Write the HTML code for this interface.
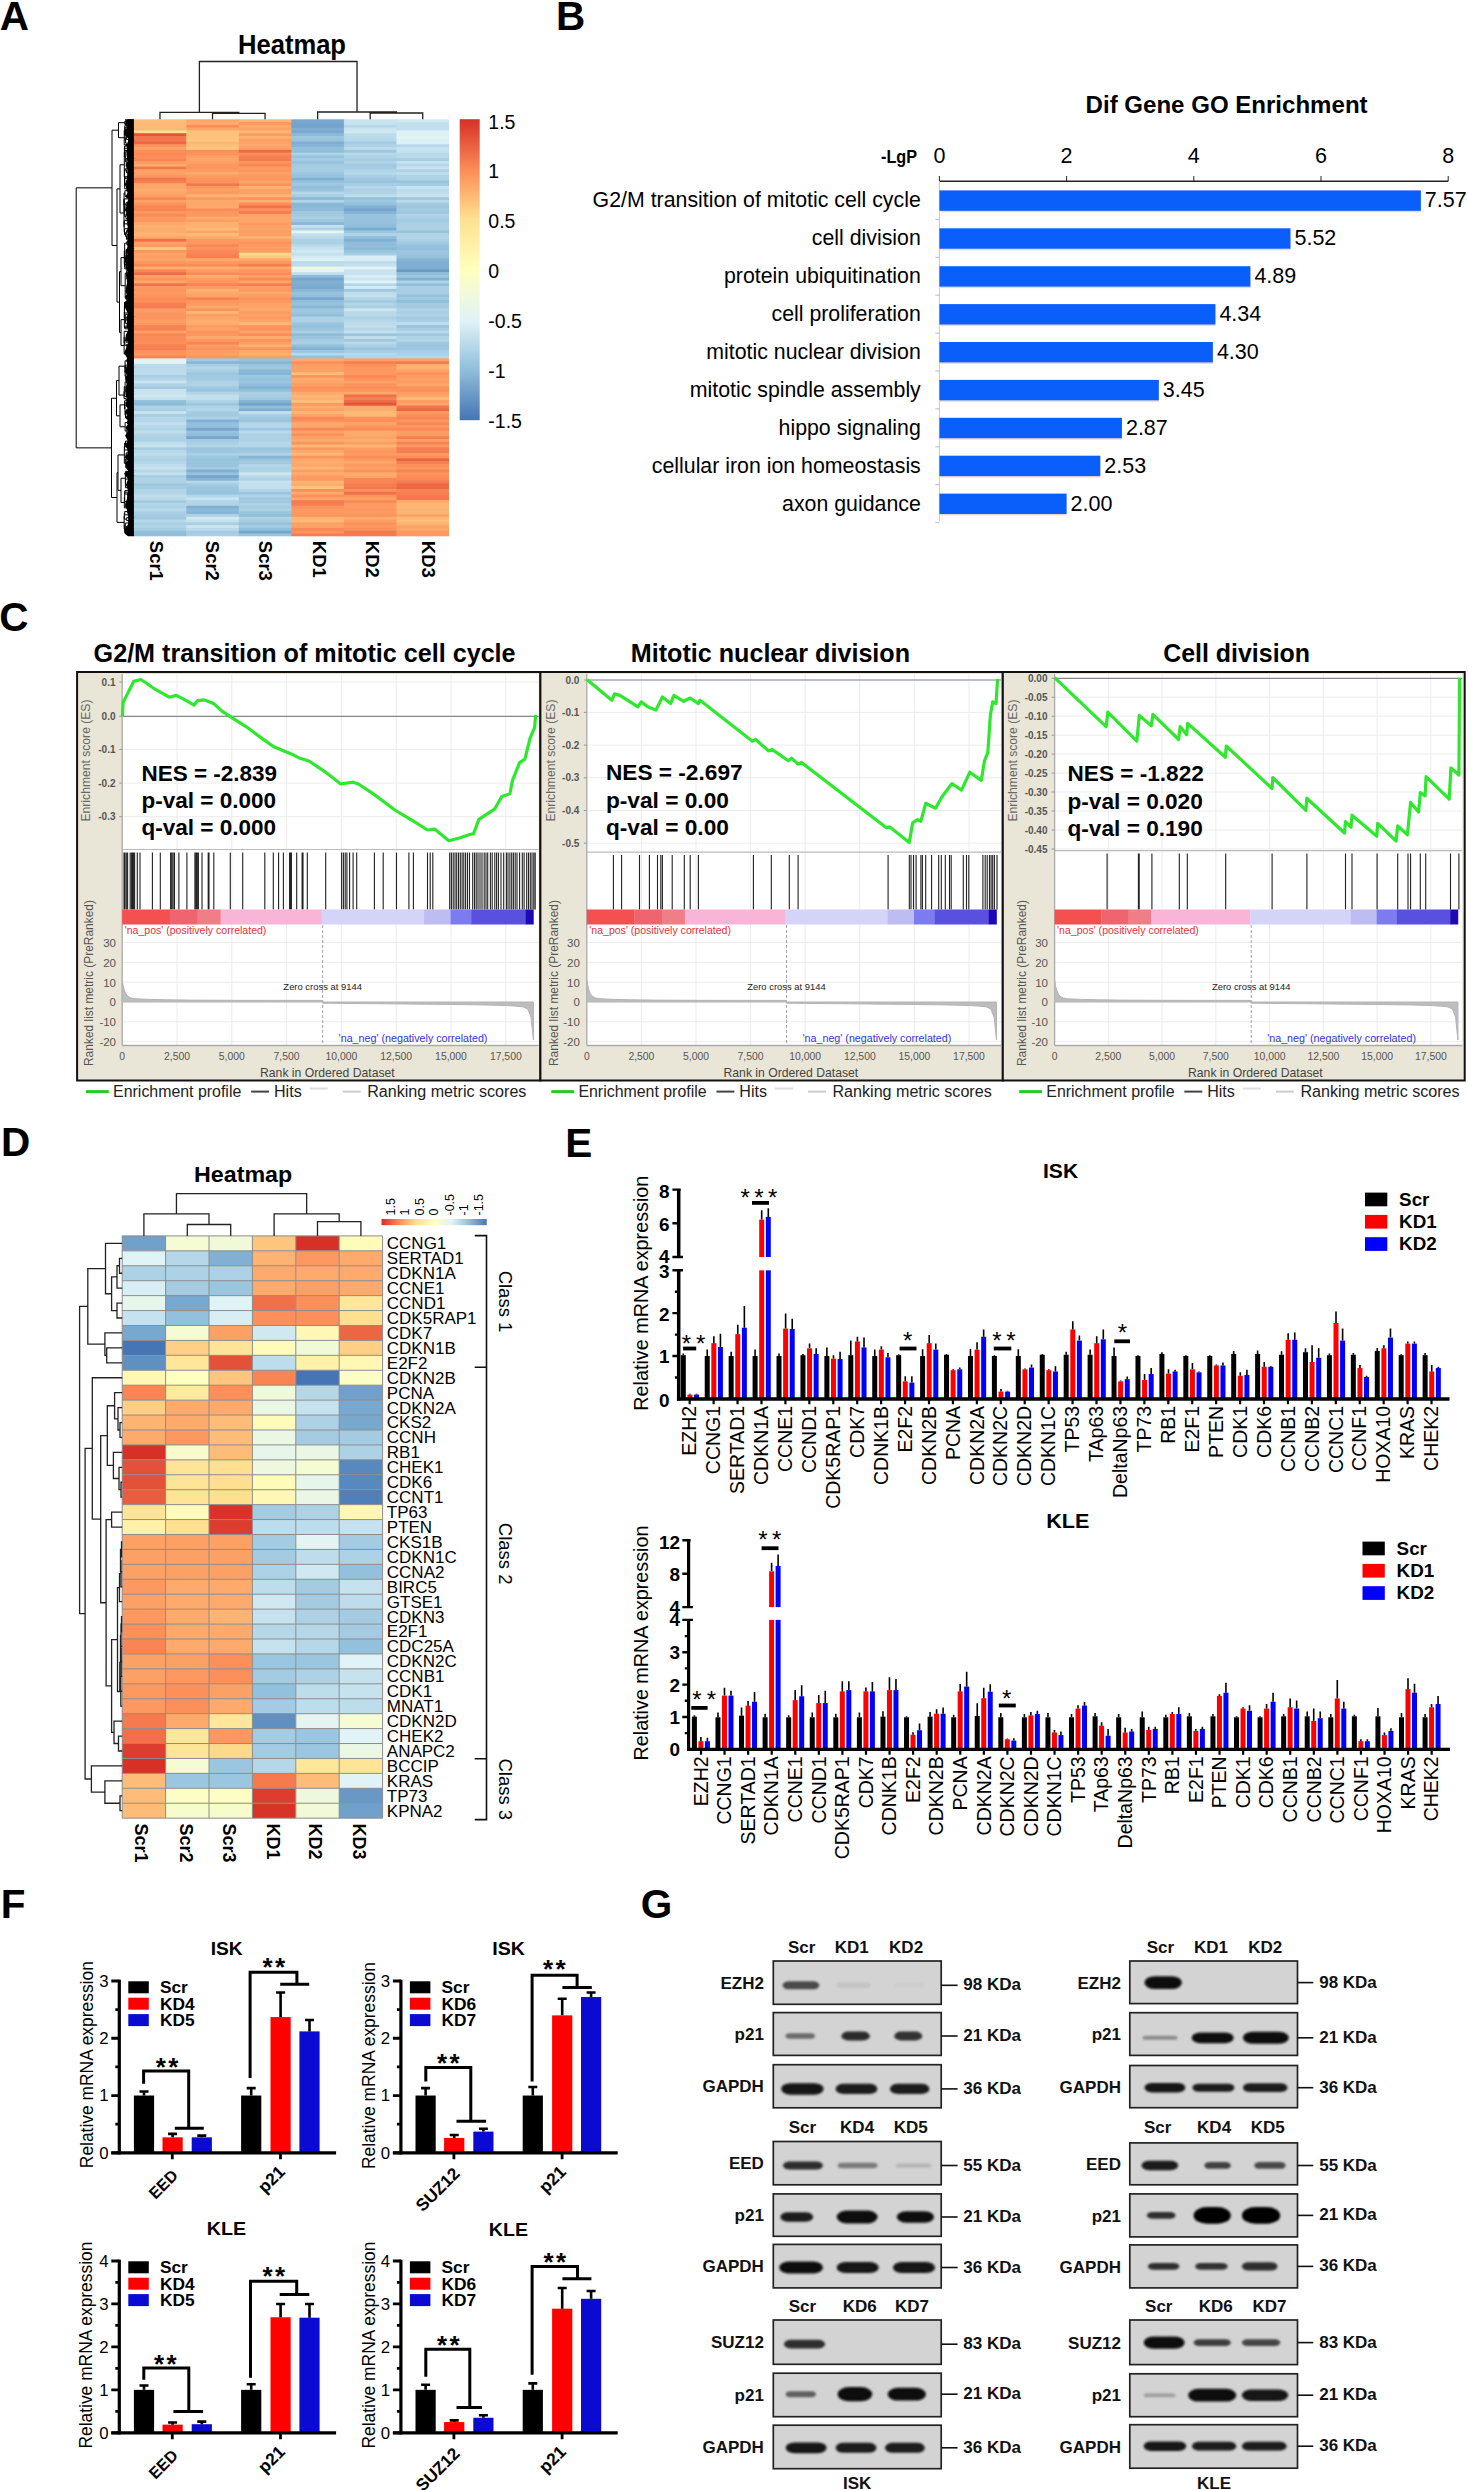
<!DOCTYPE html>
<html><head><meta charset="utf-8"><title>Figure</title>
<style>html,body{margin:0;padding:0;background:#fff;overflow:hidden}svg{display:block}text{font-family:"Liberation Sans",sans-serif}</style>
</head><body>
<svg width="1468" height="2490" viewBox="0 0 1468 2490">
<rect width="1468" height="2490" fill="#fff"/>
<text x="-0.2" y="29.6" font-size="40.5" font-weight="bold">A</text>
<text x="238" y="54.3" font-size="27" font-weight="bold" textLength="108" lengthAdjust="spacingAndGlyphs">Heatmap</text>
<rect x="133.7" y="119.3" width="53.15" height="3.38" fill="#fdbd79"/>
<rect x="186.25" y="119.3" width="53.15" height="3.38" fill="#fda66a"/>
<rect x="238.8" y="119.3" width="53.15" height="3.38" fill="#fdb574"/>
<rect x="291.35" y="119.3" width="53.15" height="3.38" fill="#77a6ce"/>
<rect x="343.9" y="119.3" width="53.15" height="3.38" fill="#c9e4f0"/>
<rect x="396.45" y="119.3" width="52.55" height="3.38" fill="#cfe8f2"/>
<rect x="133.7" y="122.08" width="53.15" height="3.38" fill="#fdb976"/>
<rect x="186.25" y="122.08" width="53.15" height="3.38" fill="#fdaa6c"/>
<rect x="238.8" y="122.08" width="53.15" height="3.38" fill="#fc965f"/>
<rect x="291.35" y="122.08" width="53.15" height="3.38" fill="#76a5cd"/>
<rect x="343.9" y="122.08" width="53.15" height="3.38" fill="#c6e2ef"/>
<rect x="396.45" y="122.08" width="52.55" height="3.38" fill="#c1dfed"/>
<rect x="133.7" y="124.86" width="53.15" height="3.38" fill="#fdba77"/>
<rect x="186.25" y="124.86" width="53.15" height="3.38" fill="#fc8d59"/>
<rect x="238.8" y="124.86" width="53.15" height="3.38" fill="#fdaa6c"/>
<rect x="291.35" y="124.86" width="53.15" height="3.38" fill="#74a3cc"/>
<rect x="343.9" y="124.86" width="53.15" height="3.38" fill="#b6d8e9"/>
<rect x="396.45" y="124.86" width="52.55" height="3.38" fill="#c2dfed"/>
<rect x="133.7" y="127.64" width="53.15" height="3.38" fill="#fdb976"/>
<rect x="186.25" y="127.64" width="53.15" height="3.38" fill="#fda569"/>
<rect x="238.8" y="127.64" width="53.15" height="3.38" fill="#fda267"/>
<rect x="291.35" y="127.64" width="53.15" height="3.38" fill="#7faed2"/>
<rect x="343.9" y="127.64" width="53.15" height="3.38" fill="#cae4f0"/>
<rect x="396.45" y="127.64" width="52.55" height="3.38" fill="#c1dfed"/>
<rect x="133.7" y="130.42" width="53.15" height="3.38" fill="#fee090"/>
<rect x="186.25" y="130.42" width="53.15" height="3.38" fill="#fdc37d"/>
<rect x="238.8" y="130.42" width="53.15" height="3.38" fill="#fdb674"/>
<rect x="291.35" y="130.42" width="53.15" height="3.38" fill="#7aa9cf"/>
<rect x="343.9" y="130.42" width="53.15" height="3.38" fill="#cfe8f2"/>
<rect x="396.45" y="130.42" width="52.55" height="3.38" fill="#dff2f8"/>
<rect x="133.7" y="133.2" width="53.15" height="3.38" fill="#e5543a"/>
<rect x="186.25" y="133.2" width="53.15" height="3.38" fill="#fdc17b"/>
<rect x="238.8" y="133.2" width="53.15" height="3.38" fill="#fc9c63"/>
<rect x="291.35" y="133.2" width="53.15" height="3.38" fill="#8bb9d8"/>
<rect x="343.9" y="133.2" width="53.15" height="3.38" fill="#bcdbeb"/>
<rect x="396.45" y="133.2" width="52.55" height="3.38" fill="#ddf1f7"/>
<rect x="133.7" y="135.98" width="53.15" height="3.38" fill="#f3774d"/>
<rect x="186.25" y="135.98" width="53.15" height="3.38" fill="#fdc27c"/>
<rect x="238.8" y="135.98" width="53.15" height="3.38" fill="#fdb171"/>
<rect x="291.35" y="135.98" width="53.15" height="3.38" fill="#9fc8e0"/>
<rect x="343.9" y="135.98" width="53.15" height="3.38" fill="#b9daea"/>
<rect x="396.45" y="135.98" width="52.55" height="3.38" fill="#e4f5f0"/>
<rect x="133.7" y="138.76" width="53.15" height="3.38" fill="#f3774d"/>
<rect x="186.25" y="138.76" width="53.15" height="3.38" fill="#fdc67f"/>
<rect x="238.8" y="138.76" width="53.15" height="3.38" fill="#fca166"/>
<rect x="291.35" y="138.76" width="53.15" height="3.38" fill="#97c3dd"/>
<rect x="343.9" y="138.76" width="53.15" height="3.38" fill="#b6d7e9"/>
<rect x="396.45" y="138.76" width="52.55" height="3.38" fill="#dbf0f6"/>
<rect x="133.7" y="141.54" width="53.15" height="3.38" fill="#ed6845"/>
<rect x="186.25" y="141.54" width="53.15" height="3.38" fill="#fdb674"/>
<rect x="238.8" y="141.54" width="53.15" height="3.38" fill="#fda368"/>
<rect x="291.35" y="141.54" width="53.15" height="3.38" fill="#7faed2"/>
<rect x="343.9" y="141.54" width="53.15" height="3.38" fill="#a3cbe2"/>
<rect x="396.45" y="141.54" width="52.55" height="3.38" fill="#def1f7"/>
<rect x="133.7" y="144.32" width="53.15" height="3.38" fill="#fc935d"/>
<rect x="186.25" y="144.32" width="53.15" height="3.38" fill="#fdc07b"/>
<rect x="238.8" y="144.32" width="53.15" height="3.38" fill="#fda66a"/>
<rect x="291.35" y="144.32" width="53.15" height="3.38" fill="#87b5d6"/>
<rect x="343.9" y="144.32" width="53.15" height="3.38" fill="#add2e5"/>
<rect x="396.45" y="144.32" width="52.55" height="3.38" fill="#b6d7e9"/>
<rect x="133.7" y="147.1" width="53.15" height="3.38" fill="#fca267"/>
<rect x="186.25" y="147.1" width="53.15" height="3.38" fill="#fdc57e"/>
<rect x="238.8" y="147.1" width="53.15" height="3.38" fill="#fc9f65"/>
<rect x="291.35" y="147.1" width="53.15" height="3.38" fill="#92c0dc"/>
<rect x="343.9" y="147.1" width="53.15" height="3.38" fill="#bbdaea"/>
<rect x="396.45" y="147.1" width="52.55" height="3.38" fill="#c8e3ef"/>
<rect x="133.7" y="149.88" width="53.15" height="3.38" fill="#fc8e59"/>
<rect x="186.25" y="149.88" width="53.15" height="3.38" fill="#fc905b"/>
<rect x="238.8" y="149.88" width="53.15" height="3.38" fill="#ee6946"/>
<rect x="291.35" y="149.88" width="53.15" height="3.38" fill="#90bedb"/>
<rect x="343.9" y="149.88" width="53.15" height="3.38" fill="#9dc7df"/>
<rect x="396.45" y="149.88" width="52.55" height="3.38" fill="#c6e2ee"/>
<rect x="133.7" y="152.66" width="53.15" height="3.38" fill="#fa8957"/>
<rect x="186.25" y="152.66" width="53.15" height="3.38" fill="#fc935d"/>
<rect x="238.8" y="152.66" width="53.15" height="3.38" fill="#fc8e5a"/>
<rect x="291.35" y="152.66" width="53.15" height="3.38" fill="#aed2e6"/>
<rect x="343.9" y="152.66" width="53.15" height="3.38" fill="#b8d8e9"/>
<rect x="396.45" y="152.66" width="52.55" height="3.38" fill="#b8d9e9"/>
<rect x="133.7" y="155.44" width="53.15" height="3.38" fill="#fc8e5a"/>
<rect x="186.25" y="155.44" width="53.15" height="3.38" fill="#fca066"/>
<rect x="238.8" y="155.44" width="53.15" height="3.38" fill="#f67e51"/>
<rect x="291.35" y="155.44" width="53.15" height="3.38" fill="#97c3dd"/>
<rect x="343.9" y="155.44" width="53.15" height="3.38" fill="#add2e5"/>
<rect x="396.45" y="155.44" width="52.55" height="3.38" fill="#b9daea"/>
<rect x="133.7" y="158.22" width="53.15" height="3.38" fill="#f98756"/>
<rect x="186.25" y="158.22" width="53.15" height="3.38" fill="#fda569"/>
<rect x="238.8" y="158.22" width="53.15" height="3.38" fill="#f57a4f"/>
<rect x="291.35" y="158.22" width="53.15" height="3.38" fill="#a3cbe2"/>
<rect x="343.9" y="158.22" width="53.15" height="3.38" fill="#a5cce3"/>
<rect x="396.45" y="158.22" width="52.55" height="3.38" fill="#a7cee3"/>
<rect x="133.7" y="161" width="53.15" height="3.38" fill="#fc9a62"/>
<rect x="186.25" y="161" width="53.15" height="3.38" fill="#fca066"/>
<rect x="238.8" y="161" width="53.15" height="3.38" fill="#fc965f"/>
<rect x="291.35" y="161" width="53.15" height="3.38" fill="#97c3dd"/>
<rect x="343.9" y="161" width="53.15" height="3.38" fill="#b0d3e6"/>
<rect x="396.45" y="161" width="52.55" height="3.38" fill="#c6e2ee"/>
<rect x="133.7" y="163.78" width="53.15" height="3.38" fill="#fdae6f"/>
<rect x="186.25" y="163.78" width="53.15" height="3.38" fill="#fc9760"/>
<rect x="238.8" y="163.78" width="53.15" height="3.38" fill="#fa8756"/>
<rect x="291.35" y="163.78" width="53.15" height="3.38" fill="#a4cbe2"/>
<rect x="343.9" y="163.78" width="53.15" height="3.38" fill="#a1cae1"/>
<rect x="396.45" y="163.78" width="52.55" height="3.38" fill="#b6d7e9"/>
<rect x="133.7" y="166.56" width="53.15" height="3.38" fill="#f4784e"/>
<rect x="186.25" y="166.56" width="53.15" height="3.38" fill="#fc965f"/>
<rect x="238.8" y="166.56" width="53.15" height="3.38" fill="#fc9b62"/>
<rect x="291.35" y="166.56" width="53.15" height="3.38" fill="#a6cde3"/>
<rect x="343.9" y="166.56" width="53.15" height="3.38" fill="#a6cde3"/>
<rect x="396.45" y="166.56" width="52.55" height="3.38" fill="#c8e3ef"/>
<rect x="133.7" y="169.34" width="53.15" height="3.38" fill="#fca065"/>
<rect x="186.25" y="169.34" width="53.15" height="3.38" fill="#fc9c63"/>
<rect x="238.8" y="169.34" width="53.15" height="3.38" fill="#fc955e"/>
<rect x="291.35" y="169.34" width="53.15" height="3.38" fill="#a5cce2"/>
<rect x="343.9" y="169.34" width="53.15" height="3.38" fill="#b1d4e7"/>
<rect x="396.45" y="169.34" width="52.55" height="3.38" fill="#add1e5"/>
<rect x="133.7" y="172.12" width="53.15" height="3.38" fill="#fca166"/>
<rect x="186.25" y="172.12" width="53.15" height="3.38" fill="#fda96b"/>
<rect x="238.8" y="172.12" width="53.15" height="3.38" fill="#fc9e64"/>
<rect x="291.35" y="172.12" width="53.15" height="3.38" fill="#9bc6df"/>
<rect x="343.9" y="172.12" width="53.15" height="3.38" fill="#b6d7e9"/>
<rect x="396.45" y="172.12" width="52.55" height="3.38" fill="#bfddec"/>
<rect x="133.7" y="174.9" width="53.15" height="3.38" fill="#fc9760"/>
<rect x="186.25" y="174.9" width="53.15" height="3.38" fill="#fc9c63"/>
<rect x="238.8" y="174.9" width="53.15" height="3.38" fill="#fc9860"/>
<rect x="291.35" y="174.9" width="53.15" height="3.38" fill="#97c3dd"/>
<rect x="343.9" y="174.9" width="53.15" height="3.38" fill="#a9cfe4"/>
<rect x="396.45" y="174.9" width="52.55" height="3.38" fill="#aed2e6"/>
<rect x="133.7" y="177.68" width="53.15" height="3.38" fill="#f3774d"/>
<rect x="186.25" y="177.68" width="53.15" height="3.38" fill="#fc925c"/>
<rect x="238.8" y="177.68" width="53.15" height="3.38" fill="#fc955e"/>
<rect x="291.35" y="177.68" width="53.15" height="3.38" fill="#81b0d3"/>
<rect x="343.9" y="177.68" width="53.15" height="3.38" fill="#9ec7e0"/>
<rect x="396.45" y="177.68" width="52.55" height="3.38" fill="#aed2e6"/>
<rect x="133.7" y="180.46" width="53.15" height="3.38" fill="#f77f52"/>
<rect x="186.25" y="180.46" width="53.15" height="3.38" fill="#fc935d"/>
<rect x="238.8" y="180.46" width="53.15" height="3.38" fill="#fda468"/>
<rect x="291.35" y="180.46" width="53.15" height="3.38" fill="#95c2dc"/>
<rect x="343.9" y="180.46" width="53.15" height="3.38" fill="#99c4de"/>
<rect x="396.45" y="180.46" width="52.55" height="3.38" fill="#98c4de"/>
<rect x="133.7" y="183.24" width="53.15" height="3.38" fill="#fda468"/>
<rect x="186.25" y="183.24" width="53.15" height="3.38" fill="#f3774d"/>
<rect x="238.8" y="183.24" width="53.15" height="3.38" fill="#fc915c"/>
<rect x="291.35" y="183.24" width="53.15" height="3.38" fill="#9dc7df"/>
<rect x="343.9" y="183.24" width="53.15" height="3.38" fill="#a6cde3"/>
<rect x="396.45" y="183.24" width="52.55" height="3.38" fill="#a3cbe2"/>
<rect x="133.7" y="186.02" width="53.15" height="3.38" fill="#fda669"/>
<rect x="186.25" y="186.02" width="53.15" height="3.38" fill="#fc9961"/>
<rect x="238.8" y="186.02" width="53.15" height="3.38" fill="#fdb473"/>
<rect x="291.35" y="186.02" width="53.15" height="3.38" fill="#91bfdb"/>
<rect x="343.9" y="186.02" width="53.15" height="3.38" fill="#b5d7e8"/>
<rect x="396.45" y="186.02" width="52.55" height="3.38" fill="#c9e4f0"/>
<rect x="133.7" y="188.8" width="53.15" height="3.38" fill="#fdae6f"/>
<rect x="186.25" y="188.8" width="53.15" height="3.38" fill="#fc9f65"/>
<rect x="238.8" y="188.8" width="53.15" height="3.38" fill="#fc9f65"/>
<rect x="291.35" y="188.8" width="53.15" height="3.38" fill="#99c4de"/>
<rect x="343.9" y="188.8" width="53.15" height="3.38" fill="#abd0e5"/>
<rect x="396.45" y="188.8" width="52.55" height="3.38" fill="#bbdbeb"/>
<rect x="133.7" y="191.58" width="53.15" height="3.38" fill="#fda66a"/>
<rect x="186.25" y="191.58" width="53.15" height="3.38" fill="#fc9b62"/>
<rect x="238.8" y="191.58" width="53.15" height="3.38" fill="#fca166"/>
<rect x="291.35" y="191.58" width="53.15" height="3.38" fill="#b6d7e9"/>
<rect x="343.9" y="191.58" width="53.15" height="3.38" fill="#b1d4e7"/>
<rect x="396.45" y="191.58" width="52.55" height="3.38" fill="#c1deec"/>
<rect x="133.7" y="194.36" width="53.15" height="3.38" fill="#fc9f65"/>
<rect x="186.25" y="194.36" width="53.15" height="3.38" fill="#fdb372"/>
<rect x="238.8" y="194.36" width="53.15" height="3.38" fill="#fdb775"/>
<rect x="291.35" y="194.36" width="53.15" height="3.38" fill="#a7cee3"/>
<rect x="343.9" y="194.36" width="53.15" height="3.38" fill="#beddec"/>
<rect x="396.45" y="194.36" width="52.55" height="3.38" fill="#c8e3ef"/>
<rect x="133.7" y="197.14" width="53.15" height="3.38" fill="#fa8756"/>
<rect x="186.25" y="197.14" width="53.15" height="3.38" fill="#fc9a61"/>
<rect x="238.8" y="197.14" width="53.15" height="3.38" fill="#fc925c"/>
<rect x="291.35" y="197.14" width="53.15" height="3.38" fill="#8bb9d8"/>
<rect x="343.9" y="197.14" width="53.15" height="3.38" fill="#94c1dc"/>
<rect x="396.45" y="197.14" width="52.55" height="3.38" fill="#9ec8e0"/>
<rect x="133.7" y="199.92" width="53.15" height="3.38" fill="#fca267"/>
<rect x="186.25" y="199.92" width="53.15" height="3.38" fill="#fda86b"/>
<rect x="238.8" y="199.92" width="53.15" height="3.38" fill="#fdaf6f"/>
<rect x="291.35" y="199.92" width="53.15" height="3.38" fill="#b2d5e7"/>
<rect x="343.9" y="199.92" width="53.15" height="3.38" fill="#9ec8e0"/>
<rect x="396.45" y="199.92" width="52.55" height="3.38" fill="#badaea"/>
<rect x="133.7" y="202.7" width="53.15" height="3.38" fill="#fc935d"/>
<rect x="186.25" y="202.7" width="53.15" height="3.38" fill="#fda76a"/>
<rect x="238.8" y="202.7" width="53.15" height="3.38" fill="#fc8c58"/>
<rect x="291.35" y="202.7" width="53.15" height="3.38" fill="#89b7d7"/>
<rect x="343.9" y="202.7" width="53.15" height="3.38" fill="#94c1dc"/>
<rect x="396.45" y="202.7" width="52.55" height="3.38" fill="#a2cae1"/>
<rect x="133.7" y="205.48" width="53.15" height="3.38" fill="#f98454"/>
<rect x="186.25" y="205.48" width="53.15" height="3.38" fill="#fdaa6c"/>
<rect x="238.8" y="205.48" width="53.15" height="3.38" fill="#f1724b"/>
<rect x="291.35" y="205.48" width="53.15" height="3.38" fill="#8bb9d8"/>
<rect x="343.9" y="205.48" width="53.15" height="3.38" fill="#82b1d4"/>
<rect x="396.45" y="205.48" width="52.55" height="3.38" fill="#9dc7df"/>
<rect x="133.7" y="208.26" width="53.15" height="3.38" fill="#f98555"/>
<rect x="186.25" y="208.26" width="53.15" height="3.38" fill="#fc8d59"/>
<rect x="238.8" y="208.26" width="53.15" height="3.38" fill="#fc8f5a"/>
<rect x="291.35" y="208.26" width="53.15" height="3.38" fill="#8dbbd9"/>
<rect x="343.9" y="208.26" width="53.15" height="3.38" fill="#75a4cd"/>
<rect x="396.45" y="208.26" width="52.55" height="3.38" fill="#a2cae1"/>
<rect x="133.7" y="211.04" width="53.15" height="3.38" fill="#fc9860"/>
<rect x="186.25" y="211.04" width="53.15" height="3.38" fill="#fc965f"/>
<rect x="238.8" y="211.04" width="53.15" height="3.38" fill="#f57c50"/>
<rect x="291.35" y="211.04" width="53.15" height="3.38" fill="#9ec7e0"/>
<rect x="343.9" y="211.04" width="53.15" height="3.38" fill="#85b3d5"/>
<rect x="396.45" y="211.04" width="52.55" height="3.38" fill="#9cc6df"/>
<rect x="133.7" y="213.82" width="53.15" height="3.38" fill="#fb8a57"/>
<rect x="186.25" y="213.82" width="53.15" height="3.38" fill="#fc9961"/>
<rect x="238.8" y="213.82" width="53.15" height="3.38" fill="#fda569"/>
<rect x="291.35" y="213.82" width="53.15" height="3.38" fill="#a1cae1"/>
<rect x="343.9" y="213.82" width="53.15" height="3.38" fill="#98c4de"/>
<rect x="396.45" y="213.82" width="52.55" height="3.38" fill="#b1d4e7"/>
<rect x="133.7" y="216.6" width="53.15" height="3.38" fill="#fc9a62"/>
<rect x="186.25" y="216.6" width="53.15" height="3.38" fill="#fdac6d"/>
<rect x="238.8" y="216.6" width="53.15" height="3.38" fill="#fda669"/>
<rect x="291.35" y="216.6" width="53.15" height="3.38" fill="#aad0e4"/>
<rect x="343.9" y="216.6" width="53.15" height="3.38" fill="#98c3dd"/>
<rect x="396.45" y="216.6" width="52.55" height="3.38" fill="#abd0e5"/>
<rect x="133.7" y="219.38" width="53.15" height="3.38" fill="#fc965f"/>
<rect x="186.25" y="219.38" width="53.15" height="3.38" fill="#fc9c63"/>
<rect x="238.8" y="219.38" width="53.15" height="3.38" fill="#fda669"/>
<rect x="291.35" y="219.38" width="53.15" height="3.38" fill="#9cc7df"/>
<rect x="343.9" y="219.38" width="53.15" height="3.38" fill="#95c2dc"/>
<rect x="396.45" y="219.38" width="52.55" height="3.38" fill="#a3cbe2"/>
<rect x="133.7" y="222.16" width="53.15" height="3.38" fill="#fda669"/>
<rect x="186.25" y="222.16" width="53.15" height="3.38" fill="#fdaf6f"/>
<rect x="238.8" y="222.16" width="53.15" height="3.38" fill="#fc9b62"/>
<rect x="291.35" y="222.16" width="53.15" height="3.38" fill="#89b7d7"/>
<rect x="343.9" y="222.16" width="53.15" height="3.38" fill="#95c1dc"/>
<rect x="396.45" y="222.16" width="52.55" height="3.38" fill="#a9cfe4"/>
<rect x="133.7" y="224.94" width="53.15" height="3.38" fill="#fdb272"/>
<rect x="186.25" y="224.94" width="53.15" height="3.38" fill="#fdb070"/>
<rect x="238.8" y="224.94" width="53.15" height="3.38" fill="#fda267"/>
<rect x="291.35" y="224.94" width="53.15" height="3.38" fill="#c4e1ee"/>
<rect x="343.9" y="224.94" width="53.15" height="3.38" fill="#90bedb"/>
<rect x="396.45" y="224.94" width="52.55" height="3.38" fill="#acd1e5"/>
<rect x="133.7" y="227.72" width="53.15" height="3.38" fill="#fdab6d"/>
<rect x="186.25" y="227.72" width="53.15" height="3.38" fill="#fdba77"/>
<rect x="238.8" y="227.72" width="53.15" height="3.38" fill="#fda367"/>
<rect x="291.35" y="227.72" width="53.15" height="3.38" fill="#afd3e6"/>
<rect x="343.9" y="227.72" width="53.15" height="3.38" fill="#7dacd1"/>
<rect x="396.45" y="227.72" width="52.55" height="3.38" fill="#acd1e5"/>
<rect x="133.7" y="230.5" width="53.15" height="3.38" fill="#fdae6f"/>
<rect x="186.25" y="230.5" width="53.15" height="3.38" fill="#fda569"/>
<rect x="238.8" y="230.5" width="53.15" height="3.38" fill="#fca166"/>
<rect x="291.35" y="230.5" width="53.15" height="3.38" fill="#e5f5ef"/>
<rect x="343.9" y="230.5" width="53.15" height="3.38" fill="#9ec7e0"/>
<rect x="396.45" y="230.5" width="52.55" height="3.38" fill="#97c3dd"/>
<rect x="133.7" y="233.28" width="53.15" height="3.38" fill="#fdb473"/>
<rect x="186.25" y="233.28" width="53.15" height="3.38" fill="#fdba77"/>
<rect x="238.8" y="233.28" width="53.15" height="3.38" fill="#fc9e64"/>
<rect x="291.35" y="233.28" width="53.15" height="3.38" fill="#c1dfed"/>
<rect x="343.9" y="233.28" width="53.15" height="3.38" fill="#afd3e6"/>
<rect x="396.45" y="233.28" width="52.55" height="3.38" fill="#b1d4e7"/>
<rect x="133.7" y="236.06" width="53.15" height="3.38" fill="#fda66a"/>
<rect x="186.25" y="236.06" width="53.15" height="3.38" fill="#fdac6e"/>
<rect x="238.8" y="236.06" width="53.15" height="3.38" fill="#fdb372"/>
<rect x="291.35" y="236.06" width="53.15" height="3.38" fill="#badaea"/>
<rect x="343.9" y="236.06" width="53.15" height="3.38" fill="#90bedb"/>
<rect x="396.45" y="236.06" width="52.55" height="3.38" fill="#b0d4e7"/>
<rect x="133.7" y="238.84" width="53.15" height="3.38" fill="#f06e48"/>
<rect x="186.25" y="238.84" width="53.15" height="3.38" fill="#fc9860"/>
<rect x="238.8" y="238.84" width="53.15" height="3.38" fill="#fc9d64"/>
<rect x="291.35" y="238.84" width="53.15" height="3.38" fill="#acd1e5"/>
<rect x="343.9" y="238.84" width="53.15" height="3.38" fill="#80afd2"/>
<rect x="396.45" y="238.84" width="52.55" height="3.38" fill="#abd0e5"/>
<rect x="133.7" y="241.62" width="53.15" height="3.38" fill="#fca066"/>
<rect x="186.25" y="241.62" width="53.15" height="3.38" fill="#fc9860"/>
<rect x="238.8" y="241.62" width="53.15" height="3.38" fill="#fc945d"/>
<rect x="291.35" y="241.62" width="53.15" height="3.38" fill="#acd1e5"/>
<rect x="343.9" y="241.62" width="53.15" height="3.38" fill="#8fbdda"/>
<rect x="396.45" y="241.62" width="52.55" height="3.38" fill="#a2cae1"/>
<rect x="133.7" y="244.4" width="53.15" height="3.38" fill="#fc9c63"/>
<rect x="186.25" y="244.4" width="53.15" height="3.38" fill="#fa8756"/>
<rect x="238.8" y="244.4" width="53.15" height="3.38" fill="#fc9c63"/>
<rect x="291.35" y="244.4" width="53.15" height="3.38" fill="#bbdaea"/>
<rect x="343.9" y="244.4" width="53.15" height="3.38" fill="#90bedb"/>
<rect x="396.45" y="244.4" width="52.55" height="3.38" fill="#97c3dd"/>
<rect x="133.7" y="247.18" width="53.15" height="3.38" fill="#fdc880"/>
<rect x="186.25" y="247.18" width="53.15" height="3.38" fill="#fc925c"/>
<rect x="238.8" y="247.18" width="53.15" height="3.38" fill="#fc9c63"/>
<rect x="291.35" y="247.18" width="53.15" height="3.38" fill="#c5e1ee"/>
<rect x="343.9" y="247.18" width="53.15" height="3.38" fill="#8ab8d7"/>
<rect x="396.45" y="247.18" width="52.55" height="3.38" fill="#91bfdb"/>
<rect x="133.7" y="249.96" width="53.15" height="3.38" fill="#fc955e"/>
<rect x="186.25" y="249.96" width="53.15" height="3.38" fill="#fa8957"/>
<rect x="238.8" y="249.96" width="53.15" height="3.38" fill="#fc9f65"/>
<rect x="291.35" y="249.96" width="53.15" height="3.38" fill="#cfe8f2"/>
<rect x="343.9" y="249.96" width="53.15" height="3.38" fill="#98c4de"/>
<rect x="396.45" y="249.96" width="52.55" height="3.38" fill="#9bc6df"/>
<rect x="133.7" y="252.74" width="53.15" height="3.38" fill="#fda569"/>
<rect x="186.25" y="252.74" width="53.15" height="3.38" fill="#f88354"/>
<rect x="238.8" y="252.74" width="53.15" height="3.38" fill="#fed88b"/>
<rect x="291.35" y="252.74" width="53.15" height="3.38" fill="#c3e0ed"/>
<rect x="343.9" y="252.74" width="53.15" height="3.38" fill="#a8cee3"/>
<rect x="396.45" y="252.74" width="52.55" height="3.38" fill="#9bc5df"/>
<rect x="133.7" y="255.52" width="53.15" height="3.38" fill="#fc9f65"/>
<rect x="186.25" y="255.52" width="53.15" height="3.38" fill="#f77f52"/>
<rect x="238.8" y="255.52" width="53.15" height="3.38" fill="#fdca81"/>
<rect x="291.35" y="255.52" width="53.15" height="3.38" fill="#d4ebf4"/>
<rect x="343.9" y="255.52" width="53.15" height="3.38" fill="#d9eef5"/>
<rect x="396.45" y="255.52" width="52.55" height="3.38" fill="#94c1dc"/>
<rect x="133.7" y="258.3" width="53.15" height="3.38" fill="#fca267"/>
<rect x="186.25" y="258.3" width="53.15" height="3.38" fill="#fda96c"/>
<rect x="238.8" y="258.3" width="53.15" height="3.38" fill="#fda96b"/>
<rect x="291.35" y="258.3" width="53.15" height="3.38" fill="#ddf1f7"/>
<rect x="343.9" y="258.3" width="53.15" height="3.38" fill="#d7edf5"/>
<rect x="396.45" y="258.3" width="52.55" height="3.38" fill="#85b3d5"/>
<rect x="133.7" y="261.08" width="53.15" height="3.38" fill="#fc9760"/>
<rect x="186.25" y="261.08" width="53.15" height="3.38" fill="#fc9961"/>
<rect x="238.8" y="261.08" width="53.15" height="3.38" fill="#fc965f"/>
<rect x="291.35" y="261.08" width="53.15" height="3.38" fill="#bddceb"/>
<rect x="343.9" y="261.08" width="53.15" height="3.38" fill="#beddec"/>
<rect x="396.45" y="261.08" width="52.55" height="3.38" fill="#7faed2"/>
<rect x="133.7" y="263.86" width="53.15" height="3.38" fill="#fa8957"/>
<rect x="186.25" y="263.86" width="53.15" height="3.38" fill="#fc8d59"/>
<rect x="238.8" y="263.86" width="53.15" height="3.38" fill="#f67f51"/>
<rect x="291.35" y="263.86" width="53.15" height="3.38" fill="#beddec"/>
<rect x="343.9" y="263.86" width="53.15" height="3.38" fill="#c6e2ef"/>
<rect x="396.45" y="263.86" width="52.55" height="3.38" fill="#81afd3"/>
<rect x="133.7" y="266.64" width="53.15" height="3.38" fill="#fdae6f"/>
<rect x="186.25" y="266.64" width="53.15" height="3.38" fill="#fdad6e"/>
<rect x="238.8" y="266.64" width="53.15" height="3.38" fill="#fda96c"/>
<rect x="291.35" y="266.64" width="53.15" height="3.38" fill="#eef8de"/>
<rect x="343.9" y="266.64" width="53.15" height="3.38" fill="#e2f4f5"/>
<rect x="396.45" y="266.64" width="52.55" height="3.38" fill="#7faed2"/>
<rect x="133.7" y="269.42" width="53.15" height="3.38" fill="#f98655"/>
<rect x="186.25" y="269.42" width="53.15" height="3.38" fill="#fc9b62"/>
<rect x="238.8" y="269.42" width="53.15" height="3.38" fill="#fc975f"/>
<rect x="291.35" y="269.42" width="53.15" height="3.38" fill="#e2f4f5"/>
<rect x="343.9" y="269.42" width="53.15" height="3.38" fill="#c8e3ef"/>
<rect x="396.45" y="269.42" width="52.55" height="3.38" fill="#6b9ac7"/>
<rect x="133.7" y="272.2" width="53.15" height="3.38" fill="#ef6b47"/>
<rect x="186.25" y="272.2" width="53.15" height="3.38" fill="#fb8a58"/>
<rect x="238.8" y="272.2" width="53.15" height="3.38" fill="#fc8c58"/>
<rect x="291.35" y="272.2" width="53.15" height="3.38" fill="#c0deec"/>
<rect x="343.9" y="272.2" width="53.15" height="3.38" fill="#c8e3ef"/>
<rect x="396.45" y="272.2" width="52.55" height="3.38" fill="#8fbdda"/>
<rect x="133.7" y="274.98" width="53.15" height="3.38" fill="#fca066"/>
<rect x="186.25" y="274.98" width="53.15" height="3.38" fill="#fdae6f"/>
<rect x="238.8" y="274.98" width="53.15" height="3.38" fill="#fc9f65"/>
<rect x="291.35" y="274.98" width="53.15" height="3.38" fill="#8cbad8"/>
<rect x="343.9" y="274.98" width="53.15" height="3.38" fill="#d7edf5"/>
<rect x="396.45" y="274.98" width="52.55" height="3.38" fill="#9dc7df"/>
<rect x="133.7" y="277.76" width="53.15" height="3.38" fill="#fc925c"/>
<rect x="186.25" y="277.76" width="53.15" height="3.38" fill="#fc9c63"/>
<rect x="238.8" y="277.76" width="53.15" height="3.38" fill="#fb8a57"/>
<rect x="291.35" y="277.76" width="53.15" height="3.38" fill="#75a4cd"/>
<rect x="343.9" y="277.76" width="53.15" height="3.38" fill="#cae4f0"/>
<rect x="396.45" y="277.76" width="52.55" height="3.38" fill="#82b0d3"/>
<rect x="133.7" y="280.54" width="53.15" height="3.38" fill="#fda86b"/>
<rect x="186.25" y="280.54" width="53.15" height="3.38" fill="#fc9760"/>
<rect x="238.8" y="280.54" width="53.15" height="3.38" fill="#fda368"/>
<rect x="291.35" y="280.54" width="53.15" height="3.38" fill="#82b0d3"/>
<rect x="343.9" y="280.54" width="53.15" height="3.38" fill="#e2f4f5"/>
<rect x="396.45" y="280.54" width="52.55" height="3.38" fill="#b0d4e6"/>
<rect x="133.7" y="283.32" width="53.15" height="3.38" fill="#f1714a"/>
<rect x="186.25" y="283.32" width="53.15" height="3.38" fill="#f88354"/>
<rect x="238.8" y="283.32" width="53.15" height="3.38" fill="#f67e51"/>
<rect x="291.35" y="283.32" width="53.15" height="3.38" fill="#7dacd1"/>
<rect x="343.9" y="283.32" width="53.15" height="3.38" fill="#b4d6e8"/>
<rect x="396.45" y="283.32" width="52.55" height="3.38" fill="#91bfdb"/>
<rect x="133.7" y="286.1" width="53.15" height="3.38" fill="#fc9a62"/>
<rect x="186.25" y="286.1" width="53.15" height="3.38" fill="#fc9860"/>
<rect x="238.8" y="286.1" width="53.15" height="3.38" fill="#fc9e64"/>
<rect x="291.35" y="286.1" width="53.15" height="3.38" fill="#7aa9cf"/>
<rect x="343.9" y="286.1" width="53.15" height="3.38" fill="#d4ebf4"/>
<rect x="396.45" y="286.1" width="52.55" height="3.38" fill="#abd0e5"/>
<rect x="133.7" y="288.88" width="53.15" height="3.38" fill="#fc955f"/>
<rect x="186.25" y="288.88" width="53.15" height="3.38" fill="#fdb171"/>
<rect x="238.8" y="288.88" width="53.15" height="3.38" fill="#fc9860"/>
<rect x="291.35" y="288.88" width="53.15" height="3.38" fill="#88b6d6"/>
<rect x="343.9" y="288.88" width="53.15" height="3.38" fill="#a0c9e1"/>
<rect x="396.45" y="288.88" width="52.55" height="3.38" fill="#a8cee3"/>
<rect x="133.7" y="291.66" width="53.15" height="3.38" fill="#fc9a62"/>
<rect x="186.25" y="291.66" width="53.15" height="3.38" fill="#fda96b"/>
<rect x="238.8" y="291.66" width="53.15" height="3.38" fill="#fda76a"/>
<rect x="291.35" y="291.66" width="53.15" height="3.38" fill="#97c3dd"/>
<rect x="343.9" y="291.66" width="53.15" height="3.38" fill="#beddec"/>
<rect x="396.45" y="291.66" width="52.55" height="3.38" fill="#aacfe4"/>
<rect x="133.7" y="294.44" width="53.15" height="3.38" fill="#fc955e"/>
<rect x="186.25" y="294.44" width="53.15" height="3.38" fill="#fda368"/>
<rect x="238.8" y="294.44" width="53.15" height="3.38" fill="#fc9e64"/>
<rect x="291.35" y="294.44" width="53.15" height="3.38" fill="#92c0db"/>
<rect x="343.9" y="294.44" width="53.15" height="3.38" fill="#c3e0ed"/>
<rect x="396.45" y="294.44" width="52.55" height="3.38" fill="#93c1dc"/>
<rect x="133.7" y="297.22" width="53.15" height="3.38" fill="#fb8b58"/>
<rect x="186.25" y="297.22" width="53.15" height="3.38" fill="#f88253"/>
<rect x="238.8" y="297.22" width="53.15" height="3.38" fill="#fc915c"/>
<rect x="291.35" y="297.22" width="53.15" height="3.38" fill="#77a6ce"/>
<rect x="343.9" y="297.22" width="53.15" height="3.38" fill="#b1d4e7"/>
<rect x="396.45" y="297.22" width="52.55" height="3.38" fill="#a1c9e1"/>
<rect x="133.7" y="300" width="53.15" height="3.38" fill="#fc8f5b"/>
<rect x="186.25" y="300" width="53.15" height="3.38" fill="#fc965f"/>
<rect x="238.8" y="300" width="53.15" height="3.38" fill="#fc975f"/>
<rect x="291.35" y="300" width="53.15" height="3.38" fill="#90bedb"/>
<rect x="343.9" y="300" width="53.15" height="3.38" fill="#a3cbe2"/>
<rect x="396.45" y="300" width="52.55" height="3.38" fill="#8fbeda"/>
<rect x="133.7" y="302.78" width="53.15" height="3.38" fill="#f67e51"/>
<rect x="186.25" y="302.78" width="53.15" height="3.38" fill="#fc9a62"/>
<rect x="238.8" y="302.78" width="53.15" height="3.38" fill="#fda468"/>
<rect x="291.35" y="302.78" width="53.15" height="3.38" fill="#97c3dd"/>
<rect x="343.9" y="302.78" width="53.15" height="3.38" fill="#b2d5e7"/>
<rect x="396.45" y="302.78" width="52.55" height="3.38" fill="#a3cbe2"/>
<rect x="133.7" y="305.56" width="53.15" height="3.38" fill="#f67d51"/>
<rect x="186.25" y="305.56" width="53.15" height="3.38" fill="#fda96b"/>
<rect x="238.8" y="305.56" width="53.15" height="3.38" fill="#fda368"/>
<rect x="291.35" y="305.56" width="53.15" height="3.38" fill="#87b6d6"/>
<rect x="343.9" y="305.56" width="53.15" height="3.38" fill="#aad0e4"/>
<rect x="396.45" y="305.56" width="52.55" height="3.38" fill="#a2cae1"/>
<rect x="133.7" y="308.34" width="53.15" height="3.38" fill="#fc9c63"/>
<rect x="186.25" y="308.34" width="53.15" height="3.38" fill="#fc945d"/>
<rect x="238.8" y="308.34" width="53.15" height="3.38" fill="#fda86b"/>
<rect x="291.35" y="308.34" width="53.15" height="3.38" fill="#9fc8e0"/>
<rect x="343.9" y="308.34" width="53.15" height="3.38" fill="#cde7f1"/>
<rect x="396.45" y="308.34" width="52.55" height="3.38" fill="#b0d3e6"/>
<rect x="133.7" y="311.12" width="53.15" height="3.38" fill="#fc9760"/>
<rect x="186.25" y="311.12" width="53.15" height="3.38" fill="#fdb574"/>
<rect x="238.8" y="311.12" width="53.15" height="3.38" fill="#fc9c63"/>
<rect x="291.35" y="311.12" width="53.15" height="3.38" fill="#9bc5df"/>
<rect x="343.9" y="311.12" width="53.15" height="3.38" fill="#b9d9ea"/>
<rect x="396.45" y="311.12" width="52.55" height="3.38" fill="#a7cee3"/>
<rect x="133.7" y="313.9" width="53.15" height="3.38" fill="#fc965f"/>
<rect x="186.25" y="313.9" width="53.15" height="3.38" fill="#fc9d64"/>
<rect x="238.8" y="313.9" width="53.15" height="3.38" fill="#fca166"/>
<rect x="291.35" y="313.9" width="53.15" height="3.38" fill="#92c0db"/>
<rect x="343.9" y="313.9" width="53.15" height="3.38" fill="#b9d9ea"/>
<rect x="396.45" y="313.9" width="52.55" height="3.38" fill="#b1d4e7"/>
<rect x="133.7" y="316.68" width="53.15" height="3.38" fill="#fc955f"/>
<rect x="186.25" y="316.68" width="53.15" height="3.38" fill="#fda86b"/>
<rect x="238.8" y="316.68" width="53.15" height="3.38" fill="#fc9a62"/>
<rect x="291.35" y="316.68" width="53.15" height="3.38" fill="#afd3e6"/>
<rect x="343.9" y="316.68" width="53.15" height="3.38" fill="#acd1e5"/>
<rect x="396.45" y="316.68" width="52.55" height="3.38" fill="#a1c9e1"/>
<rect x="133.7" y="319.46" width="53.15" height="3.38" fill="#fc9e64"/>
<rect x="186.25" y="319.46" width="53.15" height="3.38" fill="#fdad6e"/>
<rect x="238.8" y="319.46" width="53.15" height="3.38" fill="#fda569"/>
<rect x="291.35" y="319.46" width="53.15" height="3.38" fill="#acd1e5"/>
<rect x="343.9" y="319.46" width="53.15" height="3.38" fill="#b6d7e9"/>
<rect x="396.45" y="319.46" width="52.55" height="3.38" fill="#a9cfe4"/>
<rect x="133.7" y="322.24" width="53.15" height="3.38" fill="#fc9860"/>
<rect x="186.25" y="322.24" width="53.15" height="3.38" fill="#fdab6d"/>
<rect x="238.8" y="322.24" width="53.15" height="3.38" fill="#fdb775"/>
<rect x="291.35" y="322.24" width="53.15" height="3.38" fill="#9bc6df"/>
<rect x="343.9" y="322.24" width="53.15" height="3.38" fill="#bddceb"/>
<rect x="396.45" y="322.24" width="52.55" height="3.38" fill="#bfddec"/>
<rect x="133.7" y="325.02" width="53.15" height="3.38" fill="#f98555"/>
<rect x="186.25" y="325.02" width="53.15" height="3.38" fill="#fc9c63"/>
<rect x="238.8" y="325.02" width="53.15" height="3.38" fill="#fc955e"/>
<rect x="291.35" y="325.02" width="53.15" height="3.38" fill="#94c1dc"/>
<rect x="343.9" y="325.02" width="53.15" height="3.38" fill="#c0deec"/>
<rect x="396.45" y="325.02" width="52.55" height="3.38" fill="#99c4de"/>
<rect x="133.7" y="327.8" width="53.15" height="3.38" fill="#f88253"/>
<rect x="186.25" y="327.8" width="53.15" height="3.38" fill="#fda368"/>
<rect x="238.8" y="327.8" width="53.15" height="3.38" fill="#fc925d"/>
<rect x="291.35" y="327.8" width="53.15" height="3.38" fill="#9bc6df"/>
<rect x="343.9" y="327.8" width="53.15" height="3.38" fill="#b5d7e8"/>
<rect x="396.45" y="327.8" width="52.55" height="3.38" fill="#a8cee3"/>
<rect x="133.7" y="330.58" width="53.15" height="3.38" fill="#fda267"/>
<rect x="186.25" y="330.58" width="53.15" height="3.38" fill="#fc935d"/>
<rect x="238.8" y="330.58" width="53.15" height="3.38" fill="#fda367"/>
<rect x="291.35" y="330.58" width="53.15" height="3.38" fill="#aacfe4"/>
<rect x="343.9" y="330.58" width="53.15" height="3.38" fill="#c5e1ee"/>
<rect x="396.45" y="330.58" width="52.55" height="3.38" fill="#b9d9ea"/>
<rect x="133.7" y="333.36" width="53.15" height="3.38" fill="#f98655"/>
<rect x="186.25" y="333.36" width="53.15" height="3.38" fill="#fc9760"/>
<rect x="238.8" y="333.36" width="53.15" height="3.38" fill="#fb8b58"/>
<rect x="291.35" y="333.36" width="53.15" height="3.38" fill="#8ebcd9"/>
<rect x="343.9" y="333.36" width="53.15" height="3.38" fill="#9cc6df"/>
<rect x="396.45" y="333.36" width="52.55" height="3.38" fill="#9ec8e0"/>
<rect x="133.7" y="336.14" width="53.15" height="3.38" fill="#fb8b58"/>
<rect x="186.25" y="336.14" width="53.15" height="3.38" fill="#fda96c"/>
<rect x="238.8" y="336.14" width="53.15" height="3.38" fill="#fdad6e"/>
<rect x="291.35" y="336.14" width="53.15" height="3.38" fill="#9ac5de"/>
<rect x="343.9" y="336.14" width="53.15" height="3.38" fill="#c4e0ee"/>
<rect x="396.45" y="336.14" width="52.55" height="3.38" fill="#add1e5"/>
<rect x="133.7" y="338.92" width="53.15" height="3.38" fill="#fb8b58"/>
<rect x="186.25" y="338.92" width="53.15" height="3.38" fill="#fc9961"/>
<rect x="238.8" y="338.92" width="53.15" height="3.38" fill="#fc935d"/>
<rect x="291.35" y="338.92" width="53.15" height="3.38" fill="#a5cce2"/>
<rect x="343.9" y="338.92" width="53.15" height="3.38" fill="#a0c9e0"/>
<rect x="396.45" y="338.92" width="52.55" height="3.38" fill="#b4d6e8"/>
<rect x="133.7" y="341.7" width="53.15" height="3.38" fill="#fc905b"/>
<rect x="186.25" y="341.7" width="53.15" height="3.38" fill="#f98555"/>
<rect x="238.8" y="341.7" width="53.15" height="3.38" fill="#fc9f65"/>
<rect x="291.35" y="341.7" width="53.15" height="3.38" fill="#abd0e5"/>
<rect x="343.9" y="341.7" width="53.15" height="3.38" fill="#badaea"/>
<rect x="396.45" y="341.7" width="52.55" height="3.38" fill="#9fc8e0"/>
<rect x="133.7" y="344.48" width="53.15" height="3.38" fill="#f78052"/>
<rect x="186.25" y="344.48" width="53.15" height="3.38" fill="#fc9b62"/>
<rect x="238.8" y="344.48" width="53.15" height="3.38" fill="#fdb171"/>
<rect x="291.35" y="344.48" width="53.15" height="3.38" fill="#92c0db"/>
<rect x="343.9" y="344.48" width="53.15" height="3.38" fill="#abd0e5"/>
<rect x="396.45" y="344.48" width="52.55" height="3.38" fill="#9ac5de"/>
<rect x="133.7" y="347.26" width="53.15" height="3.38" fill="#f67f51"/>
<rect x="186.25" y="347.26" width="53.15" height="3.38" fill="#fc925d"/>
<rect x="238.8" y="347.26" width="53.15" height="3.38" fill="#fc915c"/>
<rect x="291.35" y="347.26" width="53.15" height="3.38" fill="#84b2d4"/>
<rect x="343.9" y="347.26" width="53.15" height="3.38" fill="#9bc5df"/>
<rect x="396.45" y="347.26" width="52.55" height="3.38" fill="#9bc6df"/>
<rect x="133.7" y="350.04" width="53.15" height="3.38" fill="#fc8f5b"/>
<rect x="186.25" y="350.04" width="53.15" height="3.38" fill="#fc9c63"/>
<rect x="238.8" y="350.04" width="53.15" height="3.38" fill="#fda96b"/>
<rect x="291.35" y="350.04" width="53.15" height="3.38" fill="#9bc6df"/>
<rect x="343.9" y="350.04" width="53.15" height="3.38" fill="#a7cde3"/>
<rect x="396.45" y="350.04" width="52.55" height="3.38" fill="#a8cee4"/>
<rect x="133.7" y="352.82" width="53.15" height="3.38" fill="#fc9a61"/>
<rect x="186.25" y="352.82" width="53.15" height="3.38" fill="#fda368"/>
<rect x="238.8" y="352.82" width="53.15" height="3.38" fill="#fdb171"/>
<rect x="291.35" y="352.82" width="53.15" height="3.38" fill="#b7d8e9"/>
<rect x="343.9" y="352.82" width="53.15" height="3.38" fill="#b7d8e9"/>
<rect x="396.45" y="352.82" width="52.55" height="3.38" fill="#afd3e6"/>
<rect x="133.7" y="355.6" width="53.15" height="3.38" fill="#f88253"/>
<rect x="186.25" y="355.6" width="53.15" height="3.38" fill="#fc965f"/>
<rect x="238.8" y="355.6" width="53.15" height="3.38" fill="#fca166"/>
<rect x="291.35" y="355.6" width="53.15" height="3.38" fill="#92bfdb"/>
<rect x="343.9" y="355.6" width="53.15" height="3.38" fill="#b2d4e7"/>
<rect x="396.45" y="355.6" width="52.55" height="3.38" fill="#b4d6e8"/>
<rect x="133.7" y="358.38" width="53.15" height="3.38" fill="#e0f3f7"/>
<rect x="186.25" y="358.38" width="53.15" height="3.38" fill="#a1cae1"/>
<rect x="238.8" y="358.38" width="53.15" height="3.38" fill="#96c2dd"/>
<rect x="291.35" y="358.38" width="53.15" height="3.38" fill="#fdaa6c"/>
<rect x="343.9" y="358.38" width="53.15" height="3.38" fill="#fca066"/>
<rect x="396.45" y="358.38" width="52.55" height="3.38" fill="#fca267"/>
<rect x="133.7" y="361.16" width="53.15" height="3.38" fill="#e1f3f6"/>
<rect x="186.25" y="361.16" width="53.15" height="3.38" fill="#89b7d7"/>
<rect x="238.8" y="361.16" width="53.15" height="3.38" fill="#87b5d6"/>
<rect x="291.35" y="361.16" width="53.15" height="3.38" fill="#fc8e5a"/>
<rect x="343.9" y="361.16" width="53.15" height="3.38" fill="#f67e51"/>
<rect x="396.45" y="361.16" width="52.55" height="3.38" fill="#f47a4f"/>
<rect x="133.7" y="363.94" width="53.15" height="3.38" fill="#bddceb"/>
<rect x="186.25" y="363.94" width="53.15" height="3.38" fill="#a8cee3"/>
<rect x="238.8" y="363.94" width="53.15" height="3.38" fill="#9bc5df"/>
<rect x="291.35" y="363.94" width="53.15" height="3.38" fill="#fc9c63"/>
<rect x="343.9" y="363.94" width="53.15" height="3.38" fill="#fc905b"/>
<rect x="396.45" y="363.94" width="52.55" height="3.38" fill="#fdae6f"/>
<rect x="133.7" y="366.72" width="53.15" height="3.38" fill="#b9d9ea"/>
<rect x="186.25" y="366.72" width="53.15" height="3.38" fill="#b4d6e8"/>
<rect x="238.8" y="366.72" width="53.15" height="3.38" fill="#9fc8e0"/>
<rect x="291.35" y="366.72" width="53.15" height="3.38" fill="#fca166"/>
<rect x="343.9" y="366.72" width="53.15" height="3.38" fill="#fc9a61"/>
<rect x="396.45" y="366.72" width="52.55" height="3.38" fill="#fdb473"/>
<rect x="133.7" y="369.5" width="53.15" height="3.38" fill="#bcdbeb"/>
<rect x="186.25" y="369.5" width="53.15" height="3.38" fill="#aacfe4"/>
<rect x="238.8" y="369.5" width="53.15" height="3.38" fill="#89b7d7"/>
<rect x="291.35" y="369.5" width="53.15" height="3.38" fill="#fca166"/>
<rect x="343.9" y="369.5" width="53.15" height="3.38" fill="#fc9861"/>
<rect x="396.45" y="369.5" width="52.55" height="3.38" fill="#fca166"/>
<rect x="133.7" y="372.28" width="53.15" height="3.38" fill="#bedceb"/>
<rect x="186.25" y="372.28" width="53.15" height="3.38" fill="#9dc7e0"/>
<rect x="238.8" y="372.28" width="53.15" height="3.38" fill="#86b5d6"/>
<rect x="291.35" y="372.28" width="53.15" height="3.38" fill="#fdbc78"/>
<rect x="343.9" y="372.28" width="53.15" height="3.38" fill="#fc9860"/>
<rect x="396.45" y="372.28" width="52.55" height="3.38" fill="#fc8f5b"/>
<rect x="133.7" y="375.06" width="53.15" height="3.38" fill="#a8cee4"/>
<rect x="186.25" y="375.06" width="53.15" height="3.38" fill="#a1cae1"/>
<rect x="238.8" y="375.06" width="53.15" height="3.38" fill="#9dc7e0"/>
<rect x="291.35" y="375.06" width="53.15" height="3.38" fill="#fc965f"/>
<rect x="343.9" y="375.06" width="53.15" height="3.38" fill="#fb8a57"/>
<rect x="396.45" y="375.06" width="52.55" height="3.38" fill="#fc9a62"/>
<rect x="133.7" y="377.84" width="53.15" height="3.38" fill="#b2d4e7"/>
<rect x="186.25" y="377.84" width="53.15" height="3.38" fill="#a3cbe2"/>
<rect x="238.8" y="377.84" width="53.15" height="3.38" fill="#94c1dc"/>
<rect x="291.35" y="377.84" width="53.15" height="3.38" fill="#fdac6e"/>
<rect x="343.9" y="377.84" width="53.15" height="3.38" fill="#fc935d"/>
<rect x="396.45" y="377.84" width="52.55" height="3.38" fill="#fca066"/>
<rect x="133.7" y="380.62" width="53.15" height="3.38" fill="#c8e3ef"/>
<rect x="186.25" y="380.62" width="53.15" height="3.38" fill="#add1e5"/>
<rect x="238.8" y="380.62" width="53.15" height="3.38" fill="#9ac5de"/>
<rect x="291.35" y="380.62" width="53.15" height="3.38" fill="#fda669"/>
<rect x="343.9" y="380.62" width="53.15" height="3.38" fill="#fca267"/>
<rect x="396.45" y="380.62" width="52.55" height="3.38" fill="#fc9c63"/>
<rect x="133.7" y="383.4" width="53.15" height="3.38" fill="#afd3e6"/>
<rect x="186.25" y="383.4" width="53.15" height="3.38" fill="#b0d4e6"/>
<rect x="238.8" y="383.4" width="53.15" height="3.38" fill="#91bfdb"/>
<rect x="291.35" y="383.4" width="53.15" height="3.38" fill="#fc9e64"/>
<rect x="343.9" y="383.4" width="53.15" height="3.38" fill="#fc945e"/>
<rect x="396.45" y="383.4" width="52.55" height="3.38" fill="#fda669"/>
<rect x="133.7" y="386.18" width="53.15" height="3.38" fill="#a2cae1"/>
<rect x="186.25" y="386.18" width="53.15" height="3.38" fill="#a1cae1"/>
<rect x="238.8" y="386.18" width="53.15" height="3.38" fill="#84b2d4"/>
<rect x="291.35" y="386.18" width="53.15" height="3.38" fill="#fc925c"/>
<rect x="343.9" y="386.18" width="53.15" height="3.38" fill="#fc8c58"/>
<rect x="396.45" y="386.18" width="52.55" height="3.38" fill="#fc915b"/>
<rect x="133.7" y="388.96" width="53.15" height="3.38" fill="#c8e3ef"/>
<rect x="186.25" y="388.96" width="53.15" height="3.38" fill="#99c5de"/>
<rect x="238.8" y="388.96" width="53.15" height="3.38" fill="#92bfdb"/>
<rect x="291.35" y="388.96" width="53.15" height="3.38" fill="#fc955e"/>
<rect x="343.9" y="388.96" width="53.15" height="3.38" fill="#fc945e"/>
<rect x="396.45" y="388.96" width="52.55" height="3.38" fill="#fc8f5a"/>
<rect x="133.7" y="391.74" width="53.15" height="3.38" fill="#c9e4f0"/>
<rect x="186.25" y="391.74" width="53.15" height="3.38" fill="#b3d5e7"/>
<rect x="238.8" y="391.74" width="53.15" height="3.38" fill="#abd0e4"/>
<rect x="291.35" y="391.74" width="53.15" height="3.38" fill="#fda96b"/>
<rect x="343.9" y="391.74" width="53.15" height="3.38" fill="#fda86b"/>
<rect x="396.45" y="391.74" width="52.55" height="3.38" fill="#fc9d64"/>
<rect x="133.7" y="394.52" width="53.15" height="3.38" fill="#cde7f1"/>
<rect x="186.25" y="394.52" width="53.15" height="3.38" fill="#c0deec"/>
<rect x="238.8" y="394.52" width="53.15" height="3.38" fill="#a7cee3"/>
<rect x="291.35" y="394.52" width="53.15" height="3.38" fill="#fdb573"/>
<rect x="343.9" y="394.52" width="53.15" height="3.38" fill="#f06e48"/>
<rect x="396.45" y="394.52" width="52.55" height="3.38" fill="#fda569"/>
<rect x="133.7" y="397.3" width="53.15" height="3.38" fill="#c4e0ee"/>
<rect x="186.25" y="397.3" width="53.15" height="3.38" fill="#c0deec"/>
<rect x="238.8" y="397.3" width="53.15" height="3.38" fill="#a0c9e0"/>
<rect x="291.35" y="397.3" width="53.15" height="3.38" fill="#fdaf70"/>
<rect x="343.9" y="397.3" width="53.15" height="3.38" fill="#f78152"/>
<rect x="396.45" y="397.3" width="52.55" height="3.38" fill="#fdb976"/>
<rect x="133.7" y="400.08" width="53.15" height="3.38" fill="#91bfdb"/>
<rect x="186.25" y="400.08" width="53.15" height="3.38" fill="#afd3e6"/>
<rect x="238.8" y="400.08" width="53.15" height="3.38" fill="#84b2d4"/>
<rect x="291.35" y="400.08" width="53.15" height="3.38" fill="#fdbf7a"/>
<rect x="343.9" y="400.08" width="53.15" height="3.38" fill="#ed6845"/>
<rect x="396.45" y="400.08" width="52.55" height="3.38" fill="#fc9b62"/>
<rect x="133.7" y="402.86" width="53.15" height="3.38" fill="#8dbcd9"/>
<rect x="186.25" y="402.86" width="53.15" height="3.38" fill="#9cc7df"/>
<rect x="238.8" y="402.86" width="53.15" height="3.38" fill="#75a3cc"/>
<rect x="291.35" y="402.86" width="53.15" height="3.38" fill="#fc9a62"/>
<rect x="343.9" y="402.86" width="53.15" height="3.38" fill="#e6553b"/>
<rect x="396.45" y="402.86" width="52.55" height="3.38" fill="#fda669"/>
<rect x="133.7" y="405.64" width="53.15" height="3.38" fill="#afd3e6"/>
<rect x="186.25" y="405.64" width="53.15" height="3.38" fill="#b0d3e6"/>
<rect x="238.8" y="405.64" width="53.15" height="3.38" fill="#91bfdb"/>
<rect x="291.35" y="405.64" width="53.15" height="3.38" fill="#fdab6d"/>
<rect x="343.9" y="405.64" width="53.15" height="3.38" fill="#fdac6d"/>
<rect x="396.45" y="405.64" width="52.55" height="3.38" fill="#f2734b"/>
<rect x="133.7" y="408.42" width="53.15" height="3.38" fill="#a7cee3"/>
<rect x="186.25" y="408.42" width="53.15" height="3.38" fill="#b3d6e8"/>
<rect x="238.8" y="408.42" width="53.15" height="3.38" fill="#7faed2"/>
<rect x="291.35" y="408.42" width="53.15" height="3.38" fill="#fca167"/>
<rect x="343.9" y="408.42" width="53.15" height="3.38" fill="#fdad6e"/>
<rect x="396.45" y="408.42" width="52.55" height="3.38" fill="#ed6845"/>
<rect x="133.7" y="411.2" width="53.15" height="3.38" fill="#c9e4f0"/>
<rect x="186.25" y="411.2" width="53.15" height="3.38" fill="#a3cbe2"/>
<rect x="238.8" y="411.2" width="53.15" height="3.38" fill="#c1dfed"/>
<rect x="291.35" y="411.2" width="53.15" height="3.38" fill="#fdb674"/>
<rect x="343.9" y="411.2" width="53.15" height="3.38" fill="#fdb976"/>
<rect x="396.45" y="411.2" width="52.55" height="3.38" fill="#fc9b62"/>
<rect x="133.7" y="413.98" width="53.15" height="3.38" fill="#a8cee3"/>
<rect x="186.25" y="413.98" width="53.15" height="3.38" fill="#a1cae1"/>
<rect x="238.8" y="413.98" width="53.15" height="3.38" fill="#a9cfe4"/>
<rect x="291.35" y="413.98" width="53.15" height="3.38" fill="#fda569"/>
<rect x="343.9" y="413.98" width="53.15" height="3.38" fill="#fdb976"/>
<rect x="396.45" y="413.98" width="52.55" height="3.38" fill="#fc8e5a"/>
<rect x="133.7" y="416.76" width="53.15" height="3.38" fill="#b3d6e8"/>
<rect x="186.25" y="416.76" width="53.15" height="3.38" fill="#afd3e6"/>
<rect x="238.8" y="416.76" width="53.15" height="3.38" fill="#9fc8e0"/>
<rect x="291.35" y="416.76" width="53.15" height="3.38" fill="#fa8857"/>
<rect x="343.9" y="416.76" width="53.15" height="3.38" fill="#fc925c"/>
<rect x="396.45" y="416.76" width="52.55" height="3.38" fill="#f98655"/>
<rect x="133.7" y="419.54" width="53.15" height="3.38" fill="#b4d6e8"/>
<rect x="186.25" y="419.54" width="53.15" height="3.38" fill="#82b0d3"/>
<rect x="238.8" y="419.54" width="53.15" height="3.38" fill="#9ac5de"/>
<rect x="291.35" y="419.54" width="53.15" height="3.38" fill="#fc935d"/>
<rect x="343.9" y="419.54" width="53.15" height="3.38" fill="#fc905b"/>
<rect x="396.45" y="419.54" width="52.55" height="3.38" fill="#fc9760"/>
<rect x="133.7" y="422.32" width="53.15" height="3.38" fill="#c1dfed"/>
<rect x="186.25" y="422.32" width="53.15" height="3.38" fill="#93c0dc"/>
<rect x="238.8" y="422.32" width="53.15" height="3.38" fill="#b4d6e8"/>
<rect x="291.35" y="422.32" width="53.15" height="3.38" fill="#fda96b"/>
<rect x="343.9" y="422.32" width="53.15" height="3.38" fill="#fda569"/>
<rect x="396.45" y="422.32" width="52.55" height="3.38" fill="#f98655"/>
<rect x="133.7" y="425.1" width="53.15" height="3.38" fill="#b5d6e8"/>
<rect x="186.25" y="425.1" width="53.15" height="3.38" fill="#91bfdb"/>
<rect x="238.8" y="425.1" width="53.15" height="3.38" fill="#b4d6e8"/>
<rect x="291.35" y="425.1" width="53.15" height="3.38" fill="#fda368"/>
<rect x="343.9" y="425.1" width="53.15" height="3.38" fill="#fc945d"/>
<rect x="396.45" y="425.1" width="52.55" height="3.38" fill="#fc975f"/>
<rect x="133.7" y="427.88" width="53.15" height="3.38" fill="#afd3e6"/>
<rect x="186.25" y="427.88" width="53.15" height="3.38" fill="#77a6ce"/>
<rect x="238.8" y="427.88" width="53.15" height="3.38" fill="#9ec8e0"/>
<rect x="291.35" y="427.88" width="53.15" height="3.38" fill="#fa8756"/>
<rect x="343.9" y="427.88" width="53.15" height="3.38" fill="#fc8c58"/>
<rect x="396.45" y="427.88" width="52.55" height="3.38" fill="#fa8756"/>
<rect x="133.7" y="430.66" width="53.15" height="3.38" fill="#c0deec"/>
<rect x="186.25" y="430.66" width="53.15" height="3.38" fill="#95c2dd"/>
<rect x="238.8" y="430.66" width="53.15" height="3.38" fill="#bcdceb"/>
<rect x="291.35" y="430.66" width="53.15" height="3.38" fill="#fda367"/>
<rect x="343.9" y="430.66" width="53.15" height="3.38" fill="#fdaa6c"/>
<rect x="396.45" y="430.66" width="52.55" height="3.38" fill="#fc9e64"/>
<rect x="133.7" y="433.44" width="53.15" height="3.38" fill="#b0d3e6"/>
<rect x="186.25" y="433.44" width="53.15" height="3.38" fill="#8fbdda"/>
<rect x="238.8" y="433.44" width="53.15" height="3.38" fill="#acd1e5"/>
<rect x="291.35" y="433.44" width="53.15" height="3.38" fill="#fc905b"/>
<rect x="343.9" y="433.44" width="53.15" height="3.38" fill="#fda96c"/>
<rect x="396.45" y="433.44" width="52.55" height="3.38" fill="#fc9b62"/>
<rect x="133.7" y="436.22" width="53.15" height="3.38" fill="#acd0e5"/>
<rect x="186.25" y="436.22" width="53.15" height="3.38" fill="#76a4cd"/>
<rect x="238.8" y="436.22" width="53.15" height="3.38" fill="#acd1e5"/>
<rect x="291.35" y="436.22" width="53.15" height="3.38" fill="#fca065"/>
<rect x="343.9" y="436.22" width="53.15" height="3.38" fill="#fca167"/>
<rect x="396.45" y="436.22" width="52.55" height="3.38" fill="#f67f51"/>
<rect x="133.7" y="439" width="53.15" height="3.38" fill="#add1e5"/>
<rect x="186.25" y="439" width="53.15" height="3.38" fill="#a4cbe2"/>
<rect x="238.8" y="439" width="53.15" height="3.38" fill="#add1e5"/>
<rect x="291.35" y="439" width="53.15" height="3.38" fill="#fdab6d"/>
<rect x="343.9" y="439" width="53.15" height="3.38" fill="#fdae6f"/>
<rect x="396.45" y="439" width="52.55" height="3.38" fill="#fca166"/>
<rect x="133.7" y="441.78" width="53.15" height="3.38" fill="#c0deec"/>
<rect x="186.25" y="441.78" width="53.15" height="3.38" fill="#abd0e5"/>
<rect x="238.8" y="441.78" width="53.15" height="3.38" fill="#b7d8e9"/>
<rect x="291.35" y="441.78" width="53.15" height="3.38" fill="#fc945e"/>
<rect x="343.9" y="441.78" width="53.15" height="3.38" fill="#fc9f65"/>
<rect x="396.45" y="441.78" width="52.55" height="3.38" fill="#f88253"/>
<rect x="133.7" y="444.56" width="53.15" height="3.38" fill="#c6e2ef"/>
<rect x="186.25" y="444.56" width="53.15" height="3.38" fill="#b1d4e7"/>
<rect x="238.8" y="444.56" width="53.15" height="3.38" fill="#b4d6e8"/>
<rect x="291.35" y="444.56" width="53.15" height="3.38" fill="#fdb775"/>
<rect x="343.9" y="444.56" width="53.15" height="3.38" fill="#fdb574"/>
<rect x="396.45" y="444.56" width="52.55" height="3.38" fill="#fc9860"/>
<rect x="133.7" y="447.34" width="53.15" height="3.38" fill="#a6cde3"/>
<rect x="186.25" y="447.34" width="53.15" height="3.38" fill="#9cc6df"/>
<rect x="238.8" y="447.34" width="53.15" height="3.38" fill="#98c4de"/>
<rect x="291.35" y="447.34" width="53.15" height="3.38" fill="#fc9961"/>
<rect x="343.9" y="447.34" width="53.15" height="3.38" fill="#fc9d64"/>
<rect x="396.45" y="447.34" width="52.55" height="3.38" fill="#f67d50"/>
<rect x="133.7" y="450.12" width="53.15" height="3.38" fill="#b8d9e9"/>
<rect x="186.25" y="450.12" width="53.15" height="3.38" fill="#9dc7df"/>
<rect x="238.8" y="450.12" width="53.15" height="3.38" fill="#9fc8e0"/>
<rect x="291.35" y="450.12" width="53.15" height="3.38" fill="#fdab6d"/>
<rect x="343.9" y="450.12" width="53.15" height="3.38" fill="#fc955e"/>
<rect x="396.45" y="450.12" width="52.55" height="3.38" fill="#f67d51"/>
<rect x="133.7" y="452.9" width="53.15" height="3.38" fill="#beddeb"/>
<rect x="186.25" y="452.9" width="53.15" height="3.38" fill="#abd0e4"/>
<rect x="238.8" y="452.9" width="53.15" height="3.38" fill="#afd3e6"/>
<rect x="291.35" y="452.9" width="53.15" height="3.38" fill="#fdb876"/>
<rect x="343.9" y="452.9" width="53.15" height="3.38" fill="#fc9d64"/>
<rect x="396.45" y="452.9" width="52.55" height="3.38" fill="#fc9961"/>
<rect x="133.7" y="455.68" width="53.15" height="3.38" fill="#b2d5e7"/>
<rect x="186.25" y="455.68" width="53.15" height="3.38" fill="#9dc7e0"/>
<rect x="238.8" y="455.68" width="53.15" height="3.38" fill="#88b6d6"/>
<rect x="291.35" y="455.68" width="53.15" height="3.38" fill="#fc965f"/>
<rect x="343.9" y="455.68" width="53.15" height="3.38" fill="#fc8d59"/>
<rect x="396.45" y="455.68" width="52.55" height="3.38" fill="#fc905b"/>
<rect x="133.7" y="458.46" width="53.15" height="3.38" fill="#add1e5"/>
<rect x="186.25" y="458.46" width="53.15" height="3.38" fill="#97c3dd"/>
<rect x="238.8" y="458.46" width="53.15" height="3.38" fill="#9ac5de"/>
<rect x="291.35" y="458.46" width="53.15" height="3.38" fill="#fda86b"/>
<rect x="343.9" y="458.46" width="53.15" height="3.38" fill="#fc9a62"/>
<rect x="396.45" y="458.46" width="52.55" height="3.38" fill="#eb6242"/>
<rect x="133.7" y="461.24" width="53.15" height="3.38" fill="#b4d6e8"/>
<rect x="186.25" y="461.24" width="53.15" height="3.38" fill="#99c4de"/>
<rect x="238.8" y="461.24" width="53.15" height="3.38" fill="#a1cae1"/>
<rect x="291.35" y="461.24" width="53.15" height="3.38" fill="#fdaa6c"/>
<rect x="343.9" y="461.24" width="53.15" height="3.38" fill="#fda569"/>
<rect x="396.45" y="461.24" width="52.55" height="3.38" fill="#f78153"/>
<rect x="133.7" y="464.02" width="53.15" height="3.38" fill="#beddec"/>
<rect x="186.25" y="464.02" width="53.15" height="3.38" fill="#98c4de"/>
<rect x="238.8" y="464.02" width="53.15" height="3.38" fill="#b4d6e8"/>
<rect x="291.35" y="464.02" width="53.15" height="3.38" fill="#fda86b"/>
<rect x="343.9" y="464.02" width="53.15" height="3.38" fill="#fc9961"/>
<rect x="396.45" y="464.02" width="52.55" height="3.38" fill="#fc905b"/>
<rect x="133.7" y="466.8" width="53.15" height="3.38" fill="#c6e2ef"/>
<rect x="186.25" y="466.8" width="53.15" height="3.38" fill="#a4cbe2"/>
<rect x="238.8" y="466.8" width="53.15" height="3.38" fill="#aed2e6"/>
<rect x="291.35" y="466.8" width="53.15" height="3.38" fill="#fdb674"/>
<rect x="343.9" y="466.8" width="53.15" height="3.38" fill="#fda368"/>
<rect x="396.45" y="466.8" width="52.55" height="3.38" fill="#fc9860"/>
<rect x="133.7" y="469.58" width="53.15" height="3.38" fill="#b5d7e8"/>
<rect x="186.25" y="469.58" width="53.15" height="3.38" fill="#81afd3"/>
<rect x="238.8" y="469.58" width="53.15" height="3.38" fill="#b1d4e7"/>
<rect x="291.35" y="469.58" width="53.15" height="3.38" fill="#fc9f65"/>
<rect x="343.9" y="469.58" width="53.15" height="3.38" fill="#fc925c"/>
<rect x="396.45" y="469.58" width="52.55" height="3.38" fill="#f88353"/>
<rect x="133.7" y="472.36" width="53.15" height="3.38" fill="#c3e0ed"/>
<rect x="186.25" y="472.36" width="53.15" height="3.38" fill="#96c2dd"/>
<rect x="238.8" y="472.36" width="53.15" height="3.38" fill="#cce6f1"/>
<rect x="291.35" y="472.36" width="53.15" height="3.38" fill="#fdab6d"/>
<rect x="343.9" y="472.36" width="53.15" height="3.38" fill="#fdaa6c"/>
<rect x="396.45" y="472.36" width="52.55" height="3.38" fill="#fc945e"/>
<rect x="133.7" y="475.14" width="53.15" height="3.38" fill="#a8cee3"/>
<rect x="186.25" y="475.14" width="53.15" height="3.38" fill="#75a4cd"/>
<rect x="238.8" y="475.14" width="53.15" height="3.38" fill="#b8d9e9"/>
<rect x="291.35" y="475.14" width="53.15" height="3.38" fill="#fc9c63"/>
<rect x="343.9" y="475.14" width="53.15" height="3.38" fill="#fda86b"/>
<rect x="396.45" y="475.14" width="52.55" height="3.38" fill="#fc8c58"/>
<rect x="133.7" y="477.92" width="53.15" height="3.38" fill="#aed2e6"/>
<rect x="186.25" y="477.92" width="53.15" height="3.38" fill="#86b4d5"/>
<rect x="238.8" y="477.92" width="53.15" height="3.38" fill="#b0d3e6"/>
<rect x="291.35" y="477.92" width="53.15" height="3.38" fill="#fc9860"/>
<rect x="343.9" y="477.92" width="53.15" height="3.38" fill="#f98756"/>
<rect x="396.45" y="477.92" width="52.55" height="3.38" fill="#fb8a57"/>
<rect x="133.7" y="480.7" width="53.15" height="3.38" fill="#afd2e6"/>
<rect x="186.25" y="480.7" width="53.15" height="3.38" fill="#b7d8e9"/>
<rect x="238.8" y="480.7" width="53.15" height="3.38" fill="#c7e3ef"/>
<rect x="291.35" y="480.7" width="53.15" height="3.38" fill="#fdb473"/>
<rect x="343.9" y="480.7" width="53.15" height="3.38" fill="#f98655"/>
<rect x="396.45" y="480.7" width="52.55" height="3.38" fill="#f57c50"/>
<rect x="133.7" y="483.48" width="53.15" height="3.38" fill="#9ec8e0"/>
<rect x="186.25" y="483.48" width="53.15" height="3.38" fill="#a3cbe2"/>
<rect x="238.8" y="483.48" width="53.15" height="3.38" fill="#c2dfed"/>
<rect x="291.35" y="483.48" width="53.15" height="3.38" fill="#fdad6e"/>
<rect x="343.9" y="483.48" width="53.15" height="3.38" fill="#f67d50"/>
<rect x="396.45" y="483.48" width="52.55" height="3.38" fill="#ed6945"/>
<rect x="133.7" y="486.26" width="53.15" height="3.38" fill="#a5cce2"/>
<rect x="186.25" y="486.26" width="53.15" height="3.38" fill="#9ac5de"/>
<rect x="238.8" y="486.26" width="53.15" height="3.38" fill="#c1dfed"/>
<rect x="291.35" y="486.26" width="53.15" height="3.38" fill="#fdc57e"/>
<rect x="343.9" y="486.26" width="53.15" height="3.38" fill="#f3764c"/>
<rect x="396.45" y="486.26" width="52.55" height="3.38" fill="#ed6745"/>
<rect x="133.7" y="489.04" width="53.15" height="3.38" fill="#b1d4e7"/>
<rect x="186.25" y="489.04" width="53.15" height="3.38" fill="#98c4de"/>
<rect x="238.8" y="489.04" width="53.15" height="3.38" fill="#b1d4e7"/>
<rect x="291.35" y="489.04" width="53.15" height="3.38" fill="#fc905b"/>
<rect x="343.9" y="489.04" width="53.15" height="3.38" fill="#fc925d"/>
<rect x="396.45" y="489.04" width="52.55" height="3.38" fill="#f98454"/>
<rect x="133.7" y="491.82" width="53.15" height="3.38" fill="#b2d5e7"/>
<rect x="186.25" y="491.82" width="53.15" height="3.38" fill="#97c3dd"/>
<rect x="238.8" y="491.82" width="53.15" height="3.38" fill="#9dc7df"/>
<rect x="291.35" y="491.82" width="53.15" height="3.38" fill="#fdab6d"/>
<rect x="343.9" y="491.82" width="53.15" height="3.38" fill="#f1704a"/>
<rect x="396.45" y="491.82" width="52.55" height="3.38" fill="#f78052"/>
<rect x="133.7" y="494.6" width="53.15" height="3.38" fill="#bfddec"/>
<rect x="186.25" y="494.6" width="53.15" height="3.38" fill="#b4d6e8"/>
<rect x="238.8" y="494.6" width="53.15" height="3.38" fill="#afd3e6"/>
<rect x="291.35" y="494.6" width="53.15" height="3.38" fill="#fc8f5a"/>
<rect x="343.9" y="494.6" width="53.15" height="3.38" fill="#fc925c"/>
<rect x="396.45" y="494.6" width="52.55" height="3.38" fill="#f47a4f"/>
<rect x="133.7" y="497.38" width="53.15" height="3.38" fill="#b7d8e9"/>
<rect x="186.25" y="497.38" width="53.15" height="3.38" fill="#c7e3ef"/>
<rect x="238.8" y="497.38" width="53.15" height="3.38" fill="#9fc8e0"/>
<rect x="291.35" y="497.38" width="53.15" height="3.38" fill="#fda66a"/>
<rect x="343.9" y="497.38" width="53.15" height="3.38" fill="#fc9f65"/>
<rect x="396.45" y="497.38" width="52.55" height="3.38" fill="#f3764d"/>
<rect x="133.7" y="500.16" width="53.15" height="3.38" fill="#a1cae1"/>
<rect x="186.25" y="500.16" width="53.15" height="3.38" fill="#b2d5e7"/>
<rect x="238.8" y="500.16" width="53.15" height="3.38" fill="#9fc8e0"/>
<rect x="291.35" y="500.16" width="53.15" height="3.38" fill="#f57c50"/>
<rect x="343.9" y="500.16" width="53.15" height="3.38" fill="#fa8756"/>
<rect x="396.45" y="500.16" width="52.55" height="3.38" fill="#fda96c"/>
<rect x="133.7" y="502.94" width="53.15" height="3.38" fill="#b2d5e7"/>
<rect x="186.25" y="502.94" width="53.15" height="3.38" fill="#b2d4e7"/>
<rect x="238.8" y="502.94" width="53.15" height="3.38" fill="#add1e5"/>
<rect x="291.35" y="502.94" width="53.15" height="3.38" fill="#f77f52"/>
<rect x="343.9" y="502.94" width="53.15" height="3.38" fill="#fc9a62"/>
<rect x="396.45" y="502.94" width="52.55" height="3.38" fill="#fdb674"/>
<rect x="133.7" y="505.72" width="53.15" height="3.38" fill="#afd3e6"/>
<rect x="186.25" y="505.72" width="53.15" height="3.38" fill="#82b0d3"/>
<rect x="238.8" y="505.72" width="53.15" height="3.38" fill="#a5cce2"/>
<rect x="291.35" y="505.72" width="53.15" height="3.38" fill="#fc925c"/>
<rect x="343.9" y="505.72" width="53.15" height="3.38" fill="#fc9b62"/>
<rect x="396.45" y="505.72" width="52.55" height="3.38" fill="#fdb674"/>
<rect x="133.7" y="508.5" width="53.15" height="3.38" fill="#b8d9e9"/>
<rect x="186.25" y="508.5" width="53.15" height="3.38" fill="#8cbad9"/>
<rect x="238.8" y="508.5" width="53.15" height="3.38" fill="#add2e5"/>
<rect x="291.35" y="508.5" width="53.15" height="3.38" fill="#fc9860"/>
<rect x="343.9" y="508.5" width="53.15" height="3.38" fill="#fc955e"/>
<rect x="396.45" y="508.5" width="52.55" height="3.38" fill="#fdb372"/>
<rect x="133.7" y="511.28" width="53.15" height="3.38" fill="#aacfe4"/>
<rect x="186.25" y="511.28" width="53.15" height="3.38" fill="#87b5d6"/>
<rect x="238.8" y="511.28" width="53.15" height="3.38" fill="#98c4de"/>
<rect x="291.35" y="511.28" width="53.15" height="3.38" fill="#fc9860"/>
<rect x="343.9" y="511.28" width="53.15" height="3.38" fill="#fc9961"/>
<rect x="396.45" y="511.28" width="52.55" height="3.38" fill="#fdb473"/>
<rect x="133.7" y="514.06" width="53.15" height="3.38" fill="#a3cbe2"/>
<rect x="186.25" y="514.06" width="53.15" height="3.38" fill="#acd1e5"/>
<rect x="238.8" y="514.06" width="53.15" height="3.38" fill="#90bedb"/>
<rect x="291.35" y="514.06" width="53.15" height="3.38" fill="#fc955e"/>
<rect x="343.9" y="514.06" width="53.15" height="3.38" fill="#fc955e"/>
<rect x="396.45" y="514.06" width="52.55" height="3.38" fill="#fda267"/>
<rect x="133.7" y="516.84" width="53.15" height="3.38" fill="#9fc8e0"/>
<rect x="186.25" y="516.84" width="53.15" height="3.38" fill="#d0e9f2"/>
<rect x="238.8" y="516.84" width="53.15" height="3.38" fill="#b0d3e6"/>
<rect x="291.35" y="516.84" width="53.15" height="3.38" fill="#fdb473"/>
<rect x="343.9" y="516.84" width="53.15" height="3.38" fill="#fdac6e"/>
<rect x="396.45" y="516.84" width="52.55" height="3.38" fill="#fdb674"/>
<rect x="133.7" y="519.62" width="53.15" height="3.38" fill="#b8d9e9"/>
<rect x="186.25" y="519.62" width="53.15" height="3.38" fill="#c5e1ee"/>
<rect x="238.8" y="519.62" width="53.15" height="3.38" fill="#a7cde3"/>
<rect x="291.35" y="519.62" width="53.15" height="3.38" fill="#fdb976"/>
<rect x="343.9" y="519.62" width="53.15" height="3.38" fill="#fc9d64"/>
<rect x="396.45" y="519.62" width="52.55" height="3.38" fill="#fdc07b"/>
<rect x="133.7" y="522.4" width="53.15" height="3.38" fill="#abd0e5"/>
<rect x="186.25" y="522.4" width="53.15" height="3.38" fill="#aacfe4"/>
<rect x="238.8" y="522.4" width="53.15" height="3.38" fill="#95c2dc"/>
<rect x="291.35" y="522.4" width="53.15" height="3.38" fill="#fca066"/>
<rect x="343.9" y="522.4" width="53.15" height="3.38" fill="#fc935d"/>
<rect x="396.45" y="522.4" width="52.55" height="3.38" fill="#fdb473"/>
<rect x="133.7" y="525.18" width="53.15" height="3.38" fill="#b1d4e7"/>
<rect x="186.25" y="525.18" width="53.15" height="3.38" fill="#cae5f0"/>
<rect x="238.8" y="525.18" width="53.15" height="3.38" fill="#a3cbe1"/>
<rect x="291.35" y="525.18" width="53.15" height="3.38" fill="#fda267"/>
<rect x="343.9" y="525.18" width="53.15" height="3.38" fill="#fc9860"/>
<rect x="396.45" y="525.18" width="52.55" height="3.38" fill="#fda267"/>
<rect x="133.7" y="527.96" width="53.15" height="3.38" fill="#a6cde3"/>
<rect x="186.25" y="527.96" width="53.15" height="3.38" fill="#bbdbeb"/>
<rect x="238.8" y="527.96" width="53.15" height="3.38" fill="#92bfdb"/>
<rect x="291.35" y="527.96" width="53.15" height="3.38" fill="#fa8756"/>
<rect x="343.9" y="527.96" width="53.15" height="3.38" fill="#fc915c"/>
<rect x="396.45" y="527.96" width="52.55" height="3.38" fill="#fda66a"/>
<rect x="133.7" y="530.74" width="53.15" height="3.38" fill="#92c0db"/>
<rect x="186.25" y="530.74" width="53.15" height="3.38" fill="#a5cce2"/>
<rect x="238.8" y="530.74" width="53.15" height="3.38" fill="#78a7ce"/>
<rect x="291.35" y="530.74" width="53.15" height="3.38" fill="#fc935d"/>
<rect x="343.9" y="530.74" width="53.15" height="3.38" fill="#f4784e"/>
<rect x="396.45" y="530.74" width="52.55" height="3.38" fill="#fc9961"/>
<rect x="133.7" y="533.52" width="53.15" height="2.78" fill="#91bfdb"/>
<rect x="186.25" y="533.52" width="53.15" height="2.78" fill="#abd0e5"/>
<rect x="238.8" y="533.52" width="53.15" height="2.78" fill="#9ac5de"/>
<rect x="291.35" y="533.52" width="53.15" height="2.78" fill="#f57c50"/>
<rect x="343.9" y="533.52" width="53.15" height="2.78" fill="#f67d51"/>
<rect x="396.45" y="533.52" width="52.55" height="2.78" fill="#fc9860"/>
<defs><linearGradient id="cbA" x1="0" y1="0" x2="0" y2="1"><stop offset="0" stop-color="#d73027"/><stop offset="0.17" stop-color="#fc8d59"/><stop offset="0.33" stop-color="#fee090"/><stop offset="0.5" stop-color="#ffffbf"/><stop offset="0.67" stop-color="#e0f3f8"/><stop offset="0.83" stop-color="#91bfdb"/><stop offset="1" stop-color="#4575b4"/></linearGradient></defs>
<rect x="459.7" y="119.2" width="20" height="301" fill="url(#cbA)"/>
<text x="488.3" y="128.8" font-size="19.5">1.5</text>
<text x="488.3" y="178.4" font-size="19.5">1</text>
<text x="488.3" y="228" font-size="19.5">0.5</text>
<text x="488.3" y="277.6" font-size="19.5">0</text>
<text x="488.3" y="327.8" font-size="19.5">-0.5</text>
<text x="488.3" y="378" font-size="19.5">-1</text>
<text x="488.3" y="427.9" font-size="19.5">-1.5</text>
<path d="M212.52 119.3V113.3H265.07V119.3M159.97 119.3V112.4H238.8V113.3M370.18 119.3V113.0H422.73V119.3M317.62 119.3V112.0H396.45V113.0M199.39 112.4V61.5H357.04V112" stroke="#222" stroke-width="1.3" fill="none"/>
<path d="M133.7 474.95H133.7M133.7 475.75H133.7M133.7 474.95V475.75M133.7 294.52H133.7M133.7 295.32H133.7M133.7 294.52V295.32M133.7 316.17H133.7M133.7 316.97H133.7M133.7 316.17V316.97M133.7 140.55H133.7M133.7 141.35H133.7M133.7 140.55V141.35M133.7 158.19H133.69M133.7 159H133.69M133.69 158.19V159M133.7 516.65H133.69M133.7 517.45H133.69M133.69 516.65V517.45M133.7 172.63H133.68M133.7 173.43H133.68M133.68 172.63V173.43M133.7 248.01H133.67M133.7 248.81H133.67M133.67 248.01V248.81M133.7 132.53H133.67M133.7 133.33H133.67M133.67 132.53V133.33M133.7 341.03H133.67M133.7 341.83H133.67M133.67 341.03V341.83M133.7 366.69H133.66M133.7 367.5H133.66M133.66 366.69V367.5M133.7 169.42H133.65M133.7 170.22H133.65M133.65 169.42V170.22M133.7 167.01H133.63M133.7 167.82H133.63M133.63 167.01V167.82M133.7 502.22H133.62M133.7 503.02H133.62M133.62 502.22V503.02M133.7 393.96H133.62M133.7 394.76H133.62M133.62 393.96V394.76M133.7 276.88H133.61M133.7 277.68H133.61M133.61 276.88V277.68M133.7 445.28H133.6M133.7 446.08H133.6M133.6 445.28V446.08M133.7 490.19H133.59M133.7 490.99H133.59M133.59 490.19V490.99M133.7 207.91H133.59M133.7 208.71H133.59M133.59 207.91V208.71M133.7 470.14H133.58M133.7 470.94H133.58M133.58 470.14V470.94M133.7 288.91H133.57M133.7 289.71H133.57M133.57 288.91V289.71M133.7 300.13H133.57M133.7 300.94H133.57M133.57 300.13V300.94M133.7 361.88H133.57M133.7 362.68H133.57M133.57 361.88V362.68M133.7 185.46H133.57M133.7 186.26H133.57M133.57 185.46V186.26M133.7 535.1H133.56M133.7 535.9H133.56M133.56 535.1V535.9M133.7 471.75H133.55M133.7 472.55H133.55M133.55 471.75V472.55M133.7 282.49H133.54M133.7 283.29H133.54M133.54 282.49V283.29M133.7 409.2H133.53M133.7 410H133.53M133.53 409.2V410M133.7 519.86H133.53M133.7 520.66H133.53M133.53 519.86V520.66M133.68 173.03H133.52M133.7 174.23H133.52M133.52 173.03V174.23M133.7 199.09H133.51M133.7 199.89H133.51M133.51 199.09V199.89M133.7 397.97H133.51M133.7 398.77H133.51M133.51 397.97V398.77M133.7 529.48H133.5M133.7 530.29H133.5M133.5 529.48V530.29M133.7 534.3H133.5M133.56 535.5H133.5M133.5 534.3V535.5M133.7 446.89H133.48M133.7 447.69H133.48M133.48 446.89V447.69M133.7 527.88H133.48M133.7 528.68H133.48M133.48 527.88V528.68M133.7 284.9H133.48M133.7 285.7H133.48M133.48 284.9V285.7M133.7 206.31H133.47M133.7 207.11H133.47M133.47 206.31V207.11M133.7 421.22H133.47M133.7 422.03H133.47M133.47 421.22V422.03M133.7 165.41H133.47M133.7 166.21H133.47M133.47 165.41V166.21M133.7 412.4H133.46M133.7 413.2H133.46M133.46 412.4V413.2M133.7 531.09H133.45M133.7 531.89H133.45M133.45 531.09V531.89M133.69 517.05H133.45M133.7 518.26H133.45M133.45 517.05V518.26M133.7 155.79H133.42M133.7 156.59H133.42M133.42 155.79V156.59M133.7 377.92H133.42M133.7 378.72H133.42M133.42 377.92V378.72M133.7 389.95H133.4M133.7 390.75H133.4M133.4 389.95V390.75M133.7 524.67H133.39M133.7 525.47H133.39M133.39 524.67V525.47M133.7 411.6H133.38M133.46 412.8H133.38M133.38 411.6V412.8M133.7 195.08H133.35M133.7 195.88H133.35M133.35 195.08V195.88M133.7 503.82H133.35M133.7 504.62H133.35M133.35 503.82V504.62M133.7 437.26H133.3M133.7 438.06H133.3M133.3 437.26V438.06M133.7 231.97H133.28M133.7 232.77H133.28M133.28 231.97V232.77M133.7 438.87H133.27M133.7 439.67H133.27M133.27 438.87V439.67M133.7 187.06H133.27M133.7 187.86H133.27M133.27 187.06V187.86M133.7 523.87H133.25M133.39 525.07H133.25M133.25 523.87V525.07M133.7 301.74H133.25M133.7 302.54H133.25M133.25 301.74V302.54M133.7 479.76H133.22M133.7 480.57H133.22M133.22 479.76V480.57M133.7 214.33H133.17M133.7 215.13H133.17M133.17 214.33V215.13M133.7 316.57H133.16M133.7 317.78H133.16M133.16 316.57V317.78M133.7 182.25H133.16M133.7 183.05H133.16M133.16 182.25V183.05M133.53 409.6H133.16M133.7 410.8H133.16M133.16 409.6V410.8M133.7 128.52H133.13M133.7 129.32H133.13M133.13 128.52V129.32M133.7 297.73H133.12M133.7 298.53H133.12M133.12 297.73V298.53M133.7 450.9H133.11M133.7 451.7H133.11M133.11 450.9V451.7M133.7 496.6H133.1M133.7 497.41H133.1M133.1 496.6V497.41M133.7 353.06H133.1M133.7 353.86H133.1M133.1 353.06V353.86M133.7 336.22H133.07M133.7 337.02H133.07M133.07 336.22V337.02M133.7 139.75H133.04M133.7 140.95H133.04M133.04 139.75V140.95M133.7 210.32H133.01M133.7 211.12H133.01M133.01 210.32V211.12M133.48 285.3H132.99M133.7 286.5H132.99M132.99 285.3V286.5M133.7 431.65H132.99M133.7 432.45H132.99M132.99 431.65V432.45M133.7 415.61H132.99M133.7 416.41H132.99M132.99 415.61V416.41M133.7 402.78H132.98M133.7 403.58H132.98M132.98 402.78V403.58M133.7 460.52H132.97M133.7 461.32H132.97M132.97 460.52V461.32M133.7 138.15H132.96M133.7 138.95H132.96M132.96 138.15V138.95M133.7 454.1H132.95M133.7 454.9H132.95M132.95 454.1V454.9M133.7 319.38H132.94M133.7 320.18H132.94M132.94 319.38V320.18M133.7 309.76H132.93M133.7 310.56H132.93M132.93 309.76V310.56M133.7 383.53H132.93M133.7 384.34H132.93M132.93 383.53V384.34M133.7 154.99H132.91M133.42 156.19H132.91M132.91 154.99V156.19M133.7 226.36H132.9M133.7 227.16H132.9M132.9 226.36V227.16M133.35 195.48H132.88M133.7 196.69H132.88M132.88 195.48V196.69M133.7 215.93H132.88M133.7 216.73H132.88M132.88 215.93V216.73M133.7 405.19H132.88M133.7 405.99H132.88M132.88 405.19V405.99M133.48 447.29H132.87M133.7 448.49H132.87M132.87 447.29V448.49M133.7 422.83H132.87M133.7 423.63H132.87M132.87 422.83V423.63M133.7 484.58H132.86M133.7 485.38H132.86M132.86 484.58V485.38M133.7 387.54H132.85M133.7 388.35H132.85M132.85 387.54V388.35M133.22 480.17H132.84M133.7 481.37H132.84M132.84 480.17V481.37M133.7 346.65H132.84M133.7 347.45H132.84M132.84 346.65V347.45M132.84 480.77H132.81M133.7 482.17H132.81M132.81 480.77V482.17M133.7 136.54H132.81M133.7 137.34H132.81M132.81 136.54V137.34M133.61 277.28H132.8M133.7 278.48H132.8M132.8 277.28V278.48M133.7 407.59H132.8M133.7 408.39H132.8M132.8 407.59V408.39M133.7 198.29H132.79M133.51 199.49H132.79M132.79 198.29V199.49M133.7 486.98H132.79M133.7 487.78H132.79M132.79 486.98V487.78M133.7 500.61H132.78M133.7 501.42H132.78M132.78 500.61V501.42M133.7 511.04H132.78M133.7 511.84H132.78M132.78 511.04V511.84M133.7 154.18H132.76M132.91 155.59H132.76M132.76 154.18V155.59M133.7 264.05H132.76M133.7 264.85H132.76M132.76 264.05V264.85M133.7 194.28H132.68M132.88 196.08H132.68M132.68 194.28V196.08M133.7 434.86H132.66M133.7 435.66H132.66M132.66 434.86V435.66M133.52 173.63H132.65M133.7 175.03H132.65M132.65 173.63V175.03M133.7 287.3H132.64M133.7 288.1H132.64M132.64 287.3V288.1M132.64 287.7H132.55M133.57 289.31H132.55M132.55 287.7V289.31M133.7 375.51H132.53M133.7 376.32H132.53M132.53 375.51V376.32M133.7 175.84H132.53M133.7 176.64H132.53M132.53 175.84V176.64M132.78 501.02H132.49M133.62 502.62H132.49M132.49 501.02V502.62M133.58 470.54H132.48M133.55 472.15H132.48M132.48 470.54V472.15M133.7 148.57H132.47M133.7 149.37H132.47M132.47 148.57V149.37M133.7 142.15H132.43M133.7 142.96H132.43M132.43 142.15V142.96M132.43 142.56H132.38M133.7 143.76H132.38M132.38 142.56V143.76M133.67 132.93H132.37M133.7 134.14H132.37M132.37 132.93V134.14M133.7 280.09H132.35M133.7 280.89H132.35M132.35 280.09V280.89M133.7 450.09H132.32M133.11 451.3H132.32M132.32 450.09V451.3M133.7 284.1H132.29M132.99 285.9H132.29M132.29 284.1V285.9M133.7 323.39H132.29M133.7 324.19H132.29M132.29 323.39V324.19M133.4 390.35H132.26M133.7 391.55H132.26M132.26 390.35V391.55M132.49 501.82H132.26M133.35 504.22H132.26M132.26 501.82V504.22M132.99 432.05H132.23M133.7 433.25H132.23M132.23 432.05V433.25M133.7 456.51H132.22M133.7 457.31H132.22M132.22 456.51V457.31M133.7 488.59H132.22M133.7 489.39H132.22M132.22 488.59V489.39M133.7 202.3H132.2M133.7 203.1H132.2M132.2 202.3V203.1M133.7 292.92H132.2M133.7 293.72H132.2M132.2 292.92V293.72M133.7 441.27H132.19M133.7 442.07H132.19M132.19 441.27V442.07M132.78 511.44H132.18M133.7 512.64H132.18M132.18 511.44V512.64M133.48 528.28H132.15M133.5 529.88H132.15M132.15 528.28V529.88M133.7 345.04H132.14M133.7 345.84H132.14M132.14 345.04V345.84M133.7 130.13H132.13M133.7 130.93H132.13M132.13 130.13V130.93M133.7 249.61H132.09M133.7 250.41H132.09M132.09 249.61V250.41M133.57 362.28H132.08M133.7 363.49H132.08M132.08 362.28V363.49M132.86 484.98H132.07M133.7 486.18H132.07M132.07 484.98V486.18M133.7 429.24H132.07M133.7 430.05H132.07M132.07 429.24V430.05M133.45 531.49H132.05M133.7 532.69H132.05M132.05 531.49V532.69M133.7 329H132.02M133.7 329.8H132.02M132.02 329V329.8M133.7 427.64H131.99M133.7 428.44H131.99M131.99 427.64V428.44M132.14 345.44H131.95M132.84 347.05H131.95M131.95 345.44V347.05M133.28 232.37H131.91M133.7 233.57H131.91M131.91 232.37V233.57M133.7 342.64H131.9M133.7 343.44H131.9M131.9 342.64V343.44M132.07 485.58H131.87M132.79 487.38H131.87M131.87 485.58V487.38M133.7 296.12H131.86M133.7 296.93H131.86M131.86 296.12V296.93M132.37 133.53H131.85M133.7 134.94H131.85M131.85 133.53V134.94M133.7 241.59H131.84M133.7 242.4H131.84M131.84 241.59V242.4M133.7 508.63H131.82M133.7 509.44H131.82M131.82 508.63V509.44M133.7 381.13H131.79M133.7 381.93H131.79M131.79 381.13V381.93M133.7 334.62H131.79M133.7 335.42H131.79M131.79 334.62V335.42M131.87 486.48H131.79M132.22 488.99H131.79M131.79 486.48V488.99M133.7 224.75H131.75M133.7 225.55H131.75M131.75 224.75V225.55M133.7 498.21H131.75M133.7 499.01H131.75M131.75 498.21V499.01M132.29 323.79H131.75M133.7 324.99H131.75M131.75 323.79V324.99M132.98 403.18H131.74M133.7 404.38H131.74M131.74 403.18V404.38M133.7 338.63H131.73M133.7 339.43H131.73M131.73 338.63V339.43M133.7 348.25H131.73M133.7 349.05H131.73M131.73 348.25V349.05M133.7 244.8H131.73M133.7 245.6H131.73M131.73 244.8V245.6M133.7 217.54H131.72M133.7 218.34H131.72M131.72 217.54V218.34M132.53 375.92H131.7M133.7 377.12H131.7M131.7 375.92V377.12M133.7 357.07H131.7M133.7 357.87H131.7M131.7 357.07V357.87M133.7 152.58H131.68M133.7 153.38H131.68M131.68 152.58V153.38M133.7 354.66H131.67M133.7 355.47H131.67M131.67 354.66V355.47M132.76 154.89H131.66M133.7 157.39H131.66M131.66 154.89V157.39M133.7 533.49H131.62M133.5 534.9H131.62M131.62 533.49V534.9M133.7 160.6H131.58M133.7 161.4H131.58M131.58 160.6V161.4M133.7 507.03H131.57M133.7 507.83H131.57M131.57 507.03V507.83M133.7 192.68H131.56M133.7 193.48H131.56M131.56 192.68V193.48M133.7 417.21H131.54M133.7 418.02H131.54M131.54 417.21V418.02M133.7 163H131.53M133.7 163.81H131.53M131.53 163V163.81M131.56 193.08H131.52M132.68 195.18H131.52M131.52 193.08V195.18M132.29 285H131.52M132.55 288.51H131.52M131.52 285V288.51M133.7 332.21H131.5M133.7 333.01H131.5M131.5 332.21V333.01M133.7 443.68H131.47M133.7 444.48H131.47M131.47 443.68V444.48M133.7 386.74H131.4M132.85 387.94H131.4M131.4 386.74V387.94M132.22 456.91H131.38M133.7 458.11H131.38M131.38 456.91V458.11M133.7 356.27H131.35M131.7 357.47H131.35M131.35 356.27V357.47M133.7 159.8H131.33M131.58 161H131.33M131.33 159.8V161M133.7 231.17H131.33M131.91 232.97H131.33M131.33 231.17V232.97M133.7 303.34H131.32M133.7 304.14H131.32M131.32 303.34V304.14M133.7 190.27H131.31M133.7 191.07H131.31M131.31 190.27V191.07M133.27 187.46H131.31M133.7 188.67H131.31M131.31 187.46V188.67M133.7 179.04H131.27M133.7 179.85H131.27M131.27 179.04V179.85M133.7 254.42H131.24M133.7 255.23H131.24M131.24 254.42V255.23M133.7 458.91H131.23M133.7 459.72H131.23M131.23 458.91V459.72M133.7 523.07H131.22M133.25 524.47H131.22M131.22 523.07V524.47M133.7 257.63H131.22M133.7 258.43H131.22M131.22 257.63V258.43M133.7 314.57H131.21M133.7 315.37H131.21M131.21 314.57V315.37M133.7 455.71H131.18M131.38 457.51H131.18M131.18 455.71V457.51M131.27 179.44H131.18M133.7 180.65H131.18M131.18 179.44V180.65M133.7 359.48H131.12M133.7 360.28H131.12M131.12 359.48V360.28M131.68 152.98H131.12M131.66 156.14H131.12M131.12 152.98V156.14M133.7 235.18H131.12M133.7 235.98H131.12M131.12 235.18V235.98M133.7 506.23H131.09M131.57 507.43H131.09M131.09 506.23V507.43M133.7 171.02H131.07M133.7 171.83H131.07M131.07 171.02V171.83M133.7 491.79H131.05M133.7 492.6H131.05M131.05 491.79V492.6M133.7 308.95H131.04M132.93 310.16H131.04M131.04 308.95V310.16M132.23 432.65H131.03M133.7 434.05H131.03M131.03 432.65V434.05M133.7 420.42H131M133.47 421.62H131M131 420.42V421.62M132.81 481.47H130.99M133.7 482.97H130.99M130.99 481.47V482.97M133.7 321.79H130.98M133.7 322.59H130.98M130.98 321.79V322.59M132.9 226.76H130.97M133.7 227.96H130.97M130.97 226.76V227.96M133.16 410.2H130.95M133.38 412.2H130.95M130.95 410.2V412.2M133.7 325.8H130.94M133.7 326.6H130.94M130.94 325.8V326.6M133.7 290.51H130.94M133.7 291.31H130.94M130.94 290.51V291.31M133.7 373.11H130.89M133.7 373.91H130.89M130.89 373.11V373.91M130.99 482.22H130.89M133.7 483.77H130.89M130.89 482.22V483.77M131.23 459.32H130.89M132.97 460.92H130.89M130.89 459.32V460.92M130.89 373.51H130.83M133.7 374.71H130.83M130.83 373.51V374.71M133.7 468.54H130.8M133.7 469.34H130.8M130.8 468.54V469.34M132.15 529.08H130.78M132.05 532.09H130.78M130.78 529.08V532.09M132.26 503.02H130.74M133.7 505.43H130.74M130.74 503.02V505.43M131.75 225.15H130.72M130.97 227.36H130.72M130.72 225.15V227.36M133.7 294.92H130.7M131.86 296.52H130.7M130.7 294.92V296.52M133.7 201.5H130.7M132.2 202.7H130.7M130.7 201.5V202.7M130.78 530.59H130.68M131.62 534.19H130.68M130.68 530.59V534.19M130.7 295.72H130.66M133.12 298.13H130.66M130.66 295.72V298.13M133.7 519.06H130.65M133.53 520.26H130.65M130.65 519.06V520.26M133.7 406.79H130.62M132.8 407.99H130.62M130.62 406.79V407.99M133.7 331.41H130.6M131.5 332.61H130.6M130.6 331.41V332.61M133.7 306.55H130.57M133.7 307.35H130.57M130.57 306.55V307.35M133.7 272.87H130.55M133.7 273.67H130.55M130.55 272.87V273.67M133.7 205.51H130.54M133.47 206.71H130.54M130.54 205.51V206.71M133.7 368.3H130.48M133.7 369.1H130.48M130.48 368.3V369.1M133.7 478.16H130.48M133.7 478.96H130.48M130.48 478.16V478.96M133.7 515.05H130.46M133.7 515.85H130.46M130.46 515.05V515.85M132.99 416.01H130.45M131.54 417.62H130.45M130.45 416.01V417.62M130.98 322.19H130.45M131.75 324.39H130.45M130.45 322.19V324.39M133.7 380.33H130.43M131.79 381.53H130.43M130.43 380.33V381.53M133.7 463.73H130.43M133.7 464.53H130.43M130.43 463.73V464.53M133.17 214.73H130.42M132.88 216.33H130.42M130.42 214.73V216.33M132.8 277.88H130.35M133.7 279.28H130.35M130.35 277.88V279.28M133.7 337.82H130.33M131.73 339.03H130.33M130.33 337.82V339.03M131.72 217.94H130.23M133.7 219.14H130.23M130.23 217.94V219.14M133.7 221.55H130.23M133.7 222.35H130.23M130.23 221.55V222.35M132.08 362.88H130.21M133.7 364.29H130.21M130.21 362.88V364.29M133.7 204.7H130.21M130.54 206.11H130.21M130.21 204.7V206.11M133.7 251.22H130.14M133.7 252.02H130.14M130.14 251.22V252.02M133.7 358.67H130.12M131.12 359.88H130.12M130.12 358.67V359.88M131.52 286.75H130.11M130.94 290.91H130.11M130.11 286.75V290.91M130.48 478.56H130.11M130.89 483H130.11M130.11 478.56V483M133.7 125.31H130.11M133.7 126.12H130.11M130.11 125.31V126.12M131.09 506.83H130.08M131.82 509.03H130.08M130.08 506.83V509.03M133.13 128.92H130.07M132.13 130.53H130.07M130.07 128.92V130.53M133.7 475.35H130.06M133.7 476.56H130.06M130.06 475.35V476.56M133.54 282.89H130.05M130.11 288.83H130.05M130.05 282.89V288.83M133.7 495H130.05M133.7 495.8H130.05M130.05 495V495.8M133.7 349.85H130.02M133.7 350.65H130.02M130.02 349.85V350.65M131.79 335.02H130M133.07 336.62H130M130 335.02V336.62M133.7 266.45H129.99M133.7 267.25H129.99M129.99 266.45V267.25M132.93 383.93H129.98M133.7 385.14H129.98M129.98 383.93V385.14M133.7 223.95H129.97M130.72 226.26H129.97M129.97 223.95V226.26M133.7 442.88H129.96M131.47 444.08H129.96M129.96 442.88V444.08M133.7 162.2H129.96M131.53 163.41H129.96M129.96 162.2V163.41M133.7 473.35H129.95M133.7 474.15H129.95M129.95 473.35V474.15M129.96 162.8H129.95M133.7 164.61H129.95M129.95 162.8V164.61M133.7 371.5H129.95M133.7 372.31H129.95M129.95 371.5V372.31M131.84 241.99H129.91M133.7 243.2H129.91M129.91 241.99V243.2M130.23 221.95H129.88M133.7 223.15H129.88M129.88 221.95V223.15M133.7 418.82H129.87M133.7 419.62H129.87M129.87 418.82V419.62M133.7 526.28H129.85M133.7 527.08H129.85M129.85 526.28V527.08M133.7 333.81H129.84M130 335.82H129.84M129.84 333.81V335.82M133.59 208.31H129.83M133.7 209.52H129.83M129.83 208.31V209.52M133.7 330.61H129.8M130.6 332.01H129.8M129.8 330.61V332.01M133.7 385.94H129.78M131.4 387.34H129.78M129.78 385.94V387.34M133.7 230.37H129.77M131.33 232.07H129.77M129.77 230.37V232.07M133.7 424.43H129.7M133.7 425.23H129.7M129.7 424.43V425.23M133.7 430.85H129.59M131.03 433.35H129.59M129.59 430.85V433.35M133.7 465.33H129.58M133.7 466.13H129.58M129.58 465.33V466.13M133.7 262.44H129.57M133.7 263.25H129.57M129.57 262.44V263.25M133.7 522.27H129.57M131.22 523.77H129.57M129.57 522.27V523.77M131.18 180.05H129.51M133.7 181.45H129.51M129.51 180.05V181.45M129.57 262.84H129.46M132.76 264.45H129.46M129.46 262.84V264.45M133.67 341.43H129.42M131.9 343.04H129.42M129.42 341.43V343.04M131.67 355.07H129.41M131.35 356.87H129.41M129.41 355.07V356.87M133.7 200.7H129.41M130.7 202.1H129.41M129.41 200.7V202.1M133.7 146.97H129.35M133.7 147.77H129.35M129.35 146.97V147.77M130.07 129.72H129.31M133.7 131.73H129.31M129.31 129.72V131.73M133.7 191.87H129.29M131.52 194.13H129.29M129.29 191.87V194.13M133.25 302.14H129.29M131.32 303.74H129.29M129.29 302.14V303.74M133.7 365.89H129.29M133.66 367.09H129.29M129.29 365.89V367.09M133.67 248.41H129.27M132.09 250.01H129.27M129.27 248.41V250.01M130.65 519.66H129.26M133.7 521.46H129.26M129.26 519.66V521.46M129.98 384.54H129.25M129.78 386.64H129.25M129.25 384.54V386.64M131.99 428.04H129.22M132.07 429.64H129.22M129.22 428.04V429.64M133.7 426.04H129.19M133.7 426.84H129.19M129.19 426.04V426.84M133.7 311.36H129.09M133.7 312.16H129.09M129.09 311.36V312.16M133.16 317.17H129.07M133.7 318.58H129.07M129.07 317.17V318.58M133.7 466.93H128.99M133.7 467.74H128.99M128.99 466.93V467.74M129.31 130.73H128.99M131.85 134.24H128.99M128.99 130.73V134.24M130.95 411.2H128.97M133.7 414.01H128.97M128.97 411.2V414.01M130.48 368.7H128.97M133.7 369.9H128.97M128.97 368.7V369.9M131.07 171.42H128.94M132.65 174.33H128.94M128.94 171.42V174.33M133.7 247.21H128.92M129.27 249.21H128.92M128.92 247.21V249.21M133.7 271.26H128.91M133.7 272.07H128.91M128.91 271.26V272.07M129.29 302.94H128.91M133.7 304.95H128.91M128.91 302.94V304.95M129.25 385.59H128.86M133.7 389.15H128.86M128.86 385.59V389.15M133.7 292.11H128.81M132.2 293.32H128.81M128.81 292.11V293.32M133.7 361.08H128.81M130.21 363.59H128.81M128.81 361.08V363.59M129.58 465.73H128.79M128.99 467.33H128.79M128.79 465.73V467.33M129.41 201.4H128.77M133.7 203.9H128.77M128.77 201.4V203.9M133.7 440.47H128.77M132.19 441.67H128.77M128.77 440.47V441.67M133.7 328.2H128.75M132.02 329.4H128.75M128.75 328.2V329.4M131.04 309.56H128.75M129.09 311.76H128.75M128.75 309.56V311.76M130.45 416.81H128.7M129.87 419.22H128.7M128.7 416.81V419.22M131.12 154.56H128.67M133.69 158.59H128.67M128.67 154.56V158.59M133.7 351.46H128.67M133.7 352.26H128.67M128.67 351.46V352.26M131.73 348.65H128.62M130.02 350.25H128.62M128.62 348.65V350.25M133.7 313.77H128.61M131.21 314.97H128.61M128.61 313.77V314.97M132.88 405.59H128.59M130.62 407.39H128.59M128.59 405.59V407.39M131.31 188.06H128.59M133.7 189.47H128.59M128.59 188.06V189.47M130.05 285.86H128.58M128.81 292.72H128.58M128.58 285.86V292.72M133.57 300.53H128.56M128.91 303.94H128.56M128.56 300.53V303.94M131.18 456.61H128.56M130.89 460.12H128.56M128.56 456.61V460.12M129.07 317.88H128.54M132.94 319.78H128.54M128.54 317.88V319.78M132.96 138.55H128.52M133.04 140.35H128.52M128.52 138.55V140.35M133.7 477.36H128.5M130.11 480.78H128.5M128.5 477.36V480.78M129.19 426.44H128.48M129.22 428.84H128.48M128.48 426.44V428.84M129.84 334.82H128.47M130.33 338.43H128.47M128.47 334.82V338.43M128.59 406.49H128.46M128.97 412.6H128.46M128.46 406.49V412.6M133.7 119.7H128.46M133.7 120.5H128.46M128.46 119.7V120.5M130.55 273.27H128.45M133.7 274.47H128.45M128.45 273.27V274.47M132.95 454.5H128.44M128.56 458.36H128.44M128.44 454.5V458.36M133.7 229.56H128.41M129.77 231.22H128.41M128.41 229.56V231.22M128.54 318.83H128.39M133.7 320.98H128.39M128.39 318.83V320.98M133.7 212.72H128.38M133.7 213.53H128.38M128.38 212.72V213.53M133.7 281.69H128.37M128.58 289.29H128.37M128.37 281.69V289.29M132.87 423.23H128.37M129.7 424.83H128.37M128.37 423.23V424.83M133.7 370.7H128.36M129.95 371.91H128.36M128.36 370.7V371.91M133.7 275.27H128.3M133.7 276.08H128.3M128.3 275.27V276.08M133.7 308.15H128.24M128.75 310.66H128.24M128.24 308.15V310.66M131.24 254.82H128.23M133.7 256.03H128.23M128.23 254.82V256.03M128.62 349.45H128.22M128.67 351.86H128.22M128.22 349.45V351.86M133.7 400.37H128.21M133.7 401.18H128.21M128.21 400.37V401.18M133.7 514.25H128.21M130.46 515.45H128.21M128.21 514.25V515.45M133.7 252.82H128.19M133.7 253.62H128.19M128.19 252.82V253.62M133.7 462.12H128.18M133.7 462.92H128.18M128.18 462.12V462.92M133.7 126.92H128.17M133.7 127.72H128.17M128.17 126.92V127.72M133.7 246.4H128.16M128.92 248.21H128.16M128.16 246.4V248.21M130.35 278.58H128.16M132.35 280.49H128.16M128.16 278.58V280.49M133.7 436.46H128.1M133.3 437.66H128.1M128.1 436.46V437.66M133.7 393.16H128.01M133.62 394.36H128.01M128.01 393.16V394.36M133.7 238.39H128M133.7 239.19H128M128 238.39V239.19M133.7 452.5H127.99M133.7 453.3H127.99M127.99 452.5V453.3M128.91 271.67H127.99M128.45 273.87H127.99M127.99 271.67V273.87M128.1 437.06H127.96M133.27 439.27H127.96M127.96 437.06V439.27M133.1 497.01H127.95M131.75 498.61H127.95M127.95 497.01V498.61M128.16 247.31H127.92M130.14 251.62H127.92M127.92 247.31V251.62M132.18 512.04H127.91M133.7 513.45H127.91M127.91 512.04V513.45M133.7 494.2H127.89M130.05 495.4H127.89M127.89 494.2V495.4M127.95 497.81H127.89M133.7 499.81H127.89M127.89 497.81V499.81M129.35 147.37H127.85M132.47 148.97H127.85M127.85 147.37V148.97M128.67 156.58H127.85M131.33 160.4H127.85M127.85 156.58V160.4M133.7 449.29H127.81M132.32 450.69H127.81M127.81 449.29V450.69M128.16 279.53H127.76M128.37 285.49H127.76M127.76 279.53V285.49M133.7 493.4H127.74M127.89 494.8H127.74M127.74 493.4V494.8M133.7 260.04H127.73M133.7 260.84H127.73M127.73 260.04V260.84M129.29 193H127.72M133.7 197.49H127.72M127.72 193V197.49M133.7 150.17H127.7M133.7 150.98H127.7M127.7 150.17V150.98M133.7 244H127.7M131.73 245.2H127.7M127.7 244V245.2M129.99 266.85H127.7M133.7 268.06H127.7M127.7 266.85V268.06M133.7 237.58H127.66M128 238.79H127.66M127.66 237.58V238.79M131 421.02H127.63M128.37 424.03H127.63M127.63 421.02V424.03M133.7 397.17H127.58M133.51 398.37H127.58M127.58 397.17V398.37M133.7 240.79H127.55M129.91 242.6H127.55M127.55 240.79V242.6M129.95 163.71H127.55M133.47 165.81H127.55M127.55 163.71V165.81M128.97 369.3H127.51M128.36 371.3H127.51M127.51 369.3V371.3M133.7 401.98H127.46M131.74 403.78H127.46M127.46 401.98V403.78M132.66 435.26H127.45M127.96 438.16H127.45M127.45 435.26V438.16M133.7 510.24H127.4M127.91 512.74H127.4M127.4 510.24V512.74M127.7 267.46H127.38M133.7 268.86H127.38M127.38 267.46V268.86M128.3 275.67H127.37M127.76 282.51H127.37M127.37 275.67V282.51M128.01 393.76H127.34M133.7 395.56H127.34M127.34 393.76V395.56M133.6 445.68H127.31M132.87 447.89H127.31M127.31 445.68V447.89M127.89 498.81H127.27M130.74 504.22H127.27M127.27 498.81V504.22M129.88 222.55H127.26M129.97 225.1H127.26M127.26 222.55V225.1M127.38 268.16H127.25M133.7 269.66H127.25M127.25 268.16V269.66M133.01 210.72H127.24M133.7 211.92H127.24M127.24 210.72V211.92M129.59 432.1H127.18M127.45 436.71H127.18M127.18 432.1V436.71M128.23 255.43H127.17M133.7 256.83H127.17M127.17 255.43V256.83M133.7 122.91H127.14M133.7 123.71H127.14M127.14 122.91V123.71M128.79 466.53H127.14M130.8 468.94H127.14M127.14 466.53V468.94M128.46 120.1H127.12M133.7 121.3H127.12M127.12 120.1V121.3M128.46 409.55H127.12M133.7 414.81H127.12M127.12 409.55V414.81M128.22 350.65H127.1M133.1 353.46H127.1M127.1 350.65V353.46M130.12 359.28H127.08M128.81 362.33H127.08M127.08 359.28V362.33M133.16 182.65H127.05M133.7 183.85H127.05M127.05 182.65V183.85M133.63 167.42H127.03M133.7 168.62H127.03M127.03 167.42V168.62M128.48 427.64H127.02M127.18 434.41H127.02M127.02 427.64V434.41M132.53 176.24H126.96M133.7 177.44H126.96M126.96 176.24V177.44M127.66 238.19H126.91M133.7 239.99H126.91M126.91 238.19V239.99M129.95 473.75H126.91M130.06 475.96H126.91M126.91 473.75V475.96M127.1 352.06H126.91M129.41 355.97H126.91M126.91 352.06V355.97M133.7 135.74H126.84M132.81 136.94H126.84M126.84 135.74V136.94M127.55 241.69H126.8M127.7 244.6H126.8M126.8 241.69V244.6M127.99 272.77H126.74M127.37 279.09H126.74M126.74 272.77V279.09M133.7 236.78H126.74M126.91 239.09H126.74M126.74 236.78V239.09M129.51 180.75H126.73M127.05 183.25H126.73M126.73 180.75V183.25M129.29 366.49H126.7M127.51 370.3H126.7M126.7 366.49V370.3M133.45 517.66H126.69M129.26 520.56H126.69M126.69 517.66V520.56M133.7 270.46H126.67M126.74 275.93H126.67M126.67 270.46V275.93M130.43 380.93H126.67M133.7 382.73H126.67M126.67 380.93V382.73M128.47 336.62H126.66M133.7 340.23H126.66M126.66 336.62V340.23M133.7 344.24H126.66M131.95 346.24H126.66M126.66 344.24V346.24M128.41 230.39H126.65M133.7 234.38H126.65M126.65 230.39V234.38M131.12 235.58H126.61M126.74 237.93H126.61M126.61 235.58V237.93M133.65 169.82H126.59M128.94 172.88H126.59M126.59 169.82V172.88M128.38 213.12H126.58M130.42 215.53H126.58M126.58 213.12V215.53M133.7 392.35H126.54M127.34 394.66H126.54M126.54 392.35V394.66M127.12 120.7H126.5M133.7 122.11H126.5M126.5 120.7V122.11M129.96 443.48H126.48M127.31 446.79H126.48M126.48 443.48V446.79M126.84 136.34H126.48M128.52 139.45H126.48M126.48 136.34V139.45M126.73 182H126.48M133.7 184.66H126.48M126.48 182V184.66M128.19 253.22H126.47M127.17 256.13H126.47M126.47 253.22V256.13M128.18 462.52H126.39M130.43 464.13H126.39M126.39 462.52V464.13M128.86 387.37H126.3M132.26 390.95H126.3M126.3 387.37V390.95M130.57 306.95H126.29M128.24 309.41H126.29M126.29 306.95V309.41M127.92 249.46H126.25M126.47 254.67H126.25M126.25 249.46V254.67M127.85 158.49H126.22M127.55 164.76H126.22M126.22 158.49V164.76M133.7 305.75H126.22M126.29 308.18H126.22M126.22 305.75V308.18M126.3 389.16H126.21M126.54 393.51H126.21M126.21 389.16V393.51M127.99 452.9H126.2M128.44 456.43H126.2M126.2 452.9V456.43M128.77 202.65H126.13M130.21 205.41H126.13M126.13 202.65V205.41M126.66 338.43H126.12M129.42 342.23H126.12M126.12 338.43V342.23M126.25 252.07H126.11M131.22 258.03H126.11M126.11 252.07V258.03M131.7 376.52H126.09M133.42 378.32H126.09M126.09 376.52V378.32M126.2 454.67H126.07M126.39 463.32H126.07M126.07 454.67V463.32M130.66 296.93H126.07M133.7 299.33H126.07M126.07 296.93V299.33M126.09 377.42H126.01M133.7 379.52H126.01M126.01 377.42V379.52M129.46 263.65H126.01M133.7 265.65H126.01M126.01 263.65V265.65M129.83 208.91H125.99M127.24 211.32H125.99M125.99 208.91V211.32M127.58 397.77H125.94M133.7 399.57H125.94M125.94 397.77V399.57M126.11 255.05H125.93M133.7 259.24H125.93M125.93 255.05V259.24M126.58 214.33H125.91M130.23 218.54H125.91M125.91 214.33V218.54M127.03 168.02H125.91M126.59 171.35H125.91M125.91 168.02V171.35M126.07 459H125.83M127.14 467.74H125.83M125.83 459V467.74M130.83 374.11H125.82M126.01 378.47H125.82M125.82 374.11V378.47M133.7 219.94H125.82M133.7 220.74H125.82M125.82 219.94V220.74M126.48 183.33H125.73M133.57 185.86H125.73M125.73 183.33V185.86M126.65 232.38H125.64M126.61 236.76H125.64M125.64 232.38V236.76M125.93 257.14H125.61M127.73 260.44H125.61M125.61 257.14V260.44M126.48 137.89H125.59M132.38 143.16H125.59M125.59 137.89V143.16M133.7 144.56H125.58M133.7 145.36H125.58M125.58 144.56V145.36M128.77 441.07H125.52M126.48 445.13H125.52M125.52 441.07V445.13M127.12 412.18H125.5M128.7 418.02H125.5M125.5 412.18V418.02M128.5 479.07H125.48M131.79 487.73H125.48M125.48 479.07V487.73M133.7 365.09H125.39M126.7 368.4H125.39M125.39 365.09V368.4M132.48 471.34H125.37M126.91 474.85H125.37M125.37 471.34V474.85M125.37 473.1H125.37M125.48 483.4H125.37M125.37 473.1V483.4M128.39 319.91H125.35M130.45 323.29H125.35M125.35 319.91V323.29M128.61 314.37H125.32M125.35 321.6H125.32M125.32 314.37V321.6M133.7 151.78H125.32M126.22 161.62H125.32M125.32 151.78V161.62M129.57 523.02H125.26M129.85 526.68H125.26M125.26 523.02V526.68M128.17 127.32H125.23M128.99 132.48H125.23M125.23 127.32V132.48M126.67 273.2H125.2M126.07 298.13H125.2M125.2 273.2V298.13M127.63 422.53H125.11M127.02 431.02H125.11M125.11 422.53V431.02M126.67 381.83H125.11M126.21 391.33H125.11M125.11 381.83V391.33M125.39 366.74H125.1M125.82 376.29H125.1M125.1 366.74V376.29M133.7 327.4H125.07M128.75 328.8H125.07M125.07 327.4V328.8M126.13 204.03H125.04M125.99 210.12H125.04M125.04 204.03V210.12M125.23 129.9H125.04M125.59 140.53H125.04M125.04 129.9V140.53M127.08 360.8H125.04M125.1 371.52H125.04M125.04 360.8V371.52M127.46 402.88H125.02M125.5 415.1H125.02M125.02 402.88V415.1M127.14 123.31H124.97M133.7 124.51H124.97M124.97 123.31V124.51M131.31 190.67H124.94M127.72 195.24H124.94M124.94 190.67V195.24M133.59 490.59H124.94M131.05 492.19H124.94M124.94 490.59V492.19M126.96 176.84H124.88M133.7 178.24H124.88M124.88 176.84V178.24M126.12 340.33H124.81M126.66 345.24H124.81M124.81 340.33V345.24M125.26 524.85H124.8M130.68 532.39H124.8M124.8 524.85V532.39M126.01 264.65H124.78M127.25 268.91H124.78M124.78 264.65V268.91M124.94 491.39H124.78M127.74 494.1H124.78M124.78 491.39V494.1M127.4 511.49H124.74M128.21 514.85H124.74M124.74 511.49V514.85M127.85 148.17H124.74M127.7 150.57H124.74M124.74 148.17V150.57M124.88 177.54H124.72M125.73 184.59H124.72M124.72 177.54V184.59M126.5 121.41H124.72M124.97 123.91H124.72M124.72 121.41V123.91M130.11 125.72H124.71M125.04 135.21H124.71M124.71 125.72V135.21M124.78 492.75H124.68M127.27 501.52H124.68M124.68 492.75V501.52M126.8 243.15H124.68M125.61 258.79H124.68M124.68 243.15V258.79M124.72 181.07H124.68M128.59 188.77H124.68M124.68 181.07V188.77M125.04 207.07H124.63M125.91 216.43H124.63M124.63 207.07V216.43M125.52 443.1H124.6M127.81 449.99H124.6M124.6 443.1V449.99M128.21 400.77H124.6M125.02 408.99H124.6M124.6 400.77V408.99M125.91 169.68H124.56M124.68 184.92H124.56M124.56 169.68V184.92M133.7 261.64H124.54M124.78 266.78H124.54M124.54 261.64V266.78M126.22 306.96H124.54M133.7 312.96H124.54M124.54 306.96V312.96M128.56 302.24H124.52M124.54 309.96H124.52M124.52 302.24V309.96M133.7 228.76H124.5M125.64 234.57H124.5M124.5 228.76V234.57M130.94 326.2H124.49M125.07 328.1H124.49M124.49 326.2V328.1M133.7 146.16H124.48M124.74 149.37H124.48M124.48 146.16V149.37M124.48 147.77H124.42M125.32 156.7H124.42M124.42 147.77V156.7M124.52 306.1H124.4M125.32 317.98H124.4M124.4 306.1V317.98M124.4 312.04H124.35M124.49 327.15H124.35M124.35 312.04V327.15M124.6 446.55H124.34M125.83 463.37H124.34M124.34 446.55V463.37M124.68 497.13H124.33M130.08 507.93H124.33M124.33 497.13V507.93M124.42 152.23H124.31M124.56 177.3H124.31M124.31 152.23V177.3M124.74 513.17H124.31M126.69 519.11H124.31M124.31 513.17V519.11M125.82 220.34H124.3M127.26 223.83H124.3M124.3 220.34V223.83M124.68 250.97H124.3M124.54 264.21H124.3M124.3 250.97V264.21M125.11 386.58H124.27M133.7 396.36H124.27M124.27 386.58V396.36M124.71 130.46H124.22M125.58 144.96H124.22M124.22 130.46V144.96M129.8 331.31H124.2M124.81 342.79H124.2M124.2 331.31V342.79M132.79 198.89H124.17M124.63 211.75H124.17M124.17 198.89V211.75M124.3 222.08H124.15M124.5 231.67H124.15M124.15 222.08V231.67M124.2 337.05H124.14M126.91 354.01H124.14M124.14 337.05V354.01M124.31 516.14H124.13M124.8 528.62H124.13M124.13 516.14V528.62M124.94 192.96H124.04M124.17 205.32H124.04M124.04 192.96V205.32M124.27 391.47H124.02M125.94 398.67H124.02M124.02 391.47V398.67M124.04 199.14H124.01M124.15 226.88H124.01M124.01 199.14V226.88M124.3 257.59H121M125.2 285.66H121M121 257.59V285.66M124.35 319.6H121M124.14 345.53H121M121 319.6V345.53M125.37 478.25H121M124.33 502.53H121M121 478.25V502.53M124.31 164.77H120M124.01 213.01H120M120 164.77V213.01M124.6 404.88H120M125.11 426.77H120M120 404.88V426.77M121 271.63H119.5M121 332.56H119.5M119.5 271.63V332.56M125.04 366.16H119M124.02 395.07H119M119 366.16V395.07M124.72 122.66H118.5M124.22 137.71H118.5M118.5 122.66V137.71M124.34 454.96H118M121 490.39H118M118 454.96V490.39M120 188.89H117M119.5 302.09H117M117 188.89V302.09M118 472.67H117M124.13 522.38H117M117 472.67V522.38M119 380.62H116.5M120 415.83H116.5M116.5 380.62V415.83M118.5 130.19H112M117 245.49H112M112 130.19V245.49M116.5 398.22H111.5M117 497.53H111.5M111.5 398.22V497.53M112 187.84H76.2M111.5 447.87H76.2M76.2 187.84V447.87" stroke="#000" stroke-width="1" fill="none"/>
<path d="M133.7 119.3L125.07 119.3L125.66 123.48L126.82 127.89L124.06 130.15L125.17 135.5L128.48 138.44L127.76 142.32L126.88 146.23L126.86 148.83L126.35 154.3L127.02 159.27L127.41 161.52L125.36 165.89L127.89 168.01L127.23 171.9L127.21 177.42L125.78 183.1L126 188.31L127.95 194.05L124.61 196.44L128.34 199.31L126.82 203.05L126.28 206.26L125.58 209.8L126.63 214.14L127.07 219.76L127.85 225.47L127.02 231.44L127.87 234.09L128.07 239.95L127.21 244.22L127.74 247.07L125.28 251.36L127.84 253.62L124.4 259.58L125.85 264.78L125.32 267.38L127.93 272.46L126.77 274.63L127.23 276.81L127.96 280.14L126.27 286.06L125.39 292.05L126.7 294.36L124.89 296.49L126.75 300.12L124.19 302.74L125.41 308.21L128.03 314.05L126.07 317.56L126.9 321.64L126.52 326.02L128.23 330.5L125.94 334.53L125.07 339.41L128.4 342.62L126.47 346.7L125.87 348.75L124.09 353.07L126.84 357.53L126.82 359.77L127.06 363.64L127.18 367.05L124.1 372L127.04 374.24L125.13 380.09L126.67 383.92L125.64 387.2L125.66 390.45L125.35 394.83L127.48 398.34L126.56 400.45L125.4 405.39L127.62 408.28L124.84 411.23L127.14 414.97L125.45 417.38L127.75 420.72L127.85 424.47L125.52 427.15L127.98 431.75L125.01 435.55L126.38 438.04L127.63 440.8L124.83 446.15L127.63 449.27L127.63 453.84L124.58 457.22L127.57 460.39L125.56 463.47L125.89 467.14L128.14 470.78L124.02 473.4L127.96 479.17L125.95 485.12L128.17 490.92L127.35 493.81L126.98 499.16L125.3 503.23L125.02 506.6L126.65 508.87L127.65 512.02L128.07 514.2L128.16 518.97L128.05 524.56L124.06 528.87L124.77 533.85L128 536.3L133.7 536.3Z" stroke="none" stroke-width="1" fill="#000"/>
<text x="149.54" y="540.8" font-size="18.5" font-weight="bold" transform="rotate(90 149.54 540.8)">Scr1</text>
<text x="206.24" y="540.8" font-size="18.5" font-weight="bold" transform="rotate(90 206.24 540.8)">Scr2</text>
<text x="259.04" y="540.8" font-size="18.5" font-weight="bold" transform="rotate(90 259.04 540.8)">Scr3</text>
<text x="313.24" y="540.8" font-size="18.5" font-weight="bold" transform="rotate(90 313.24 540.8)">KD1</text>
<text x="366.04" y="540.8" font-size="18.5" font-weight="bold" transform="rotate(90 366.04 540.8)">KD2</text>
<text x="421.64" y="540.8" font-size="18.5" font-weight="bold" transform="rotate(90 421.64 540.8)">KD3</text>
<text x="556" y="30.4" font-size="40.5" font-weight="bold">B</text>
<text x="1085.6" y="112.9" font-size="24" font-weight="bold" textLength="282" lengthAdjust="spacingAndGlyphs">Dif Gene GO Enrichment</text>
<text x="881" y="163" font-size="18" font-weight="bold" textLength="36" lengthAdjust="spacingAndGlyphs">-LgP</text>
<line x1="939.4" y1="181.3" x2="1448.2" y2="181.3" stroke="#222" stroke-width="1.4"/>
<text x="939.4" y="163.3" font-size="21.5" text-anchor="middle">0</text>
<line x1="939.4" y1="176" x2="939.4" y2="181.3" stroke="#222" stroke-width="1"/>
<text x="1066.6" y="163.3" font-size="21.5" text-anchor="middle">2</text>
<line x1="1066.6" y1="176" x2="1066.6" y2="181.3" stroke="#222" stroke-width="1"/>
<text x="1193.8" y="163.3" font-size="21.5" text-anchor="middle">4</text>
<line x1="1193.8" y1="176" x2="1193.8" y2="181.3" stroke="#222" stroke-width="1"/>
<text x="1321" y="163.3" font-size="21.5" text-anchor="middle">6</text>
<line x1="1321" y1="176" x2="1321" y2="181.3" stroke="#222" stroke-width="1"/>
<text x="1448.2" y="163.3" font-size="21.5" text-anchor="middle">8</text>
<line x1="1448.2" y1="176" x2="1448.2" y2="181.3" stroke="#222" stroke-width="1"/>
<line x1="939.4" y1="181.3" x2="939.4" y2="521" stroke="#c8c8c8" stroke-width="1"/>
<rect x="939.4" y="191.9" width="481.45" height="20.4" fill="#f2d8c8"/>
<rect x="939.4" y="190.4" width="481.45" height="20.4" fill="#0a5ffb"/>
<text x="920.8" y="207.4" font-size="21.5" text-anchor="end" textLength="328.2" lengthAdjust="spacingAndGlyphs">G2/M transition of mitotic cell cycle</text>
<text x="1424.85" y="207.4" font-size="21.5">7.57</text>
<line x1="935.4" y1="219.4" x2="939.4" y2="219.4" stroke="#bbb" stroke-width="1"/>
<rect x="939.4" y="229.8" width="351.07" height="20.4" fill="#f2d8c8"/>
<rect x="939.4" y="228.3" width="351.07" height="20.4" fill="#0a5ffb"/>
<text x="920.8" y="245.3" font-size="21.5" text-anchor="end" textLength="109.02" lengthAdjust="spacingAndGlyphs">cell division</text>
<text x="1294.47" y="245.3" font-size="21.5">5.52</text>
<line x1="935.4" y1="257.3" x2="939.4" y2="257.3" stroke="#bbb" stroke-width="1"/>
<rect x="939.4" y="267.7" width="311" height="20.4" fill="#f2d8c8"/>
<rect x="939.4" y="266.2" width="311" height="20.4" fill="#0a5ffb"/>
<text x="920.8" y="283.2" font-size="21.5" text-anchor="end" textLength="196.77" lengthAdjust="spacingAndGlyphs">protein ubiquitination</text>
<text x="1254.4" y="283.2" font-size="21.5">4.89</text>
<line x1="935.4" y1="295.2" x2="939.4" y2="295.2" stroke="#bbb" stroke-width="1"/>
<rect x="939.4" y="305.6" width="276.02" height="20.4" fill="#f2d8c8"/>
<rect x="939.4" y="304.1" width="276.02" height="20.4" fill="#0a5ffb"/>
<text x="920.8" y="321.1" font-size="21.5" text-anchor="end" textLength="149.32" lengthAdjust="spacingAndGlyphs">cell proliferation</text>
<text x="1219.42" y="321.1" font-size="21.5">4.34</text>
<line x1="935.4" y1="333.1" x2="939.4" y2="333.1" stroke="#bbb" stroke-width="1"/>
<rect x="939.4" y="343.5" width="273.48" height="20.4" fill="#f2d8c8"/>
<rect x="939.4" y="342" width="273.48" height="20.4" fill="#0a5ffb"/>
<text x="920.8" y="359" font-size="21.5" text-anchor="end" textLength="214.48" lengthAdjust="spacingAndGlyphs">mitotic nuclear division</text>
<text x="1216.88" y="359" font-size="21.5">4.30</text>
<line x1="935.4" y1="371" x2="939.4" y2="371" stroke="#bbb" stroke-width="1"/>
<rect x="939.4" y="381.4" width="219.42" height="20.4" fill="#f2d8c8"/>
<rect x="939.4" y="379.9" width="219.42" height="20.4" fill="#0a5ffb"/>
<text x="920.8" y="396.9" font-size="21.5" text-anchor="end" textLength="231.06" lengthAdjust="spacingAndGlyphs">mitotic spindle assembly</text>
<text x="1162.82" y="396.9" font-size="21.5">3.45</text>
<line x1="935.4" y1="408.9" x2="939.4" y2="408.9" stroke="#bbb" stroke-width="1"/>
<rect x="939.4" y="419.3" width="182.53" height="20.4" fill="#f2d8c8"/>
<rect x="939.4" y="417.8" width="182.53" height="20.4" fill="#0a5ffb"/>
<text x="920.8" y="434.8" font-size="21.5" text-anchor="end" textLength="142.25" lengthAdjust="spacingAndGlyphs">hippo signaling</text>
<text x="1125.93" y="434.8" font-size="21.5">2.87</text>
<line x1="935.4" y1="446.8" x2="939.4" y2="446.8" stroke="#bbb" stroke-width="1"/>
<rect x="939.4" y="457.2" width="160.91" height="20.4" fill="#f2d8c8"/>
<rect x="939.4" y="455.7" width="160.91" height="20.4" fill="#0a5ffb"/>
<text x="920.8" y="472.7" font-size="21.5" text-anchor="end" textLength="269.01" lengthAdjust="spacingAndGlyphs">cellular iron ion homeostasis</text>
<text x="1104.31" y="472.7" font-size="21.5">2.53</text>
<line x1="935.4" y1="484.7" x2="939.4" y2="484.7" stroke="#bbb" stroke-width="1"/>
<rect x="939.4" y="495.1" width="127.2" height="20.4" fill="#f2d8c8"/>
<rect x="939.4" y="493.6" width="127.2" height="20.4" fill="#0a5ffb"/>
<text x="920.8" y="510.6" font-size="21.5" text-anchor="end" textLength="138.7" lengthAdjust="spacingAndGlyphs">axon guidance</text>
<text x="1070.6" y="510.6" font-size="21.5">2.00</text>
<line x1="935.4" y1="522.6" x2="939.4" y2="522.6" stroke="#bbb" stroke-width="1"/>
<text x="-0.8" y="630.9" font-size="40.5" font-weight="bold">C</text>
<text x="304.6" y="661.7" font-size="25" font-weight="bold" text-anchor="middle" textLength="422" lengthAdjust="spacingAndGlyphs">G2/M transition of mitotic cell cycle</text>
<rect x="77.1" y="672" width="463.3" height="408.5" fill="#e9e6d7"/>
<rect x="122.2" y="674" width="416.4" height="371.5" fill="#fff"/>
<path d="M177 674V1045M231.8 674V1045M286.6 674V1045M341.4 674V1045M396.2 674V1045M451 674V1045M505.8 674V1045M122.2 682.1H538.6M122.2 716.3H538.6M122.2 749.4H538.6M122.2 783.1H538.6M122.2 816.7H538.6M122.2 942.6H538.6M122.2 962.4H538.6M122.2 982.2H538.6M122.2 1021.8H538.6M122.2 1041.6H538.6" stroke="#ececec" stroke-width="1" fill="none"/>
<line x1="122.2" y1="716.3" x2="538.6" y2="716.3" stroke="#888" stroke-width="1.2"/>
<line x1="122.2" y1="849.5" x2="538.6" y2="849.5" stroke="#bbb" stroke-width="1.2"/>
<line x1="122.2" y1="674" x2="122.2" y2="1045.5" stroke="#aaa" stroke-width="1.3"/>
<line x1="122.2" y1="1045.5" x2="538.6" y2="1045.5" stroke="#aaa" stroke-width="1.3"/>
<text x="115.5" y="685.7" font-size="10" font-weight="bold" text-anchor="end" fill="#555">0.1</text>
<line x1="119.2" y1="682.1" x2="122.2" y2="682.1" stroke="#999" stroke-width="1"/>
<text x="115.5" y="719.9" font-size="10" font-weight="bold" text-anchor="end" fill="#555">0.0</text>
<line x1="119.2" y1="716.3" x2="122.2" y2="716.3" stroke="#999" stroke-width="1"/>
<text x="115.5" y="753" font-size="10" font-weight="bold" text-anchor="end" fill="#555">-0.1</text>
<line x1="119.2" y1="749.4" x2="122.2" y2="749.4" stroke="#999" stroke-width="1"/>
<text x="115.5" y="786.7" font-size="10" font-weight="bold" text-anchor="end" fill="#555">-0.2</text>
<line x1="119.2" y1="783.1" x2="122.2" y2="783.1" stroke="#999" stroke-width="1"/>
<text x="115.5" y="820.3" font-size="10" font-weight="bold" text-anchor="end" fill="#555">-0.3</text>
<line x1="119.2" y1="816.7" x2="122.2" y2="816.7" stroke="#999" stroke-width="1"/>
<text x="90" y="760.5" font-size="12" text-anchor="middle" fill="#666" textLength="122" lengthAdjust="spacingAndGlyphs" transform="rotate(-90 90 760.5)">Enrichment score (ES)</text>
<path d="M124 852.5V909.5M124.9 852.5V909.5M126.3 852.5V909.5M127.6 852.5V909.5M130.2 852.5V909.5M131.6 852.5V909.5M132.3 852.5V909.5M133.4 852.5V909.5M134.6 852.5V909.5M137.3 852.5V909.5M140 852.5V909.5M152.4 852.5V909.5M160.3 852.5V909.5M170.6 852.5V909.5M171.8 852.5V909.5M173.1 852.5V909.5M174.5 852.5V909.5M178.9 852.5V909.5M186.9 852.5V909.5M194.9 852.5V909.5M196.1 852.5V909.5M197.2 852.5V909.5M198.4 852.5V909.5M202 852.5V909.5M208.2 852.5V909.5M209 852.5V909.5M213.8 852.5V909.5M230.3 852.5V909.5M242.7 852.5V909.5M264.8 852.5V909.5M273.3 852.5V909.5M278.6 852.5V909.5M283.4 852.5V909.5M289.6 852.5V909.5M290.5 852.5V909.5M291.4 852.5V909.5M296.7 852.5V909.5M302.1 852.5V909.5M303 852.5V909.5M307.3 852.5V909.5M325.7 852.5V909.5M341.6 852.5V909.5M343.4 852.5V909.5M345.2 852.5V909.5M346.9 852.5V909.5M349.6 852.5V909.5M353.1 852.5V909.5M356.7 852.5V909.5M374.4 852.5V909.5M383.2 852.5V909.5M396.5 852.5V909.5M408.9 852.5V909.5M413.4 852.5V909.5M427.5 852.5V909.5M430.2 852.5V909.5M432.8 852.5V909.5M449.7 852.5V909.5M451.4 852.5V909.5M453.2 852.5V909.5M455 852.5V909.5M456.7 852.5V909.5M458.5 852.5V909.5M460.3 852.5V909.5M462.1 852.5V909.5M463.8 852.5V909.5M465.6 852.5V909.5M467.5 852.5V909.5M469.5 852.5V909.5M472.7 852.5V909.5M474.5 852.5V909.5M476.2 852.5V909.5M478 852.5V909.5M480 852.5V909.5M482 852.5V909.5M484.2 852.5V909.5M486 852.5V909.5M487.7 852.5V909.5M490.4 852.5V909.5M492.2 852.5V909.5M494.8 852.5V909.5M496.6 852.5V909.5M498.4 852.5V909.5M501 852.5V909.5M503.7 852.5V909.5M506.4 852.5V909.5M508 852.5V909.5M509.9 852.5V909.5M511.7 852.5V909.5M513.4 852.5V909.5M515.2 852.5V909.5M517 852.5V909.5M519.6 852.5V909.5M522.3 852.5V909.5M524.1 852.5V909.5M526.7 852.5V909.5M528.5 852.5V909.5M530.3 852.5V909.5M532 852.5V909.5M533.8 852.5V909.5M535.2 852.5V909.5" stroke="#222" stroke-width="1.1" fill="none"/>
<rect x="122.2" y="909.5" width="47.87" height="15" fill="#f45050"/>
<rect x="169.77" y="909.5" width="28.14" height="15" fill="#f06470"/>
<rect x="197.6" y="909.5" width="23.32" height="15" fill="#ef7e86"/>
<rect x="220.62" y="909.5" width="101.35" height="15" fill="#f9b5d8"/>
<rect x="321.67" y="909.5" width="102.67" height="15" fill="#d4d4f9"/>
<rect x="424.04" y="909.5" width="26.82" height="15" fill="#bdbdf4"/>
<rect x="450.56" y="909.5" width="20.9" height="15" fill="#7c7cf0"/>
<rect x="471.17" y="909.5" width="54.66" height="15" fill="#5a50e0"/>
<rect x="525.53" y="909.5" width="8.19" height="15" fill="#1e0ab4"/>
<text x="124.7" y="933.8" font-size="10.5" fill="#e8303c" textLength="141.7" lengthAdjust="spacingAndGlyphs">'na_pos' (positively correlated)</text>
<line x1="322.64" y1="925" x2="322.64" y2="1045" stroke="#999" stroke-width="0.9" stroke-dasharray="3 2"/>
<text x="322.64" y="989.6" font-size="9.4" text-anchor="middle" fill="#222" textLength="78.5" lengthAdjust="spacingAndGlyphs">Zero cross at 9144</text>
<text x="338.64" y="1042.2" font-size="10.7" fill="#3333dd" textLength="148.8" lengthAdjust="spacingAndGlyphs">'na_neg' (negatively correlated)</text>
<path d="M122.2 1002L122.2 980.22L122.86 984.21L123.95 989.01L125.49 993.16L127.68 996.19L130.97 997.96L135.35 998.7L141.93 999.1L150.7 999.42L166.04 999.79L187.96 1000.09L231.8 1000.33L275.64 1000.39L322.64 1000.41L322.64 1002L322.64 1003.19L363.32 1003.6L407.16 1004.04L451 1004.49L483.88 1004.92L505.8 1005.52L516.76 1006.15L523.34 1006.93L527.72 1009.06L531.01 1017.15L533.42 1039.95L533.42 1002Z" stroke="#b4b4b4" stroke-width="1" fill="#bdbdbd"/>
<text x="116" y="946.9" font-size="11.5" text-anchor="end" fill="#555">30</text>
<text x="116" y="966.7" font-size="11.5" text-anchor="end" fill="#555">20</text>
<text x="116" y="986.5" font-size="11.5" text-anchor="end" fill="#555">10</text>
<text x="116" y="1006.3" font-size="11.5" text-anchor="end" fill="#555">0</text>
<text x="116" y="1026.1" font-size="11.5" text-anchor="end" fill="#555">-10</text>
<text x="116" y="1045.9" font-size="11.5" text-anchor="end" fill="#555">-20</text>
<text x="93.2" y="983" font-size="12.3" text-anchor="middle" fill="#555" textLength="166" lengthAdjust="spacingAndGlyphs" transform="rotate(-90 93.2 983)">Ranked list metric (PreRanked)</text>
<text x="122.2" y="1059.5" font-size="10.4" text-anchor="middle" fill="#555">0</text>
<text x="177" y="1059.5" font-size="10.4" text-anchor="middle" fill="#555">2,500</text>
<text x="231.8" y="1059.5" font-size="10.4" text-anchor="middle" fill="#555">5,000</text>
<text x="286.6" y="1059.5" font-size="10.4" text-anchor="middle" fill="#555">7,500</text>
<text x="341.4" y="1059.5" font-size="10.4" text-anchor="middle" fill="#555">10,000</text>
<text x="396.2" y="1059.5" font-size="10.4" text-anchor="middle" fill="#555">12,500</text>
<text x="451" y="1059.5" font-size="10.4" text-anchor="middle" fill="#555">15,000</text>
<text x="505.8" y="1059.5" font-size="10.4" text-anchor="middle" fill="#555">17,500</text>
<text x="327.4" y="1076.6" font-size="12.2" text-anchor="middle" fill="#444" textLength="134.7" lengthAdjust="spacingAndGlyphs">Rank in Ordered Dataset</text>
<path d="M122.4 716.3L123.1 702.5L128.4 691.9L133.8 681.3L140.8 679.5L146.2 683L155 689.2L169.2 697.2L176.3 695.4L185.1 699.9L194 705.2L197.5 700.7L204.6 699.9L213.5 703.4L222.3 711.4L233 718.4L247.1 727.3L261.3 737.9L273.7 746.8L291.4 753.9L300 758.3L308.9 761L324.8 771.6L340.7 784L353.1 782.2L358.4 784L374.4 794.6L395.6 810.5L413.4 821.2L427.5 830L434.6 829.1L448.8 840.7L459.4 838L470 834.5L473.6 833.6L478.9 819.4L494.8 808.8L501.9 796.4L509.9 793.7L512.5 780.4L519.6 762.7L524.9 759.2L530.2 737.9L534.7 727.3L535.6 714.9" stroke="#2ee82e" stroke-width="3.2" fill="none" stroke-linejoin="round"/>
<text x="141.5" y="780.6" font-size="22" font-weight="bold" textLength="135.5" lengthAdjust="spacingAndGlyphs">NES = -2.839</text>
<text x="141.5" y="808.2" font-size="22" font-weight="bold" textLength="134.6" lengthAdjust="spacingAndGlyphs">p-val = 0.000</text>
<text x="141.5" y="835.3" font-size="22" font-weight="bold" textLength="134.6" lengthAdjust="spacingAndGlyphs">q-val = 0.000</text>
<rect x="77.1" y="672" width="463.3" height="408.5" fill="none" stroke="#111" stroke-width="2"/>
<line x1="86" y1="1091.6" x2="108.8" y2="1091.6" stroke="#22cc22" stroke-width="3"/>
<text x="113.1" y="1097.2" font-size="16" fill="#222" textLength="128.2" lengthAdjust="spacingAndGlyphs">Enrichment profile</text>
<line x1="251.1" y1="1091.6" x2="269.1" y2="1091.6" stroke="#444" stroke-width="2"/>
<text x="274" y="1097.2" font-size="16" fill="#222" textLength="27.7" lengthAdjust="spacingAndGlyphs">Hits</text>
<line x1="309.7" y1="1088.5" x2="327.7" y2="1088.5" stroke="#ddd" stroke-width="2"/>
<line x1="342.7" y1="1091.6" x2="360.7" y2="1091.6" stroke="#ccc" stroke-width="2"/>
<text x="367.2" y="1097.2" font-size="16" fill="#222" textLength="159.2" lengthAdjust="spacingAndGlyphs">Ranking metric scores</text>
<text x="770.4" y="661.7" font-size="25" font-weight="bold" text-anchor="middle" textLength="279.3" lengthAdjust="spacingAndGlyphs">Mitotic nuclear division</text>
<rect x="540.4" y="672" width="462.4" height="408.5" fill="#e9e6d7"/>
<rect x="586.8" y="674" width="414.2" height="371.5" fill="#fff"/>
<path d="M641.4 674V1045M696 674V1045M750.6 674V1045M805.2 674V1045M859.8 674V1045M914.4 674V1045M969 674V1045M586.8 680H1001M586.8 712.4H1001M586.8 745.1H1001M586.8 777.8H1001M586.8 810.5H1001M586.8 843.2H1001M586.8 942.6H1001M586.8 962.4H1001M586.8 982.2H1001M586.8 1021.8H1001M586.8 1041.6H1001" stroke="#ececec" stroke-width="1" fill="none"/>
<line x1="586.8" y1="680" x2="1001" y2="680" stroke="#888" stroke-width="1.2"/>
<line x1="586.8" y1="852.1" x2="1001" y2="852.1" stroke="#bbb" stroke-width="1.2"/>
<line x1="586.8" y1="674" x2="586.8" y2="1045.5" stroke="#aaa" stroke-width="1.3"/>
<line x1="586.8" y1="1045.5" x2="1001" y2="1045.5" stroke="#aaa" stroke-width="1.3"/>
<text x="579.3" y="683.6" font-size="10" font-weight="bold" text-anchor="end" fill="#555">0.0</text>
<line x1="583.8" y1="680" x2="586.8" y2="680" stroke="#999" stroke-width="1"/>
<text x="579.3" y="716" font-size="10" font-weight="bold" text-anchor="end" fill="#555">-0.1</text>
<line x1="583.8" y1="712.4" x2="586.8" y2="712.4" stroke="#999" stroke-width="1"/>
<text x="579.3" y="748.7" font-size="10" font-weight="bold" text-anchor="end" fill="#555">-0.2</text>
<line x1="583.8" y1="745.1" x2="586.8" y2="745.1" stroke="#999" stroke-width="1"/>
<text x="579.3" y="781.4" font-size="10" font-weight="bold" text-anchor="end" fill="#555">-0.3</text>
<line x1="583.8" y1="777.8" x2="586.8" y2="777.8" stroke="#999" stroke-width="1"/>
<text x="579.3" y="814.1" font-size="10" font-weight="bold" text-anchor="end" fill="#555">-0.4</text>
<line x1="583.8" y1="810.5" x2="586.8" y2="810.5" stroke="#999" stroke-width="1"/>
<text x="579.3" y="846.8" font-size="10" font-weight="bold" text-anchor="end" fill="#555">-0.5</text>
<line x1="583.8" y1="843.2" x2="586.8" y2="843.2" stroke="#999" stroke-width="1"/>
<text x="554.6" y="760.5" font-size="12" text-anchor="middle" fill="#666" textLength="122" lengthAdjust="spacingAndGlyphs" transform="rotate(-90 554.6 760.5)">Enrichment score (ES)</text>
<path d="M613.4 855.1V909.5M621.6 855.1V909.5M639.5 855.1V909.5M649.4 855.1V909.5M657.5 855.1V909.5M660.8 855.1V909.5M662.4 855.1V909.5M672.2 855.1V909.5M684.3 855.1V909.5M690.2 855.1V909.5M698.4 855.1V909.5M753.4 855.1V909.5M771.3 855.1V909.5M789.3 855.1V909.5M798.1 855.1V909.5M888.1 855.1V909.5M909.3 855.1V909.5M911 855.1V909.5M913.5 855.1V909.5M916.1 855.1V909.5M920.9 855.1V909.5M922.4 855.1V909.5M925.7 855.1V909.5M931.6 855.1V909.5M938.7 855.1V909.5M941.3 855.1V909.5M945.3 855.1V909.5M949.5 855.1V909.5M951.2 855.1V909.5M963.3 855.1V909.5M966.5 855.1V909.5M968.8 855.1V909.5M982.9 855.1V909.5M985.2 855.1V909.5M987.2 855.1V909.5M989.5 855.1V909.5M991.1 855.1V909.5M992.7 855.1V909.5M994.4 855.1V909.5M997 855.1V909.5" stroke="#222" stroke-width="1.1" fill="none"/>
<rect x="586.8" y="909.5" width="47.69" height="15" fill="#f45050"/>
<rect x="634.19" y="909.5" width="28.04" height="15" fill="#f06470"/>
<rect x="661.93" y="909.5" width="23.23" height="15" fill="#ef7e86"/>
<rect x="684.86" y="909.5" width="100.98" height="15" fill="#f9b5d8"/>
<rect x="785.54" y="909.5" width="102.29" height="15" fill="#d4d4f9"/>
<rect x="887.54" y="909.5" width="26.73" height="15" fill="#bdbdf4"/>
<rect x="913.96" y="909.5" width="20.83" height="15" fill="#7c7cf0"/>
<rect x="934.49" y="909.5" width="54.46" height="15" fill="#5a50e0"/>
<rect x="988.66" y="909.5" width="8.16" height="15" fill="#1e0ab4"/>
<text x="589.3" y="933.8" font-size="10.5" fill="#e8303c" textLength="141.7" lengthAdjust="spacingAndGlyphs">'na_pos' (positively correlated)</text>
<line x1="786.5" y1="925" x2="786.5" y2="1045" stroke="#999" stroke-width="0.9" stroke-dasharray="3 2"/>
<text x="786.5" y="989.6" font-size="9.4" text-anchor="middle" fill="#222" textLength="78.5" lengthAdjust="spacingAndGlyphs">Zero cross at 9144</text>
<text x="802.5" y="1042.2" font-size="10.7" fill="#3333dd" textLength="148.8" lengthAdjust="spacingAndGlyphs">'na_neg' (negatively correlated)</text>
<path d="M586.8 1002L586.8 980.22L587.46 984.21L588.55 989.01L590.08 993.16L592.26 996.19L595.54 997.96L599.9 998.7L606.46 999.1L615.19 999.42L630.48 999.79L652.32 1000.09L696 1000.33L739.68 1000.39L786.5 1000.41L786.5 1002L786.5 1003.19L827.04 1003.6L870.72 1004.04L914.4 1004.49L947.16 1004.92L969 1005.52L979.92 1006.15L986.47 1006.93L990.84 1009.06L994.12 1017.15L996.52 1039.95L996.52 1002Z" stroke="#b4b4b4" stroke-width="1" fill="#bdbdbd"/>
<text x="579.8" y="946.9" font-size="11.5" text-anchor="end" fill="#555">30</text>
<text x="579.8" y="966.7" font-size="11.5" text-anchor="end" fill="#555">20</text>
<text x="579.8" y="986.5" font-size="11.5" text-anchor="end" fill="#555">10</text>
<text x="579.8" y="1006.3" font-size="11.5" text-anchor="end" fill="#555">0</text>
<text x="579.8" y="1026.1" font-size="11.5" text-anchor="end" fill="#555">-10</text>
<text x="579.8" y="1045.9" font-size="11.5" text-anchor="end" fill="#555">-20</text>
<text x="557.8" y="983" font-size="12.3" text-anchor="middle" fill="#555" textLength="166" lengthAdjust="spacingAndGlyphs" transform="rotate(-90 557.8 983)">Ranked list metric (PreRanked)</text>
<text x="586.8" y="1059.5" font-size="10.4" text-anchor="middle" fill="#555">0</text>
<text x="641.4" y="1059.5" font-size="10.4" text-anchor="middle" fill="#555">2,500</text>
<text x="696" y="1059.5" font-size="10.4" text-anchor="middle" fill="#555">5,000</text>
<text x="750.6" y="1059.5" font-size="10.4" text-anchor="middle" fill="#555">7,500</text>
<text x="805.2" y="1059.5" font-size="10.4" text-anchor="middle" fill="#555">10,000</text>
<text x="859.8" y="1059.5" font-size="10.4" text-anchor="middle" fill="#555">12,500</text>
<text x="914.4" y="1059.5" font-size="10.4" text-anchor="middle" fill="#555">15,000</text>
<text x="969" y="1059.5" font-size="10.4" text-anchor="middle" fill="#555">17,500</text>
<text x="790.9" y="1076.6" font-size="12.2" text-anchor="middle" fill="#444" textLength="134.7" lengthAdjust="spacingAndGlyphs">Rank in Ordered Dataset</text>
<path d="M587.2 679.7L611.8 700.3L614.4 693.8L619.9 695.4L637.9 706.8L641.2 701.9L647.7 706.8L655.9 710.1L662.4 697L670.6 703.6L673.9 695.4L683.7 701.3L690.2 698L698.4 703.6L700 700.3L752.4 741.2L755.6 739.5L768.7 751L772 749.4L788.3 760.8L791.6 758.2L798.1 764.1L801.4 762.4L886.4 827.8L889.7 826.9L909.3 842.6L912.6 822.9L917.5 819.7L920.8 821.3L925.7 803.3L935.5 808.2L942 796.8L951.8 783.7L961.6 790.2L969.8 772.2L981.3 780.4L984.5 760.8L987.8 752.6L990.4 715L992.7 701.9L996 703.6L997.6 679" stroke="#2ee82e" stroke-width="3.2" fill="none" stroke-linejoin="round"/>
<text x="605.9" y="780.4" font-size="22" font-weight="bold" textLength="136.7" lengthAdjust="spacingAndGlyphs">NES = -2.697</text>
<text x="605.9" y="808.2" font-size="22" font-weight="bold" textLength="123" lengthAdjust="spacingAndGlyphs">p-val = 0.00</text>
<text x="605.9" y="835.4" font-size="22" font-weight="bold" textLength="123" lengthAdjust="spacingAndGlyphs">q-val = 0.00</text>
<rect x="540.4" y="672" width="462.4" height="408.5" fill="none" stroke="#111" stroke-width="2"/>
<line x1="551.3" y1="1091.6" x2="574.1" y2="1091.6" stroke="#22cc22" stroke-width="3"/>
<text x="578.4" y="1097.2" font-size="16" fill="#222" textLength="128.2" lengthAdjust="spacingAndGlyphs">Enrichment profile</text>
<line x1="716.4" y1="1091.6" x2="734.4" y2="1091.6" stroke="#444" stroke-width="2"/>
<text x="739.3" y="1097.2" font-size="16" fill="#222" textLength="27.7" lengthAdjust="spacingAndGlyphs">Hits</text>
<line x1="775" y1="1088.5" x2="793" y2="1088.5" stroke="#ddd" stroke-width="2"/>
<line x1="808" y1="1091.6" x2="826" y2="1091.6" stroke="#ccc" stroke-width="2"/>
<text x="832.5" y="1097.2" font-size="16" fill="#222" textLength="159.2" lengthAdjust="spacingAndGlyphs">Ranking metric scores</text>
<text x="1236.6" y="661.7" font-size="25" font-weight="bold" text-anchor="middle" textLength="146.9" lengthAdjust="spacingAndGlyphs">Cell division</text>
<rect x="1002.8" y="672" width="461.9" height="408.5" fill="#e9e6d7"/>
<rect x="1054.6" y="674" width="407.6" height="371.5" fill="#fff"/>
<path d="M1108.35 674V1045M1162.1 674V1045M1215.85 674V1045M1269.6 674V1045M1323.35 674V1045M1377.1 674V1045M1430.85 674V1045M1054.6 678.3H1462.2M1054.6 697.2H1462.2M1054.6 716.2H1462.2M1054.6 735.2H1462.2M1054.6 754.1H1462.2M1054.6 773.1H1462.2M1054.6 792H1462.2M1054.6 811H1462.2M1054.6 830H1462.2M1054.6 849H1462.2M1054.6 942.6H1462.2M1054.6 962.4H1462.2M1054.6 982.2H1462.2M1054.6 1021.8H1462.2M1054.6 1041.6H1462.2" stroke="#ececec" stroke-width="1" fill="none"/>
<line x1="1054.6" y1="678.3" x2="1462.2" y2="678.3" stroke="#888" stroke-width="1.2"/>
<line x1="1054.6" y1="850.6" x2="1462.2" y2="850.6" stroke="#bbb" stroke-width="1.2"/>
<line x1="1054.6" y1="674" x2="1054.6" y2="1045.5" stroke="#aaa" stroke-width="1.3"/>
<line x1="1054.6" y1="1045.5" x2="1462.2" y2="1045.5" stroke="#aaa" stroke-width="1.3"/>
<text x="1047.5" y="681.9" font-size="10" font-weight="bold" text-anchor="end" fill="#555">0.00</text>
<line x1="1051.6" y1="678.3" x2="1054.6" y2="678.3" stroke="#999" stroke-width="1"/>
<text x="1047.5" y="700.8" font-size="10" font-weight="bold" text-anchor="end" fill="#555">-0.05</text>
<line x1="1051.6" y1="697.2" x2="1054.6" y2="697.2" stroke="#999" stroke-width="1"/>
<text x="1047.5" y="719.8" font-size="10" font-weight="bold" text-anchor="end" fill="#555">-0.10</text>
<line x1="1051.6" y1="716.2" x2="1054.6" y2="716.2" stroke="#999" stroke-width="1"/>
<text x="1047.5" y="738.8" font-size="10" font-weight="bold" text-anchor="end" fill="#555">-0.15</text>
<line x1="1051.6" y1="735.2" x2="1054.6" y2="735.2" stroke="#999" stroke-width="1"/>
<text x="1047.5" y="757.7" font-size="10" font-weight="bold" text-anchor="end" fill="#555">-0.20</text>
<line x1="1051.6" y1="754.1" x2="1054.6" y2="754.1" stroke="#999" stroke-width="1"/>
<text x="1047.5" y="776.7" font-size="10" font-weight="bold" text-anchor="end" fill="#555">-0.25</text>
<line x1="1051.6" y1="773.1" x2="1054.6" y2="773.1" stroke="#999" stroke-width="1"/>
<text x="1047.5" y="795.6" font-size="10" font-weight="bold" text-anchor="end" fill="#555">-0.30</text>
<line x1="1051.6" y1="792" x2="1054.6" y2="792" stroke="#999" stroke-width="1"/>
<text x="1047.5" y="814.6" font-size="10" font-weight="bold" text-anchor="end" fill="#555">-0.35</text>
<line x1="1051.6" y1="811" x2="1054.6" y2="811" stroke="#999" stroke-width="1"/>
<text x="1047.5" y="833.6" font-size="10" font-weight="bold" text-anchor="end" fill="#555">-0.40</text>
<line x1="1051.6" y1="830" x2="1054.6" y2="830" stroke="#999" stroke-width="1"/>
<text x="1047.5" y="852.6" font-size="10" font-weight="bold" text-anchor="end" fill="#555">-0.45</text>
<line x1="1051.6" y1="849" x2="1054.6" y2="849" stroke="#999" stroke-width="1"/>
<text x="1016.9" y="760.5" font-size="12" text-anchor="middle" fill="#666" textLength="122" lengthAdjust="spacingAndGlyphs" transform="rotate(-90 1016.9 760.5)">Enrichment score (ES)</text>
<path d="M1107.1 853.6V909.5M1138.4 853.6V909.5M1139.2 853.6V909.5M1151.9 853.6V909.5M1179.3 853.6V909.5M1187.3 853.6V909.5M1225.7 853.6V909.5M1272.1 853.6V909.5M1306.9 853.6V909.5M1345.5 853.6V909.5M1352 853.6V909.5M1377.1 853.6V909.5M1397.7 853.6V909.5M1408 853.6V909.5M1410.6 853.6V909.5M1420.3 853.6V909.5M1425.7 853.6V909.5M1450.5 853.6V909.5M1458.9 853.6V909.5" stroke="#222" stroke-width="1.1" fill="none"/>
<rect x="1054.6" y="909.5" width="46.95" height="15" fill="#f45050"/>
<rect x="1101.25" y="909.5" width="27.61" height="15" fill="#f06470"/>
<rect x="1128.56" y="909.5" width="22.88" height="15" fill="#ef7e86"/>
<rect x="1151.13" y="909.5" width="99.42" height="15" fill="#f9b5d8"/>
<rect x="1250.25" y="909.5" width="100.7" height="15" fill="#d4d4f9"/>
<rect x="1350.65" y="909.5" width="26.31" height="15" fill="#bdbdf4"/>
<rect x="1376.67" y="909.5" width="20.51" height="15" fill="#7c7cf0"/>
<rect x="1396.88" y="909.5" width="53.62" height="15" fill="#5a50e0"/>
<rect x="1450.2" y="909.5" width="8.04" height="15" fill="#1e0ab4"/>
<text x="1057.1" y="933.8" font-size="10.5" fill="#e8303c" textLength="141.7" lengthAdjust="spacingAndGlyphs">'na_pos' (positively correlated)</text>
<line x1="1251.2" y1="925" x2="1251.2" y2="1045" stroke="#999" stroke-width="0.9" stroke-dasharray="3 2"/>
<text x="1251.2" y="989.6" font-size="9.4" text-anchor="middle" fill="#222" textLength="78.5" lengthAdjust="spacingAndGlyphs">Zero cross at 9144</text>
<text x="1267.2" y="1042.2" font-size="10.7" fill="#3333dd" textLength="148.8" lengthAdjust="spacingAndGlyphs">'na_neg' (negatively correlated)</text>
<path d="M1054.6 1002L1054.6 980.22L1055.24 984.21L1056.32 989.01L1057.82 993.16L1059.97 996.19L1063.2 997.96L1067.5 998.7L1073.95 999.1L1082.55 999.42L1097.6 999.79L1119.1 1000.09L1162.1 1000.33L1205.1 1000.39L1251.2 1000.41L1251.2 1002L1251.2 1003.19L1291.1 1003.6L1334.1 1004.04L1377.1 1004.49L1409.35 1004.92L1430.85 1005.52L1441.6 1006.15L1448.05 1006.93L1452.35 1009.06L1455.57 1017.15L1457.94 1039.95L1457.94 1002Z" stroke="#b4b4b4" stroke-width="1" fill="#bdbdbd"/>
<text x="1048" y="946.9" font-size="11.5" text-anchor="end" fill="#555">30</text>
<text x="1048" y="966.7" font-size="11.5" text-anchor="end" fill="#555">20</text>
<text x="1048" y="986.5" font-size="11.5" text-anchor="end" fill="#555">10</text>
<text x="1048" y="1006.3" font-size="11.5" text-anchor="end" fill="#555">0</text>
<text x="1048" y="1026.1" font-size="11.5" text-anchor="end" fill="#555">-10</text>
<text x="1048" y="1045.9" font-size="11.5" text-anchor="end" fill="#555">-20</text>
<text x="1025.6" y="983" font-size="12.3" text-anchor="middle" fill="#555" textLength="166" lengthAdjust="spacingAndGlyphs" transform="rotate(-90 1025.6 983)">Ranked list metric (PreRanked)</text>
<text x="1054.6" y="1059.5" font-size="10.4" text-anchor="middle" fill="#555">0</text>
<text x="1108.35" y="1059.5" font-size="10.4" text-anchor="middle" fill="#555">2,500</text>
<text x="1162.1" y="1059.5" font-size="10.4" text-anchor="middle" fill="#555">5,000</text>
<text x="1215.85" y="1059.5" font-size="10.4" text-anchor="middle" fill="#555">7,500</text>
<text x="1269.6" y="1059.5" font-size="10.4" text-anchor="middle" fill="#555">10,000</text>
<text x="1323.35" y="1059.5" font-size="10.4" text-anchor="middle" fill="#555">12,500</text>
<text x="1377.1" y="1059.5" font-size="10.4" text-anchor="middle" fill="#555">15,000</text>
<text x="1430.85" y="1059.5" font-size="10.4" text-anchor="middle" fill="#555">17,500</text>
<text x="1255.4" y="1076.6" font-size="12.2" text-anchor="middle" fill="#444" textLength="134.7" lengthAdjust="spacingAndGlyphs">Rank in Ordered Dataset</text>
<path d="M1054.6 677.7L1106.1 726.6L1107.8 712.2L1136.8 741.1L1139.3 715.4L1151.3 725.7L1152.9 714.4L1178.6 739.5L1180.2 726.6L1186.7 734.7L1187.7 723.4L1225.3 757.3L1226.3 746L1272.1 788.5L1272.7 777.5L1305.9 810.4L1306.8 798.2L1344.5 833L1345.5 821.7L1351 827.2L1352 815.2L1376.8 836.2L1377.7 823.3L1396.1 841L1397.7 825.9L1407.4 834.9L1409 818.5L1410.6 802.4L1418.6 812L1420.3 792.7L1425.1 795.9L1426.1 776.6L1449.2 799.1L1450.9 767.9L1458.9 775L1459.6 677.7" stroke="#2ee82e" stroke-width="3.2" fill="none" stroke-linejoin="round"/>
<text x="1067.5" y="781.4" font-size="22" font-weight="bold" textLength="136.3" lengthAdjust="spacingAndGlyphs">NES = -1.822</text>
<text x="1067.5" y="808.8" font-size="22" font-weight="bold" textLength="135.3" lengthAdjust="spacingAndGlyphs">p-val = 0.020</text>
<text x="1067.5" y="836.2" font-size="22" font-weight="bold" textLength="135.3" lengthAdjust="spacingAndGlyphs">q-val = 0.190</text>
<rect x="1002.8" y="672" width="461.9" height="408.5" fill="none" stroke="#111" stroke-width="2"/>
<line x1="1019.2" y1="1091.6" x2="1042" y2="1091.6" stroke="#22cc22" stroke-width="3"/>
<text x="1046.3" y="1097.2" font-size="16" fill="#222" textLength="128.2" lengthAdjust="spacingAndGlyphs">Enrichment profile</text>
<line x1="1184.3" y1="1091.6" x2="1202.3" y2="1091.6" stroke="#444" stroke-width="2"/>
<text x="1207.2" y="1097.2" font-size="16" fill="#222" textLength="27.7" lengthAdjust="spacingAndGlyphs">Hits</text>
<line x1="1242.9" y1="1088.5" x2="1260.9" y2="1088.5" stroke="#ddd" stroke-width="2"/>
<line x1="1275.9" y1="1091.6" x2="1293.9" y2="1091.6" stroke="#ccc" stroke-width="2"/>
<text x="1300.4" y="1097.2" font-size="16" fill="#222" textLength="159.2" lengthAdjust="spacingAndGlyphs">Ranking metric scores</text>
<text x="0.9" y="1155.9" font-size="40.5" font-weight="bold">D</text>
<text x="194" y="1182" font-size="22" font-weight="bold" textLength="98.2" lengthAdjust="spacingAndGlyphs">Heatmap</text>
<rect x="122.2" y="1235.9" width="43.4" height="14.93" fill="#71a0cb"/>
<rect x="165.6" y="1235.9" width="43.4" height="14.93" fill="#f5fbd2"/>
<rect x="209" y="1235.9" width="43.4" height="14.93" fill="#f1fad8"/>
<rect x="252.4" y="1235.9" width="43.4" height="14.93" fill="#fdc57e"/>
<rect x="295.8" y="1235.9" width="43.4" height="14.93" fill="#d73027"/>
<rect x="339.2" y="1235.9" width="43.4" height="14.93" fill="#fffcba"/>
<rect x="122.2" y="1250.83" width="43.4" height="14.93" fill="#e0f3f7"/>
<rect x="165.6" y="1250.83" width="43.4" height="14.93" fill="#b5d7e8"/>
<rect x="209" y="1250.83" width="43.4" height="14.93" fill="#82b0d3"/>
<rect x="252.4" y="1250.83" width="43.4" height="14.93" fill="#fdb372"/>
<rect x="295.8" y="1250.83" width="43.4" height="14.93" fill="#fc9860"/>
<rect x="339.2" y="1250.83" width="43.4" height="14.93" fill="#fdaa6c"/>
<rect x="122.2" y="1265.76" width="43.4" height="14.93" fill="#add1e5"/>
<rect x="165.6" y="1265.76" width="43.4" height="14.93" fill="#add1e5"/>
<rect x="209" y="1265.76" width="43.4" height="14.93" fill="#add1e5"/>
<rect x="252.4" y="1265.76" width="43.4" height="14.93" fill="#fdaa6c"/>
<rect x="295.8" y="1265.76" width="43.4" height="14.93" fill="#fdaa6c"/>
<rect x="339.2" y="1265.76" width="43.4" height="14.93" fill="#fdaa6c"/>
<rect x="122.2" y="1280.69" width="43.4" height="14.93" fill="#d8eef5"/>
<rect x="165.6" y="1280.69" width="43.4" height="14.93" fill="#a4cbe2"/>
<rect x="209" y="1280.69" width="43.4" height="14.93" fill="#9bc6df"/>
<rect x="252.4" y="1280.69" width="43.4" height="14.93" fill="#fdaa6c"/>
<rect x="295.8" y="1280.69" width="43.4" height="14.93" fill="#fca166"/>
<rect x="339.2" y="1280.69" width="43.4" height="14.93" fill="#fdaa6c"/>
<rect x="122.2" y="1295.62" width="43.4" height="14.93" fill="#e7f6eb"/>
<rect x="165.6" y="1295.62" width="43.4" height="14.93" fill="#79a8cf"/>
<rect x="209" y="1295.62" width="43.4" height="14.93" fill="#e0f3f7"/>
<rect x="252.4" y="1295.62" width="43.4" height="14.93" fill="#f17049"/>
<rect x="295.8" y="1295.62" width="43.4" height="14.93" fill="#fc8f5a"/>
<rect x="339.2" y="1295.62" width="43.4" height="14.93" fill="#fee79b"/>
<rect x="122.2" y="1310.55" width="43.4" height="14.93" fill="#c7e2ef"/>
<rect x="165.6" y="1310.55" width="43.4" height="14.93" fill="#93c0dc"/>
<rect x="209" y="1310.55" width="43.4" height="14.93" fill="#d8eef5"/>
<rect x="252.4" y="1310.55" width="43.4" height="14.93" fill="#fc8f5a"/>
<rect x="295.8" y="1310.55" width="43.4" height="14.93" fill="#fc8f5a"/>
<rect x="339.2" y="1310.55" width="43.4" height="14.93" fill="#fee090"/>
<rect x="122.2" y="1325.48" width="43.4" height="14.93" fill="#79a8cf"/>
<rect x="165.6" y="1325.48" width="43.4" height="14.93" fill="#f5fbd2"/>
<rect x="209" y="1325.48" width="43.4" height="14.93" fill="#fca166"/>
<rect x="252.4" y="1325.48" width="43.4" height="14.93" fill="#cfe8f2"/>
<rect x="295.8" y="1325.48" width="43.4" height="14.93" fill="#fff8b5"/>
<rect x="339.2" y="1325.48" width="43.4" height="14.93" fill="#ec6644"/>
<rect x="122.2" y="1340.41" width="43.4" height="14.93" fill="#4575b4"/>
<rect x="165.6" y="1340.41" width="43.4" height="14.93" fill="#fecf84"/>
<rect x="209" y="1340.41" width="43.4" height="14.93" fill="#fee496"/>
<rect x="252.4" y="1340.41" width="43.4" height="14.93" fill="#fffcba"/>
<rect x="295.8" y="1340.41" width="43.4" height="14.93" fill="#f1fad8"/>
<rect x="339.2" y="1340.41" width="43.4" height="14.93" fill="#fecf84"/>
<rect x="122.2" y="1355.34" width="43.4" height="14.93" fill="#6090c2"/>
<rect x="165.6" y="1355.34" width="43.4" height="14.93" fill="#fee79b"/>
<rect x="209" y="1355.34" width="43.4" height="14.93" fill="#e45139"/>
<rect x="252.4" y="1355.34" width="43.4" height="14.93" fill="#beddec"/>
<rect x="295.8" y="1355.34" width="43.4" height="14.93" fill="#fff1aa"/>
<rect x="339.2" y="1355.34" width="43.4" height="14.93" fill="#fff8b5"/>
<rect x="122.2" y="1370.27" width="43.4" height="14.93" fill="#fff8b5"/>
<rect x="165.6" y="1370.27" width="43.4" height="14.93" fill="#ffffbf"/>
<rect x="209" y="1370.27" width="43.4" height="14.93" fill="#fdc57e"/>
<rect x="252.4" y="1370.27" width="43.4" height="14.93" fill="#f98554"/>
<rect x="295.8" y="1370.27" width="43.4" height="14.93" fill="#4575b4"/>
<rect x="339.2" y="1370.27" width="43.4" height="14.93" fill="#fcfec5"/>
<rect x="122.2" y="1385.2" width="43.4" height="14.93" fill="#f98554"/>
<rect x="165.6" y="1385.2" width="43.4" height="14.93" fill="#feeba0"/>
<rect x="209" y="1385.2" width="43.4" height="14.93" fill="#fc8f5a"/>
<rect x="252.4" y="1385.2" width="43.4" height="14.93" fill="#f1fad8"/>
<rect x="295.8" y="1385.2" width="43.4" height="14.93" fill="#b5d7e8"/>
<rect x="339.2" y="1385.2" width="43.4" height="14.93" fill="#71a0cb"/>
<rect x="122.2" y="1400.13" width="43.4" height="14.93" fill="#fecf84"/>
<rect x="165.6" y="1400.13" width="43.4" height="14.93" fill="#fdaa6c"/>
<rect x="209" y="1400.13" width="43.4" height="14.93" fill="#fdaa6c"/>
<rect x="252.4" y="1400.13" width="43.4" height="14.93" fill="#ebf7e5"/>
<rect x="295.8" y="1400.13" width="43.4" height="14.93" fill="#c7e2ef"/>
<rect x="339.2" y="1400.13" width="43.4" height="14.93" fill="#79a8cf"/>
<rect x="122.2" y="1415.06" width="43.4" height="14.93" fill="#fdb372"/>
<rect x="165.6" y="1415.06" width="43.4" height="14.93" fill="#fdaa6c"/>
<rect x="209" y="1415.06" width="43.4" height="14.93" fill="#fdbc78"/>
<rect x="252.4" y="1415.06" width="43.4" height="14.93" fill="#fffcba"/>
<rect x="295.8" y="1415.06" width="43.4" height="14.93" fill="#add1e5"/>
<rect x="339.2" y="1415.06" width="43.4" height="14.93" fill="#79a8cf"/>
<rect x="122.2" y="1429.99" width="43.4" height="14.93" fill="#fdaa6c"/>
<rect x="165.6" y="1429.99" width="43.4" height="14.93" fill="#fc9860"/>
<rect x="209" y="1429.99" width="43.4" height="14.93" fill="#fdbc78"/>
<rect x="252.4" y="1429.99" width="43.4" height="14.93" fill="#ebf7e5"/>
<rect x="295.8" y="1429.99" width="43.4" height="14.93" fill="#a4cbe2"/>
<rect x="339.2" y="1429.99" width="43.4" height="14.93" fill="#a4cbe2"/>
<rect x="122.2" y="1444.92" width="43.4" height="14.93" fill="#d73027"/>
<rect x="165.6" y="1444.92" width="43.4" height="14.93" fill="#f8fccc"/>
<rect x="209" y="1444.92" width="43.4" height="14.93" fill="#fdbc78"/>
<rect x="252.4" y="1444.92" width="43.4" height="14.93" fill="#e7f6eb"/>
<rect x="295.8" y="1444.92" width="43.4" height="14.93" fill="#ebf7e5"/>
<rect x="339.2" y="1444.92" width="43.4" height="14.93" fill="#add1e5"/>
<rect x="122.2" y="1459.85" width="43.4" height="14.93" fill="#e45139"/>
<rect x="165.6" y="1459.85" width="43.4" height="14.93" fill="#fee496"/>
<rect x="209" y="1459.85" width="43.4" height="14.93" fill="#fee090"/>
<rect x="252.4" y="1459.85" width="43.4" height="14.93" fill="#eef8de"/>
<rect x="295.8" y="1459.85" width="43.4" height="14.93" fill="#f5fbd2"/>
<rect x="339.2" y="1459.85" width="43.4" height="14.93" fill="#5888be"/>
<rect x="122.2" y="1474.78" width="43.4" height="14.93" fill="#e45139"/>
<rect x="165.6" y="1474.78" width="43.4" height="14.93" fill="#fee496"/>
<rect x="209" y="1474.78" width="43.4" height="14.93" fill="#fee090"/>
<rect x="252.4" y="1474.78" width="43.4" height="14.93" fill="#fffcba"/>
<rect x="295.8" y="1474.78" width="43.4" height="14.93" fill="#e7f6eb"/>
<rect x="339.2" y="1474.78" width="43.4" height="14.93" fill="#5888be"/>
<rect x="122.2" y="1489.71" width="43.4" height="14.93" fill="#e85c3f"/>
<rect x="165.6" y="1489.71" width="43.4" height="14.93" fill="#fee496"/>
<rect x="209" y="1489.71" width="43.4" height="14.93" fill="#fee090"/>
<rect x="252.4" y="1489.71" width="43.4" height="14.93" fill="#fff8b5"/>
<rect x="295.8" y="1489.71" width="43.4" height="14.93" fill="#ebf7e5"/>
<rect x="339.2" y="1489.71" width="43.4" height="14.93" fill="#507fb9"/>
<rect x="122.2" y="1504.64" width="43.4" height="14.93" fill="#fee496"/>
<rect x="165.6" y="1504.64" width="43.4" height="14.93" fill="#fffcba"/>
<rect x="209" y="1504.64" width="43.4" height="14.93" fill="#d83328"/>
<rect x="252.4" y="1504.64" width="43.4" height="14.93" fill="#a4cbe2"/>
<rect x="295.8" y="1504.64" width="43.4" height="14.93" fill="#add1e5"/>
<rect x="339.2" y="1504.64" width="43.4" height="14.93" fill="#fff8b5"/>
<rect x="122.2" y="1519.57" width="43.4" height="14.93" fill="#fff1aa"/>
<rect x="165.6" y="1519.57" width="43.4" height="14.93" fill="#fee090"/>
<rect x="209" y="1519.57" width="43.4" height="14.93" fill="#dc3d2e"/>
<rect x="252.4" y="1519.57" width="43.4" height="14.93" fill="#beddec"/>
<rect x="295.8" y="1519.57" width="43.4" height="14.93" fill="#beddec"/>
<rect x="339.2" y="1519.57" width="43.4" height="14.93" fill="#c7e2ef"/>
<rect x="122.2" y="1534.5" width="43.4" height="14.93" fill="#fca166"/>
<rect x="165.6" y="1534.5" width="43.4" height="14.93" fill="#fca166"/>
<rect x="209" y="1534.5" width="43.4" height="14.93" fill="#fca166"/>
<rect x="252.4" y="1534.5" width="43.4" height="14.93" fill="#a4cbe2"/>
<rect x="295.8" y="1534.5" width="43.4" height="14.93" fill="#e2f4f4"/>
<rect x="339.2" y="1534.5" width="43.4" height="14.93" fill="#a4cbe2"/>
<rect x="122.2" y="1549.43" width="43.4" height="14.93" fill="#fca166"/>
<rect x="165.6" y="1549.43" width="43.4" height="14.93" fill="#fca166"/>
<rect x="209" y="1549.43" width="43.4" height="14.93" fill="#fca166"/>
<rect x="252.4" y="1549.43" width="43.4" height="14.93" fill="#a4cbe2"/>
<rect x="295.8" y="1549.43" width="43.4" height="14.93" fill="#beddec"/>
<rect x="339.2" y="1549.43" width="43.4" height="14.93" fill="#add1e5"/>
<rect x="122.2" y="1564.36" width="43.4" height="14.93" fill="#fca166"/>
<rect x="165.6" y="1564.36" width="43.4" height="14.93" fill="#fca166"/>
<rect x="209" y="1564.36" width="43.4" height="14.93" fill="#fca166"/>
<rect x="252.4" y="1564.36" width="43.4" height="14.93" fill="#add1e5"/>
<rect x="295.8" y="1564.36" width="43.4" height="14.93" fill="#cfe8f2"/>
<rect x="339.2" y="1564.36" width="43.4" height="14.93" fill="#93c0dc"/>
<rect x="122.2" y="1579.29" width="43.4" height="14.93" fill="#fc9860"/>
<rect x="165.6" y="1579.29" width="43.4" height="14.93" fill="#fdaa6c"/>
<rect x="209" y="1579.29" width="43.4" height="14.93" fill="#fdaa6c"/>
<rect x="252.4" y="1579.29" width="43.4" height="14.93" fill="#beddec"/>
<rect x="295.8" y="1579.29" width="43.4" height="14.93" fill="#a4cbe2"/>
<rect x="339.2" y="1579.29" width="43.4" height="14.93" fill="#c7e2ef"/>
<rect x="122.2" y="1594.22" width="43.4" height="14.93" fill="#fca166"/>
<rect x="165.6" y="1594.22" width="43.4" height="14.93" fill="#fdaa6c"/>
<rect x="209" y="1594.22" width="43.4" height="14.93" fill="#fdaa6c"/>
<rect x="252.4" y="1594.22" width="43.4" height="14.93" fill="#cfe8f2"/>
<rect x="295.8" y="1594.22" width="43.4" height="14.93" fill="#a4cbe2"/>
<rect x="339.2" y="1594.22" width="43.4" height="14.93" fill="#beddec"/>
<rect x="122.2" y="1609.15" width="43.4" height="14.93" fill="#fc9860"/>
<rect x="165.6" y="1609.15" width="43.4" height="14.93" fill="#fdaa6c"/>
<rect x="209" y="1609.15" width="43.4" height="14.93" fill="#fdb372"/>
<rect x="252.4" y="1609.15" width="43.4" height="14.93" fill="#c7e2ef"/>
<rect x="295.8" y="1609.15" width="43.4" height="14.93" fill="#add1e5"/>
<rect x="339.2" y="1609.15" width="43.4" height="14.93" fill="#a4cbe2"/>
<rect x="122.2" y="1624.08" width="43.4" height="14.93" fill="#fc8f5a"/>
<rect x="165.6" y="1624.08" width="43.4" height="14.93" fill="#fdaa6c"/>
<rect x="209" y="1624.08" width="43.4" height="14.93" fill="#fdaa6c"/>
<rect x="252.4" y="1624.08" width="43.4" height="14.93" fill="#b5d7e8"/>
<rect x="295.8" y="1624.08" width="43.4" height="14.93" fill="#b5d7e8"/>
<rect x="339.2" y="1624.08" width="43.4" height="14.93" fill="#a4cbe2"/>
<rect x="122.2" y="1639.01" width="43.4" height="14.93" fill="#f98554"/>
<rect x="165.6" y="1639.01" width="43.4" height="14.93" fill="#fdaa6c"/>
<rect x="209" y="1639.01" width="43.4" height="14.93" fill="#fdaa6c"/>
<rect x="252.4" y="1639.01" width="43.4" height="14.93" fill="#c7e2ef"/>
<rect x="295.8" y="1639.01" width="43.4" height="14.93" fill="#b5d7e8"/>
<rect x="339.2" y="1639.01" width="43.4" height="14.93" fill="#93c0dc"/>
<rect x="122.2" y="1653.94" width="43.4" height="14.93" fill="#fca166"/>
<rect x="165.6" y="1653.94" width="43.4" height="14.93" fill="#fca166"/>
<rect x="209" y="1653.94" width="43.4" height="14.93" fill="#fc8f5a"/>
<rect x="252.4" y="1653.94" width="43.4" height="14.93" fill="#9bc6df"/>
<rect x="295.8" y="1653.94" width="43.4" height="14.93" fill="#9bc6df"/>
<rect x="339.2" y="1653.94" width="43.4" height="14.93" fill="#e0f3f7"/>
<rect x="122.2" y="1668.87" width="43.4" height="14.93" fill="#fca166"/>
<rect x="165.6" y="1668.87" width="43.4" height="14.93" fill="#fc9860"/>
<rect x="209" y="1668.87" width="43.4" height="14.93" fill="#fc8f5a"/>
<rect x="252.4" y="1668.87" width="43.4" height="14.93" fill="#a4cbe2"/>
<rect x="295.8" y="1668.87" width="43.4" height="14.93" fill="#add1e5"/>
<rect x="339.2" y="1668.87" width="43.4" height="14.93" fill="#c7e2ef"/>
<rect x="122.2" y="1683.8" width="43.4" height="14.93" fill="#fc9860"/>
<rect x="165.6" y="1683.8" width="43.4" height="14.93" fill="#fc8f5a"/>
<rect x="209" y="1683.8" width="43.4" height="14.93" fill="#fca166"/>
<rect x="252.4" y="1683.8" width="43.4" height="14.93" fill="#93c0dc"/>
<rect x="295.8" y="1683.8" width="43.4" height="14.93" fill="#beddec"/>
<rect x="339.2" y="1683.8" width="43.4" height="14.93" fill="#c7e2ef"/>
<rect x="122.2" y="1698.73" width="43.4" height="14.93" fill="#fc9860"/>
<rect x="165.6" y="1698.73" width="43.4" height="14.93" fill="#fc8f5a"/>
<rect x="209" y="1698.73" width="43.4" height="14.93" fill="#fdaa6c"/>
<rect x="252.4" y="1698.73" width="43.4" height="14.93" fill="#a4cbe2"/>
<rect x="295.8" y="1698.73" width="43.4" height="14.93" fill="#beddec"/>
<rect x="339.2" y="1698.73" width="43.4" height="14.93" fill="#beddec"/>
<rect x="122.2" y="1713.66" width="43.4" height="14.93" fill="#f57a4f"/>
<rect x="165.6" y="1713.66" width="43.4" height="14.93" fill="#fdaa6c"/>
<rect x="209" y="1713.66" width="43.4" height="14.93" fill="#fee79b"/>
<rect x="252.4" y="1713.66" width="43.4" height="14.93" fill="#6090c2"/>
<rect x="295.8" y="1713.66" width="43.4" height="14.93" fill="#e4f4f1"/>
<rect x="339.2" y="1713.66" width="43.4" height="14.93" fill="#f5fbd2"/>
<rect x="122.2" y="1728.59" width="43.4" height="14.93" fill="#f17049"/>
<rect x="165.6" y="1728.59" width="43.4" height="14.93" fill="#fee79b"/>
<rect x="209" y="1728.59" width="43.4" height="14.93" fill="#fc9860"/>
<rect x="252.4" y="1728.59" width="43.4" height="14.93" fill="#a4cbe2"/>
<rect x="295.8" y="1728.59" width="43.4" height="14.93" fill="#9bc6df"/>
<rect x="339.2" y="1728.59" width="43.4" height="14.93" fill="#e0f3f7"/>
<rect x="122.2" y="1743.52" width="43.4" height="14.93" fill="#dc3d2e"/>
<rect x="165.6" y="1743.52" width="43.4" height="14.93" fill="#fee496"/>
<rect x="209" y="1743.52" width="43.4" height="14.93" fill="#fed88b"/>
<rect x="252.4" y="1743.52" width="43.4" height="14.93" fill="#a4cbe2"/>
<rect x="295.8" y="1743.52" width="43.4" height="14.93" fill="#9bc6df"/>
<rect x="339.2" y="1743.52" width="43.4" height="14.93" fill="#ebf7e5"/>
<rect x="122.2" y="1758.45" width="43.4" height="14.93" fill="#d73027"/>
<rect x="165.6" y="1758.45" width="43.4" height="14.93" fill="#f5fbd2"/>
<rect x="209" y="1758.45" width="43.4" height="14.93" fill="#9bc6df"/>
<rect x="252.4" y="1758.45" width="43.4" height="14.93" fill="#b5d7e8"/>
<rect x="295.8" y="1758.45" width="43.4" height="14.93" fill="#fee79b"/>
<rect x="339.2" y="1758.45" width="43.4" height="14.93" fill="#fee496"/>
<rect x="122.2" y="1773.38" width="43.4" height="14.93" fill="#fdbc78"/>
<rect x="165.6" y="1773.38" width="43.4" height="14.93" fill="#9bc6df"/>
<rect x="209" y="1773.38" width="43.4" height="14.93" fill="#9bc6df"/>
<rect x="252.4" y="1773.38" width="43.4" height="14.93" fill="#f57a4f"/>
<rect x="295.8" y="1773.38" width="43.4" height="14.93" fill="#fdbc78"/>
<rect x="339.2" y="1773.38" width="43.4" height="14.93" fill="#e0f3f7"/>
<rect x="122.2" y="1788.31" width="43.4" height="14.93" fill="#fdbc78"/>
<rect x="165.6" y="1788.31" width="43.4" height="14.93" fill="#fcfec5"/>
<rect x="209" y="1788.31" width="43.4" height="14.93" fill="#fcfec5"/>
<rect x="252.4" y="1788.31" width="43.4" height="14.93" fill="#dc3d2e"/>
<rect x="295.8" y="1788.31" width="43.4" height="14.93" fill="#eef8de"/>
<rect x="339.2" y="1788.31" width="43.4" height="14.93" fill="#6998c6"/>
<rect x="122.2" y="1803.24" width="43.4" height="14.93" fill="#fdbc78"/>
<rect x="165.6" y="1803.24" width="43.4" height="14.93" fill="#f8fccc"/>
<rect x="209" y="1803.24" width="43.4" height="14.93" fill="#f8fccc"/>
<rect x="252.4" y="1803.24" width="43.4" height="14.93" fill="#d83328"/>
<rect x="295.8" y="1803.24" width="43.4" height="14.93" fill="#f1fad8"/>
<rect x="339.2" y="1803.24" width="43.4" height="14.93" fill="#71a0cb"/>
<path d="M122.2 1235.9H382.6M122.2 1250.83H382.6M122.2 1265.76H382.6M122.2 1280.69H382.6M122.2 1295.62H382.6M122.2 1310.55H382.6M122.2 1325.48H382.6M122.2 1340.41H382.6M122.2 1355.34H382.6M122.2 1370.27H382.6M122.2 1385.2H382.6M122.2 1400.13H382.6M122.2 1415.06H382.6M122.2 1429.99H382.6M122.2 1444.92H382.6M122.2 1459.85H382.6M122.2 1474.78H382.6M122.2 1489.71H382.6M122.2 1504.64H382.6M122.2 1519.57H382.6M122.2 1534.5H382.6M122.2 1549.43H382.6M122.2 1564.36H382.6M122.2 1579.29H382.6M122.2 1594.22H382.6M122.2 1609.15H382.6M122.2 1624.08H382.6M122.2 1639.01H382.6M122.2 1653.94H382.6M122.2 1668.87H382.6M122.2 1683.8H382.6M122.2 1698.73H382.6M122.2 1713.66H382.6M122.2 1728.59H382.6M122.2 1743.52H382.6M122.2 1758.45H382.6M122.2 1773.38H382.6M122.2 1788.31H382.6M122.2 1803.24H382.6M122.2 1818.17H382.6M122.2 1235.9V1818.17M165.6 1235.9V1818.17M209 1235.9V1818.17M252.4 1235.9V1818.17M295.8 1235.9V1818.17M339.2 1235.9V1818.17M382.6 1235.9V1818.17" stroke="#8c8c8c" stroke-width="1" fill="none"/>
<text x="386.8" y="1249.27" font-size="17">CCNG1</text>
<text x="386.8" y="1264.2" font-size="17">SERTAD1</text>
<text x="386.8" y="1279.13" font-size="17">CDKN1A</text>
<text x="386.8" y="1294.06" font-size="17">CCNE1</text>
<text x="386.8" y="1308.99" font-size="17">CCND1</text>
<text x="386.8" y="1323.92" font-size="17">CDK5RAP1</text>
<text x="386.8" y="1338.85" font-size="17">CDK7</text>
<text x="386.8" y="1353.78" font-size="17">CDKN1B</text>
<text x="386.8" y="1368.71" font-size="17">E2F2</text>
<text x="386.8" y="1383.64" font-size="17">CDKN2B</text>
<text x="386.8" y="1398.57" font-size="17">PCNA</text>
<text x="386.8" y="1413.5" font-size="17">CDKN2A</text>
<text x="386.8" y="1428.43" font-size="17">CKS2</text>
<text x="386.8" y="1443.36" font-size="17">CCNH</text>
<text x="386.8" y="1458.29" font-size="17">RB1</text>
<text x="386.8" y="1473.22" font-size="17">CHEK1</text>
<text x="386.8" y="1488.15" font-size="17">CDK6</text>
<text x="386.8" y="1503.08" font-size="17">CCNT1</text>
<text x="386.8" y="1518.01" font-size="17">TP63</text>
<text x="386.8" y="1532.94" font-size="17">PTEN</text>
<text x="386.8" y="1547.87" font-size="17">CKS1B</text>
<text x="386.8" y="1562.8" font-size="17">CDKN1C</text>
<text x="386.8" y="1577.73" font-size="17">CCNA2</text>
<text x="386.8" y="1592.66" font-size="17">BIRC5</text>
<text x="386.8" y="1607.59" font-size="17">GTSE1</text>
<text x="386.8" y="1622.52" font-size="17">CDKN3</text>
<text x="386.8" y="1637.45" font-size="17">E2F1</text>
<text x="386.8" y="1652.38" font-size="17">CDC25A</text>
<text x="386.8" y="1667.31" font-size="17">CDKN2C</text>
<text x="386.8" y="1682.24" font-size="17">CCNB1</text>
<text x="386.8" y="1697.17" font-size="17">CDK1</text>
<text x="386.8" y="1712.1" font-size="17">MNAT1</text>
<text x="386.8" y="1727.03" font-size="17">CDKN2D</text>
<text x="386.8" y="1741.96" font-size="17">CHEK2</text>
<text x="386.8" y="1756.89" font-size="17">ANAPC2</text>
<text x="386.8" y="1771.82" font-size="17">BCCIP</text>
<text x="386.8" y="1786.75" font-size="17">KRAS</text>
<text x="386.8" y="1801.68" font-size="17">TP73</text>
<text x="386.8" y="1816.61" font-size="17">KPNA2</text>
<path d="M474.7 1235.6H486.5V1819.6H474.7M474.7 1367.3H486.5M474.7 1758.7H486.5" stroke="#111" stroke-width="1.6" fill="none"/>
<text x="498.64" y="1270.66" font-size="18.5" transform="rotate(90 498.64 1270.66)">Class 1</text>
<text x="498.64" y="1522.86" font-size="18.5" transform="rotate(90 498.64 1522.86)">Class 2</text>
<text x="498.64" y="1758.46" font-size="18.5" transform="rotate(90 498.64 1758.46)">Class 3</text>
<defs><linearGradient id="cbD" x1="0" y1="0" x2="1" y2="0"><stop offset="0" stop-color="#d73027"/><stop offset="0.17" stop-color="#fc8d59"/><stop offset="0.33" stop-color="#fee090"/><stop offset="0.5" stop-color="#ffffbf"/><stop offset="0.67" stop-color="#e0f3f8"/><stop offset="0.83" stop-color="#91bfdb"/><stop offset="1" stop-color="#4575b4"/></linearGradient></defs>
<rect x="381.5" y="1219" width="105.2" height="6.2" fill="url(#cbD)"/>
<text x="394.82" y="1215.5" font-size="12.5" transform="rotate(-90 394.82 1215.5)">1.5</text>
<text x="409.43" y="1215.5" font-size="12.5" transform="rotate(-90 409.43 1215.5)">1</text>
<text x="424.43" y="1215.5" font-size="12.5" transform="rotate(-90 424.43 1215.5)">0.5</text>
<text x="438.23" y="1215.5" font-size="12.5" transform="rotate(-90 438.23 1215.5)">0</text>
<text x="453.73" y="1215.5" font-size="12.5" transform="rotate(-90 453.73 1215.5)">-0.5</text>
<text x="468.32" y="1215.5" font-size="12.5" transform="rotate(-90 468.32 1215.5)">-1</text>
<text x="483.32" y="1215.5" font-size="12.5" transform="rotate(-90 483.32 1215.5)">-1.5</text>
<path d="M187.3 1235.9V1224.5H230.7V1235.9M143.9 1235.9V1213.9H209V1224.5M317.5 1235.9V1221.7H360.9V1235.9M274.1 1235.9V1213.9H339.2V1221.7M176.45 1213.9V1193.7H306.65V1213.9" stroke="#222" stroke-width="1.3" fill="none"/>
<path d="M122.2 1258.3H119.5V1273.23H122.2M119.5 1265.76H117V1288.16H122.2M122.2 1303.09H117V1318.02H122.2M117 1276.96H111.6V1310.55H117M122.2 1243.37H105.5V1293.75H111.6M122.2 1347.88H106.7V1362.81H122.2M122.2 1332.95H104.9V1355.34H106.7M105.5 1268.56H87.8V1344.14H104.9M122.2 1422.53H120V1437.46H122.2M122.2 1407.6H118V1429.99H120M122.2 1392.66H114.6V1418.79H118M122.2 1482.25H121V1497.18H122.2M122.2 1467.32H119V1489.71H121M122.2 1452.38H113.4V1478.51H119M114.6 1405.73H107.3V1465.45H113.4M122.2 1512.11H111.6V1527.04H122.2M122.2 1541.97H121.5V1556.89H122.2M121.5 1549.43H120.5V1571.83H122.2M120.5 1560.63H121V1586.76H122.2M121 1573.69H119.5V1601.68H122.2M122.2 1616.62H121.5V1631.55H122.2M121.5 1624.08H121V1646.48H122.2M121 1635.28H120.5V1661.41H122.2M120.5 1648.34H121.2V1676.34H122.2M121.2 1662.34H119.8V1691.27H122.2M119.8 1676.8H120.8V1706.2H122.2M119.5 1587.69H117.5V1691.5H120.8M122.2 1736.06H118.5V1750.99H122.2M122.2 1721.12H114V1743.52H118.5M117.5 1639.59H111.6V1732.32H114M111.6 1519.57H106.1V1685.96H111.6M107.3 1435.59H100.7V1602.76H106.1M122.2 1377.74H92.3V1519.18H100.7M122.2 1795.78H120V1810.7H122.2M122.2 1780.85H104.9V1803.24H120M122.2 1765.91H91.4V1792.04H104.9M92.3 1448.46H85.1V1778.98H91.4M87.8 1306.35H79.6V1613.72H85.1" stroke="#222" stroke-width="1.3" fill="none"/>
<text x="134.61" y="1823.6" font-size="18" font-weight="bold" transform="rotate(90 134.61 1823.6)">Scr1</text>
<text x="180.11" y="1823.6" font-size="18" font-weight="bold" transform="rotate(90 180.11 1823.6)">Scr2</text>
<text x="223.21" y="1823.6" font-size="18" font-weight="bold" transform="rotate(90 223.21 1823.6)">Scr3</text>
<text x="267.11" y="1823.6" font-size="18" font-weight="bold" transform="rotate(90 267.11 1823.6)">KD1</text>
<text x="309.21" y="1823.6" font-size="18" font-weight="bold" transform="rotate(90 309.21 1823.6)">KD2</text>
<text x="353.01" y="1823.6" font-size="18" font-weight="bold" transform="rotate(90 353.01 1823.6)">KD3</text>
<text x="565.2" y="1157" font-size="40.5" font-weight="bold">E</text>
<rect x="680.8" y="1355.18" width="5" height="43.72" fill="#000"/>
<rect x="687.4" y="1394.61" width="5" height="4.29" fill="#ff0000"/>
<rect x="694" y="1394.61" width="5" height="4.29" fill="#0000ff"/>
<rect x="704.73" y="1356.03" width="5" height="42.87" fill="#000"/>
<rect x="711.33" y="1343.17" width="5" height="55.73" fill="#ff0000"/>
<rect x="717.93" y="1347.03" width="5" height="51.87" fill="#0000ff"/>
<rect x="728.66" y="1356.03" width="5" height="42.87" fill="#000"/>
<rect x="735.26" y="1334.17" width="5" height="64.73" fill="#ff0000"/>
<rect x="741.86" y="1327.74" width="5" height="71.16" fill="#0000ff"/>
<rect x="752.59" y="1356.03" width="5" height="42.87" fill="#000"/>
<rect x="759.19" y="1270.3" width="5" height="128.6" fill="#ff0000"/>
<rect x="759.19" y="1219.59" width="5" height="37.41" fill="#ff0000"/>
<rect x="765.79" y="1270.3" width="5" height="128.6" fill="#0000ff"/>
<rect x="765.79" y="1216.9" width="5" height="40.1" fill="#0000ff"/>
<rect x="776.52" y="1356.03" width="5" height="42.87" fill="#000"/>
<rect x="783.12" y="1328.6" width="5" height="70.3" fill="#ff0000"/>
<rect x="789.72" y="1329.03" width="5" height="69.87" fill="#0000ff"/>
<rect x="800.45" y="1355.18" width="5" height="43.72" fill="#000"/>
<rect x="807.05" y="1348.32" width="5" height="50.58" fill="#ff0000"/>
<rect x="813.65" y="1353.89" width="5" height="45.01" fill="#0000ff"/>
<rect x="824.38" y="1356.03" width="5" height="42.87" fill="#000"/>
<rect x="830.98" y="1358.61" width="5" height="40.29" fill="#ff0000"/>
<rect x="837.58" y="1359.03" width="5" height="39.87" fill="#0000ff"/>
<rect x="848.31" y="1355.18" width="5" height="43.72" fill="#000"/>
<rect x="854.91" y="1341.46" width="5" height="57.44" fill="#ff0000"/>
<rect x="861.51" y="1347.46" width="5" height="51.44" fill="#0000ff"/>
<rect x="872.24" y="1356.03" width="5" height="42.87" fill="#000"/>
<rect x="878.84" y="1349.6" width="5" height="49.3" fill="#ff0000"/>
<rect x="885.44" y="1357.32" width="5" height="41.58" fill="#0000ff"/>
<rect x="896.17" y="1355.18" width="5" height="43.72" fill="#000"/>
<rect x="902.77" y="1381.32" width="5" height="17.58" fill="#ff0000"/>
<rect x="909.37" y="1382.61" width="5" height="16.29" fill="#0000ff"/>
<rect x="920.1" y="1356.03" width="5" height="42.87" fill="#000"/>
<rect x="926.7" y="1343.17" width="5" height="55.73" fill="#ff0000"/>
<rect x="933.3" y="1349.6" width="5" height="49.3" fill="#0000ff"/>
<rect x="944.03" y="1354.75" width="5" height="44.15" fill="#000"/>
<rect x="950.63" y="1370.18" width="5" height="28.72" fill="#ff0000"/>
<rect x="957.23" y="1369.32" width="5" height="29.58" fill="#0000ff"/>
<rect x="967.96" y="1356.03" width="5" height="42.87" fill="#000"/>
<rect x="974.56" y="1349.6" width="5" height="49.3" fill="#ff0000"/>
<rect x="981.16" y="1336.74" width="5" height="62.16" fill="#0000ff"/>
<rect x="991.89" y="1356.03" width="5" height="42.87" fill="#000"/>
<rect x="998.49" y="1391.61" width="5" height="7.29" fill="#ff0000"/>
<rect x="1005.09" y="1391.61" width="5" height="7.29" fill="#0000ff"/>
<rect x="1015.82" y="1356.03" width="5" height="42.87" fill="#000"/>
<rect x="1022.42" y="1369.32" width="5" height="29.58" fill="#ff0000"/>
<rect x="1029.02" y="1367.61" width="5" height="31.29" fill="#0000ff"/>
<rect x="1039.75" y="1354.75" width="5" height="44.15" fill="#000"/>
<rect x="1046.35" y="1370.18" width="5" height="28.72" fill="#ff0000"/>
<rect x="1052.95" y="1371.47" width="5" height="27.43" fill="#0000ff"/>
<rect x="1063.68" y="1354.75" width="5" height="44.15" fill="#000"/>
<rect x="1070.28" y="1329.46" width="5" height="69.44" fill="#ff0000"/>
<rect x="1076.88" y="1340.6" width="5" height="58.3" fill="#0000ff"/>
<rect x="1087.61" y="1354.75" width="5" height="44.15" fill="#000"/>
<rect x="1094.21" y="1343.17" width="5" height="55.73" fill="#ff0000"/>
<rect x="1100.81" y="1339.32" width="5" height="59.58" fill="#0000ff"/>
<rect x="1111.54" y="1356.03" width="5" height="42.87" fill="#000"/>
<rect x="1118.14" y="1381.32" width="5" height="17.58" fill="#ff0000"/>
<rect x="1124.74" y="1379.18" width="5" height="19.72" fill="#0000ff"/>
<rect x="1135.47" y="1356.03" width="5" height="42.87" fill="#000"/>
<rect x="1142.07" y="1380.04" width="5" height="18.86" fill="#ff0000"/>
<rect x="1148.67" y="1374.04" width="5" height="24.86" fill="#0000ff"/>
<rect x="1159.4" y="1353.89" width="5" height="45.01" fill="#000"/>
<rect x="1166" y="1373.61" width="5" height="25.29" fill="#ff0000"/>
<rect x="1172.6" y="1371.47" width="5" height="27.43" fill="#0000ff"/>
<rect x="1183.33" y="1356.03" width="5" height="42.87" fill="#000"/>
<rect x="1189.93" y="1369.32" width="5" height="29.58" fill="#ff0000"/>
<rect x="1196.53" y="1372.32" width="5" height="26.58" fill="#0000ff"/>
<rect x="1207.26" y="1356.03" width="5" height="42.87" fill="#000"/>
<rect x="1213.86" y="1365.46" width="5" height="33.44" fill="#ff0000"/>
<rect x="1220.46" y="1365.46" width="5" height="33.44" fill="#0000ff"/>
<rect x="1231.19" y="1353.89" width="5" height="45.01" fill="#000"/>
<rect x="1237.79" y="1375.75" width="5" height="23.15" fill="#ff0000"/>
<rect x="1244.39" y="1374.89" width="5" height="24.01" fill="#0000ff"/>
<rect x="1255.12" y="1353.89" width="5" height="45.01" fill="#000"/>
<rect x="1261.72" y="1366.75" width="5" height="32.15" fill="#ff0000"/>
<rect x="1268.32" y="1366.75" width="5" height="32.15" fill="#0000ff"/>
<rect x="1279.05" y="1354.75" width="5" height="44.15" fill="#000"/>
<rect x="1285.65" y="1339.74" width="5" height="59.16" fill="#ff0000"/>
<rect x="1292.25" y="1339.74" width="5" height="59.16" fill="#0000ff"/>
<rect x="1302.98" y="1352.18" width="5" height="46.72" fill="#000"/>
<rect x="1309.58" y="1362.03" width="5" height="36.87" fill="#ff0000"/>
<rect x="1316.18" y="1357.75" width="5" height="41.15" fill="#0000ff"/>
<rect x="1326.91" y="1355.18" width="5" height="43.72" fill="#000"/>
<rect x="1333.51" y="1323.03" width="5" height="75.87" fill="#ff0000"/>
<rect x="1340.11" y="1340.6" width="5" height="58.3" fill="#0000ff"/>
<rect x="1350.84" y="1354.75" width="5" height="44.15" fill="#000"/>
<rect x="1357.44" y="1368.04" width="5" height="30.86" fill="#ff0000"/>
<rect x="1364.04" y="1377.04" width="5" height="21.86" fill="#0000ff"/>
<rect x="1374.77" y="1350.89" width="5" height="48.01" fill="#000"/>
<rect x="1381.37" y="1348.32" width="5" height="50.58" fill="#ff0000"/>
<rect x="1387.97" y="1337.6" width="5" height="61.3" fill="#0000ff"/>
<rect x="1398.7" y="1355.18" width="5" height="43.72" fill="#000"/>
<rect x="1405.3" y="1343.6" width="5" height="55.3" fill="#ff0000"/>
<rect x="1411.9" y="1343.6" width="5" height="55.3" fill="#0000ff"/>
<rect x="1422.63" y="1355.18" width="5" height="43.72" fill="#000"/>
<rect x="1429.23" y="1371.47" width="5" height="27.43" fill="#ff0000"/>
<rect x="1435.83" y="1368.04" width="5" height="30.86" fill="#0000ff"/>
<path d="M683.3 1355.18V1353.46M689.9 1394.61V1393.76M696.5 1394.61V1393.76M707.23 1356.03V1349.6M713.83 1343.17V1336.31M720.43 1347.03V1333.74M731.16 1356.03V1351.75M737.76 1334.17V1324.74M744.36 1327.74V1305.88M755.09 1356.03V1349.6M761.69 1219.59V1210.33M768.29 1216.9V1208.13M779.02 1356.03V1353.46M785.62 1328.6V1313.6M792.22 1329.03V1318.74M802.95 1355.18V1353.89M809.55 1348.32V1343.6M816.15 1353.89V1348.32M826.88 1356.03V1347.46M833.48 1358.61V1355.18M840.08 1359.03V1351.75M850.81 1355.18V1340.6M857.41 1341.46V1336.74M864.01 1347.46V1337.6M874.74 1356.03V1349.6M881.34 1349.6V1346.17M887.94 1357.32V1353.03M898.67 1355.18V1354.32M905.27 1381.32V1376.18M911.87 1382.61V1376.18M922.6 1356.03V1349.17M929.2 1343.17V1335.03M935.8 1349.6V1343.6M946.53 1354.75V1353.89M953.13 1370.18V1369.32M959.73 1369.32V1367.61M970.46 1356.03V1348.75M977.06 1349.6V1342.32M983.66 1336.74V1329.46M994.39 1356.03V1355.18M1000.99 1391.61V1389.04M1007.59 1391.61V1390.76M1018.32 1356.03V1349.17M1024.92 1369.32V1368.46M1031.52 1367.61V1364.61M1042.25 1354.75V1353.89M1048.85 1370.18V1369.32M1055.45 1371.47V1366.32M1066.18 1354.75V1351.75M1072.78 1329.46V1321.31M1079.38 1340.6V1335.46M1090.11 1354.75V1349.6M1096.71 1343.17V1336.31M1103.31 1339.32V1329.46M1114.04 1356.03V1347.46M1120.64 1381.32V1380.47M1127.24 1379.18V1376.61M1137.97 1356.03V1355.18M1144.57 1380.04V1374.04M1151.17 1374.04V1368.04M1161.9 1353.89V1352.18M1168.5 1373.61V1369.32M1175.1 1371.47V1369.75M1185.83 1356.03V1355.18M1192.43 1369.32V1362.89M1199.03 1372.32V1371.47M1209.76 1356.03V1355.18M1216.36 1365.46V1364.61M1222.96 1365.46V1362.46M1233.69 1353.89V1350.89M1240.29 1375.75V1372.32M1246.89 1374.89V1369.75M1257.62 1353.89V1350.46M1264.22 1366.75V1362.03M1270.82 1366.75V1365.89M1281.55 1354.75V1351.32M1288.15 1339.74V1333.31M1294.75 1339.74V1332.46M1305.48 1352.18V1348.32M1312.08 1362.03V1345.32M1318.68 1357.75V1347.89M1329.41 1355.18V1353.46M1336.01 1323.03V1311.45M1342.61 1340.6V1328.6M1353.34 1354.75V1353.03M1359.94 1368.04V1365.04M1366.54 1377.04V1375.75M1377.27 1350.89V1347.89M1383.87 1348.32V1345.32M1390.47 1337.6V1328.6M1401.2 1355.18V1354.32M1407.8 1343.6V1341.46M1414.4 1343.6V1341.46M1425.13 1355.18V1353.03M1431.73 1371.47V1365.04M1438.33 1368.04V1366.75" stroke="#000" stroke-width="1.6" fill="none"/>
<line x1="678.7" y1="1189.6" x2="678.7" y2="1257" stroke="#000" stroke-width="3.5"/>
<line x1="678.7" y1="1270.3" x2="678.7" y2="1400.65" stroke="#000" stroke-width="3.5"/>
<line x1="676.95" y1="1398.9" x2="1449.5" y2="1398.9" stroke="#000" stroke-width="3.5"/>
<path d="M672.4 1189.6H680.7M672.4 1257H683M672.4 1270.3H683M672.4 1223.3H678.7M672.4 1313.17H678.7M672.4 1356.03H678.7M674.9 1291.73H678.7M674.9 1334.6H678.7M674.9 1377.47H678.7" stroke="#000" stroke-width="2.4" fill="none"/>
<text x="669.6" y="1198.3" font-size="18.2" font-weight="bold" text-anchor="end" textLength="10.53" lengthAdjust="spacingAndGlyphs">8</text>
<text x="669.6" y="1231.3" font-size="18.2" font-weight="bold" text-anchor="end" textLength="10.53" lengthAdjust="spacingAndGlyphs">6</text>
<text x="669.6" y="1262.8" font-size="18.2" font-weight="bold" text-anchor="end" textLength="10.53" lengthAdjust="spacingAndGlyphs">4</text>
<text x="669.6" y="1277.8" font-size="18.2" font-weight="bold" text-anchor="end" textLength="10.53" lengthAdjust="spacingAndGlyphs">3</text>
<text x="669.6" y="1321.2" font-size="18.2" font-weight="bold" text-anchor="end" textLength="10.53" lengthAdjust="spacingAndGlyphs">2</text>
<text x="669.6" y="1363.2" font-size="18.2" font-weight="bold" text-anchor="end" textLength="10.53" lengthAdjust="spacingAndGlyphs">1</text>
<text x="669.6" y="1406.7" font-size="18.2" font-weight="bold" text-anchor="end" textLength="10.53" lengthAdjust="spacingAndGlyphs">0</text>
<text x="696.41" y="1405.9" font-size="19.5" text-anchor="end" transform="rotate(-90 696.41 1405.9)">EZH2</text>
<text x="720.34" y="1405.9" font-size="19.5" text-anchor="end" transform="rotate(-90 720.34 1405.9)">CCNG1</text>
<text x="744.27" y="1405.9" font-size="19.5" text-anchor="end" transform="rotate(-90 744.27 1405.9)">SERTAD1</text>
<text x="768.2" y="1405.9" font-size="19.5" text-anchor="end" transform="rotate(-90 768.2 1405.9)">CDKN1A</text>
<text x="792.13" y="1405.9" font-size="19.5" text-anchor="end" transform="rotate(-90 792.13 1405.9)">CCNE1</text>
<text x="816.06" y="1405.9" font-size="19.5" text-anchor="end" transform="rotate(-90 816.06 1405.9)">CCND1</text>
<text x="839.99" y="1405.9" font-size="19.5" text-anchor="end" transform="rotate(-90 839.99 1405.9)">CDK5RAP1</text>
<text x="863.92" y="1405.9" font-size="19.5" text-anchor="end" transform="rotate(-90 863.92 1405.9)">CDK7</text>
<text x="887.85" y="1405.9" font-size="19.5" text-anchor="end" transform="rotate(-90 887.85 1405.9)">CDNK1B</text>
<text x="911.78" y="1405.9" font-size="19.5" text-anchor="end" transform="rotate(-90 911.78 1405.9)">E2F2</text>
<text x="935.71" y="1405.9" font-size="19.5" text-anchor="end" transform="rotate(-90 935.71 1405.9)">CDKN2B</text>
<text x="959.64" y="1405.9" font-size="19.5" text-anchor="end" transform="rotate(-90 959.64 1405.9)">PCNA</text>
<text x="983.57" y="1405.9" font-size="19.5" text-anchor="end" transform="rotate(-90 983.57 1405.9)">CDKN2A</text>
<text x="1007.5" y="1405.9" font-size="19.5" text-anchor="end" transform="rotate(-90 1007.5 1405.9)">CDKN2C</text>
<text x="1031.43" y="1405.9" font-size="19.5" text-anchor="end" transform="rotate(-90 1031.43 1405.9)">CDKN2D</text>
<text x="1055.36" y="1405.9" font-size="19.5" text-anchor="end" transform="rotate(-90 1055.36 1405.9)">CDKN1C</text>
<text x="1079.29" y="1405.9" font-size="19.5" text-anchor="end" transform="rotate(-90 1079.29 1405.9)">TP53</text>
<text x="1103.22" y="1405.9" font-size="19.5" text-anchor="end" transform="rotate(-90 1103.22 1405.9)">TAp63</text>
<text x="1127.15" y="1405.9" font-size="19.5" text-anchor="end" transform="rotate(-90 1127.15 1405.9)">DeltaNp63</text>
<text x="1151.08" y="1405.9" font-size="19.5" text-anchor="end" transform="rotate(-90 1151.08 1405.9)">TP73</text>
<text x="1175.01" y="1405.9" font-size="19.5" text-anchor="end" transform="rotate(-90 1175.01 1405.9)">RB1</text>
<text x="1198.94" y="1405.9" font-size="19.5" text-anchor="end" transform="rotate(-90 1198.94 1405.9)">E2F1</text>
<text x="1222.87" y="1405.9" font-size="19.5" text-anchor="end" transform="rotate(-90 1222.87 1405.9)">PTEN</text>
<text x="1246.8" y="1405.9" font-size="19.5" text-anchor="end" transform="rotate(-90 1246.8 1405.9)">CDK1</text>
<text x="1270.73" y="1405.9" font-size="19.5" text-anchor="end" transform="rotate(-90 1270.73 1405.9)">CDK6</text>
<text x="1294.66" y="1405.9" font-size="19.5" text-anchor="end" transform="rotate(-90 1294.66 1405.9)">CCNB1</text>
<text x="1318.59" y="1405.9" font-size="19.5" text-anchor="end" transform="rotate(-90 1318.59 1405.9)">CCNB2</text>
<text x="1342.52" y="1405.9" font-size="19.5" text-anchor="end" transform="rotate(-90 1342.52 1405.9)">CCNC1</text>
<text x="1366.45" y="1405.9" font-size="19.5" text-anchor="end" transform="rotate(-90 1366.45 1405.9)">CCNF1</text>
<text x="1390.38" y="1405.9" font-size="19.5" text-anchor="end" transform="rotate(-90 1390.38 1405.9)">HOXA10</text>
<text x="1414.31" y="1405.9" font-size="19.5" text-anchor="end" transform="rotate(-90 1414.31 1405.9)">KRAS</text>
<text x="1438.24" y="1405.9" font-size="19.5" text-anchor="end" transform="rotate(-90 1438.24 1405.9)">CHEK2</text>
<path d="M689.7 1398.9V1404.3M713.63 1398.9V1404.3M737.56 1398.9V1404.3M761.49 1398.9V1404.3M785.42 1398.9V1404.3M809.35 1398.9V1404.3M833.28 1398.9V1404.3M857.21 1398.9V1404.3M881.14 1398.9V1404.3M905.07 1398.9V1404.3M929 1398.9V1404.3M952.93 1398.9V1404.3M976.86 1398.9V1404.3M1000.79 1398.9V1404.3M1024.72 1398.9V1404.3M1048.65 1398.9V1404.3M1072.58 1398.9V1404.3M1096.51 1398.9V1404.3M1120.44 1398.9V1404.3M1144.37 1398.9V1404.3M1168.3 1398.9V1404.3M1192.23 1398.9V1404.3M1216.16 1398.9V1404.3M1240.09 1398.9V1404.3M1264.02 1398.9V1404.3M1287.95 1398.9V1404.3M1311.88 1398.9V1404.3M1335.81 1398.9V1404.3M1359.74 1398.9V1404.3M1383.67 1398.9V1404.3M1407.6 1398.9V1404.3M1431.53 1398.9V1404.3" stroke="#000" stroke-width="2.2" fill="none"/>
<text x="647.88" y="1293.2" font-size="20" text-anchor="middle" textLength="235" lengthAdjust="spacingAndGlyphs" transform="rotate(-90 647.88 1293.2)">Relative mRNA expression</text>
<text x="1043" y="1178.3" font-size="21" font-weight="bold" textLength="35.1" lengthAdjust="spacingAndGlyphs">ISK</text>
<rect x="1365" y="1192.6" width="22.3" height="13.7" fill="#000"/>
<text x="1399.1" y="1205.8" font-size="19" font-weight="bold" textLength="30.33" lengthAdjust="spacingAndGlyphs">Scr</text>
<rect x="1365" y="1214.9" width="22.3" height="13.7" fill="#ff0000"/>
<text x="1399.1" y="1228.1" font-size="19" font-weight="bold" textLength="37.63" lengthAdjust="spacingAndGlyphs">KD1</text>
<rect x="1365" y="1237.2" width="22.3" height="13.7" fill="#0000ff"/>
<text x="1399.1" y="1250.4" font-size="19" font-weight="bold" textLength="37.63" lengthAdjust="spacingAndGlyphs">KD2</text>
<rect x="683.1" y="1346.6" width="13.1" height="3.8" fill="#000"/>
<text x="681.74" y="1351.74" font-size="24">*</text>
<text x="695.94" y="1351.74" font-size="24">*</text>
<rect x="752" y="1201" width="17" height="3.8" fill="#000"/>
<text x="740.44" y="1205.64" font-size="24">*</text>
<text x="754.24" y="1205.64" font-size="24">*</text>
<text x="767.94" y="1205.64" font-size="24">*</text>
<rect x="899.6" y="1346.6" width="16.9" height="3.8" fill="#000"/>
<text x="903.04" y="1349.44" font-size="24">*</text>
<rect x="993.8" y="1346.6" width="17.5" height="3.8" fill="#000"/>
<text x="992.14" y="1349.44" font-size="24">*</text>
<text x="1006.34" y="1349.44" font-size="24">*</text>
<rect x="1114.3" y="1339.4" width="15.7" height="3.8" fill="#000"/>
<text x="1117.64" y="1341.24" font-size="24">*</text>
<rect x="691.9" y="1716.63" width="5" height="32.67" fill="#000"/>
<rect x="698.4" y="1741.21" width="5" height="8.09" fill="#ff0000"/>
<rect x="704.9" y="1741.21" width="5" height="8.09" fill="#0000ff"/>
<rect x="715.47" y="1717.27" width="5" height="32.03" fill="#000"/>
<rect x="721.97" y="1695.6" width="5" height="53.7" fill="#ff0000"/>
<rect x="728.47" y="1695.6" width="5" height="53.7" fill="#0000ff"/>
<rect x="739.04" y="1715.66" width="5" height="33.64" fill="#000"/>
<rect x="745.54" y="1705.63" width="5" height="43.67" fill="#ff0000"/>
<rect x="752.04" y="1701.75" width="5" height="47.55" fill="#0000ff"/>
<rect x="762.61" y="1717.27" width="5" height="32.03" fill="#000"/>
<rect x="769.11" y="1619.9" width="5" height="129.4" fill="#ff0000"/>
<rect x="769.11" y="1571.36" width="5" height="35.74" fill="#ff0000"/>
<rect x="775.61" y="1619.9" width="5" height="129.4" fill="#0000ff"/>
<rect x="775.61" y="1565.93" width="5" height="41.17" fill="#0000ff"/>
<rect x="786.18" y="1717.27" width="5" height="32.03" fill="#000"/>
<rect x="792.68" y="1700.13" width="5" height="49.17" fill="#ff0000"/>
<rect x="799.18" y="1696.25" width="5" height="53.05" fill="#0000ff"/>
<rect x="809.75" y="1717.27" width="5" height="32.03" fill="#000"/>
<rect x="816.25" y="1703.04" width="5" height="46.26" fill="#ff0000"/>
<rect x="822.75" y="1703.04" width="5" height="46.26" fill="#0000ff"/>
<rect x="833.32" y="1717.27" width="5" height="32.03" fill="#000"/>
<rect x="839.82" y="1691.39" width="5" height="57.91" fill="#ff0000"/>
<rect x="846.32" y="1690.1" width="5" height="59.2" fill="#0000ff"/>
<rect x="856.89" y="1717.27" width="5" height="32.03" fill="#000"/>
<rect x="863.39" y="1691.39" width="5" height="57.91" fill="#ff0000"/>
<rect x="869.89" y="1691.39" width="5" height="57.91" fill="#0000ff"/>
<rect x="880.46" y="1716.63" width="5" height="32.67" fill="#000"/>
<rect x="886.96" y="1690.1" width="5" height="59.2" fill="#ff0000"/>
<rect x="893.46" y="1690.1" width="5" height="59.2" fill="#0000ff"/>
<rect x="904.03" y="1717.27" width="5" height="32.03" fill="#000"/>
<rect x="910.53" y="1734.74" width="5" height="14.56" fill="#ff0000"/>
<rect x="917.03" y="1730.21" width="5" height="19.09" fill="#0000ff"/>
<rect x="927.6" y="1716.63" width="5" height="32.67" fill="#000"/>
<rect x="934.1" y="1713.71" width="5" height="35.59" fill="#ff0000"/>
<rect x="940.6" y="1713.71" width="5" height="35.59" fill="#0000ff"/>
<rect x="951.17" y="1717.27" width="5" height="32.03" fill="#000"/>
<rect x="957.67" y="1691.39" width="5" height="57.91" fill="#ff0000"/>
<rect x="964.17" y="1686.54" width="5" height="62.76" fill="#0000ff"/>
<rect x="974.74" y="1715.98" width="5" height="33.32" fill="#000"/>
<rect x="981.24" y="1698.19" width="5" height="51.11" fill="#ff0000"/>
<rect x="987.74" y="1691.72" width="5" height="57.58" fill="#0000ff"/>
<rect x="998.31" y="1717.27" width="5" height="32.03" fill="#000"/>
<rect x="1004.81" y="1739.27" width="5" height="10.03" fill="#ff0000"/>
<rect x="1011.31" y="1740.57" width="5" height="8.73" fill="#0000ff"/>
<rect x="1021.88" y="1717.27" width="5" height="32.03" fill="#000"/>
<rect x="1028.38" y="1715.33" width="5" height="33.97" fill="#ff0000"/>
<rect x="1034.88" y="1714.04" width="5" height="35.26" fill="#0000ff"/>
<rect x="1045.45" y="1717.27" width="5" height="32.03" fill="#000"/>
<rect x="1051.95" y="1732.48" width="5" height="16.82" fill="#ff0000"/>
<rect x="1058.45" y="1735.07" width="5" height="14.23" fill="#0000ff"/>
<rect x="1069.02" y="1717.27" width="5" height="32.03" fill="#000"/>
<rect x="1075.52" y="1708.54" width="5" height="40.76" fill="#ff0000"/>
<rect x="1082.02" y="1705.63" width="5" height="43.67" fill="#0000ff"/>
<rect x="1092.59" y="1716.3" width="5" height="33" fill="#000"/>
<rect x="1099.09" y="1725.68" width="5" height="23.62" fill="#ff0000"/>
<rect x="1105.59" y="1735.71" width="5" height="13.59" fill="#0000ff"/>
<rect x="1116.16" y="1717.27" width="5" height="32.03" fill="#000"/>
<rect x="1122.66" y="1732.48" width="5" height="16.82" fill="#ff0000"/>
<rect x="1129.16" y="1731.51" width="5" height="17.79" fill="#0000ff"/>
<rect x="1139.73" y="1717.27" width="5" height="32.03" fill="#000"/>
<rect x="1146.23" y="1729.89" width="5" height="19.41" fill="#ff0000"/>
<rect x="1152.73" y="1728.92" width="5" height="20.38" fill="#0000ff"/>
<rect x="1163.3" y="1717.27" width="5" height="32.03" fill="#000"/>
<rect x="1169.8" y="1714.04" width="5" height="35.26" fill="#ff0000"/>
<rect x="1176.3" y="1714.04" width="5" height="35.26" fill="#0000ff"/>
<rect x="1186.87" y="1716.3" width="5" height="33" fill="#000"/>
<rect x="1193.37" y="1730.86" width="5" height="18.44" fill="#ff0000"/>
<rect x="1199.87" y="1728.92" width="5" height="20.38" fill="#0000ff"/>
<rect x="1210.44" y="1716.3" width="5" height="33" fill="#000"/>
<rect x="1216.94" y="1695.92" width="5" height="53.38" fill="#ff0000"/>
<rect x="1223.44" y="1692.69" width="5" height="56.61" fill="#0000ff"/>
<rect x="1234.01" y="1717.27" width="5" height="32.03" fill="#000"/>
<rect x="1240.51" y="1708.54" width="5" height="40.76" fill="#ff0000"/>
<rect x="1247.01" y="1710.8" width="5" height="38.5" fill="#0000ff"/>
<rect x="1257.58" y="1717.27" width="5" height="32.03" fill="#000"/>
<rect x="1264.08" y="1708.54" width="5" height="40.76" fill="#ff0000"/>
<rect x="1270.58" y="1701.75" width="5" height="47.55" fill="#0000ff"/>
<rect x="1281.15" y="1716.3" width="5" height="33" fill="#000"/>
<rect x="1287.65" y="1707.24" width="5" height="42.06" fill="#ff0000"/>
<rect x="1294.15" y="1708.54" width="5" height="40.76" fill="#0000ff"/>
<rect x="1304.72" y="1716.3" width="5" height="33" fill="#000"/>
<rect x="1311.22" y="1720.83" width="5" height="28.47" fill="#ff0000"/>
<rect x="1317.72" y="1718.24" width="5" height="31.06" fill="#0000ff"/>
<rect x="1328.29" y="1717.27" width="5" height="32.03" fill="#000"/>
<rect x="1334.79" y="1698.51" width="5" height="50.79" fill="#ff0000"/>
<rect x="1341.29" y="1708.54" width="5" height="40.76" fill="#0000ff"/>
<rect x="1351.86" y="1716.3" width="5" height="33" fill="#000"/>
<rect x="1358.36" y="1741.21" width="5" height="8.09" fill="#ff0000"/>
<rect x="1364.86" y="1741.21" width="5" height="8.09" fill="#0000ff"/>
<rect x="1375.43" y="1716.3" width="5" height="33" fill="#000"/>
<rect x="1381.93" y="1735.07" width="5" height="14.23" fill="#ff0000"/>
<rect x="1388.43" y="1730.86" width="5" height="18.44" fill="#0000ff"/>
<rect x="1399" y="1717.27" width="5" height="32.03" fill="#000"/>
<rect x="1405.5" y="1689.13" width="5" height="60.17" fill="#ff0000"/>
<rect x="1412" y="1692.69" width="5" height="56.61" fill="#0000ff"/>
<rect x="1422.57" y="1717.27" width="5" height="32.03" fill="#000"/>
<rect x="1429.07" y="1707.24" width="5" height="42.06" fill="#ff0000"/>
<rect x="1435.57" y="1704.01" width="5" height="45.29" fill="#0000ff"/>
<path d="M694.4 1716.63V1715.33M700.9 1741.21V1737.01M707.4 1741.21V1737.65M717.97 1717.27V1712.42M724.47 1695.6V1687.84M730.97 1695.6V1690.75M741.54 1715.66V1707.57M748.04 1705.63V1701.1M754.54 1701.75V1692.04M765.11 1717.27V1713.71M771.61 1571.36V1562.85M778.11 1565.93V1554.49M788.68 1717.27V1715.33M795.18 1700.13V1690.1M801.68 1696.25V1685.25M812.25 1717.27V1712.42M818.75 1703.04V1694.95M825.25 1703.04V1690.75M835.82 1717.27V1713.71M842.32 1691.39V1681.37M848.82 1690.1V1681.37M859.39 1717.27V1712.42M865.89 1691.39V1687.51M872.39 1691.39V1682.01M882.96 1716.63V1711.13M889.46 1690.1V1677.16M895.96 1690.1V1679.1M906.53 1717.27V1716.3M913.03 1734.74V1732.15M919.53 1730.21V1723.42M930.1 1716.63V1712.1M936.6 1713.71V1709.19M943.1 1713.71V1707.57M953.67 1717.27V1714.69M960.17 1691.39V1683.95M966.67 1686.54V1671.66M977.24 1715.98V1703.36M983.74 1698.19V1687.84M990.24 1691.72V1684.28M1000.81 1717.27V1713.07M1007.31 1739.27V1738.62M1013.81 1740.57V1738.3M1024.38 1717.27V1714.04M1030.88 1715.33V1712.1M1037.38 1714.04V1710.8M1047.95 1717.27V1713.07M1054.45 1732.48V1729.89M1060.95 1735.07V1731.51M1071.52 1717.27V1714.04M1078.02 1708.54V1705.3M1084.52 1705.63V1702.07M1095.09 1716.3V1713.07M1101.59 1725.68V1722.13M1108.09 1735.71V1728.92M1118.66 1717.27V1714.04M1125.16 1732.48V1727.63M1131.66 1731.51V1728.92M1142.23 1717.27V1711.45M1148.73 1729.89V1726.65M1155.23 1728.92V1726.65M1165.8 1717.27V1714.69M1172.3 1714.04V1712.1M1178.8 1714.04V1707.24M1189.37 1716.3V1713.07M1195.87 1730.86V1728.92M1202.37 1728.92V1726.65M1212.94 1716.3V1714.04M1219.44 1695.92V1694.31M1225.94 1692.69V1682.66M1236.51 1717.27V1716.3M1243.01 1708.54V1707.24M1249.51 1710.8V1705.3M1260.08 1717.27V1716.3M1266.58 1708.54V1704.01M1273.08 1701.75V1692.69M1283.65 1716.3V1714.04M1290.15 1707.24V1698.51M1296.65 1708.54V1700.45M1307.22 1716.3V1711.45M1313.72 1720.83V1708.54M1320.22 1718.24V1711.45M1330.79 1717.27V1714.04M1337.29 1698.51V1680.07M1343.79 1708.54V1701.75M1354.36 1716.3V1714.69M1360.86 1741.21V1739.27M1367.36 1741.21V1739.27M1377.93 1716.3V1707.89M1384.43 1735.07V1732.48M1390.93 1730.86V1728.27M1401.5 1717.27V1713.07M1408 1689.13V1678.13M1414.5 1692.69V1683.63M1425.07 1717.27V1714.04M1431.57 1707.24V1704.01M1438.07 1704.01V1695.92" stroke="#000" stroke-width="1.6" fill="none"/>
<line x1="688.6" y1="1540.3" x2="688.6" y2="1607.1" stroke="#000" stroke-width="3.2"/>
<line x1="688.6" y1="1619.9" x2="688.6" y2="1750.9" stroke="#000" stroke-width="3.2"/>
<line x1="687" y1="1749.3" x2="1450" y2="1749.3" stroke="#000" stroke-width="3.2"/>
<path d="M682.3 1540.3H690.6M682.3 1607.1H692.9M682.3 1619.9H692.9M682.3 1573.7H688.6M682.3 1652.25H688.6M682.3 1684.6H688.6M682.3 1716.95H688.6M684.8 1636.08H688.6M684.8 1668.42H688.6M684.8 1700.78H688.6M684.8 1733.12H688.6" stroke="#000" stroke-width="2.4" fill="none"/>
<text x="680" y="1548.6" font-size="18.2" font-weight="bold" text-anchor="end" textLength="21.05" lengthAdjust="spacingAndGlyphs">12</text>
<text x="680" y="1580.5" font-size="18.2" font-weight="bold" text-anchor="end" textLength="10.53" lengthAdjust="spacingAndGlyphs">8</text>
<text x="680" y="1614" font-size="18.2" font-weight="bold" text-anchor="end" textLength="10.53" lengthAdjust="spacingAndGlyphs">4</text>
<text x="680" y="1626.3" font-size="18.2" font-weight="bold" text-anchor="end" textLength="10.53" lengthAdjust="spacingAndGlyphs">4</text>
<text x="680" y="1659" font-size="18.2" font-weight="bold" text-anchor="end" textLength="10.53" lengthAdjust="spacingAndGlyphs">3</text>
<text x="680" y="1691.7" font-size="18.2" font-weight="bold" text-anchor="end" textLength="10.53" lengthAdjust="spacingAndGlyphs">2</text>
<text x="680" y="1723.8" font-size="18.2" font-weight="bold" text-anchor="end" textLength="10.53" lengthAdjust="spacingAndGlyphs">1</text>
<text x="680" y="1755.7" font-size="18.2" font-weight="bold" text-anchor="end" textLength="10.53" lengthAdjust="spacingAndGlyphs">0</text>
<text x="707.71" y="1756.3" font-size="19.5" text-anchor="end" transform="rotate(-90 707.71 1756.3)">EZH2</text>
<text x="731.28" y="1756.3" font-size="19.5" text-anchor="end" transform="rotate(-90 731.28 1756.3)">CCNG1</text>
<text x="754.85" y="1756.3" font-size="19.5" text-anchor="end" transform="rotate(-90 754.85 1756.3)">SERTAD1</text>
<text x="778.42" y="1756.3" font-size="19.5" text-anchor="end" transform="rotate(-90 778.42 1756.3)">CDKN1A</text>
<text x="801.99" y="1756.3" font-size="19.5" text-anchor="end" transform="rotate(-90 801.99 1756.3)">CCNE1</text>
<text x="825.56" y="1756.3" font-size="19.5" text-anchor="end" transform="rotate(-90 825.56 1756.3)">CCND1</text>
<text x="849.13" y="1756.3" font-size="19.5" text-anchor="end" transform="rotate(-90 849.13 1756.3)">CDK5RAP1</text>
<text x="872.7" y="1756.3" font-size="19.5" text-anchor="end" transform="rotate(-90 872.7 1756.3)">CDK7</text>
<text x="896.27" y="1756.3" font-size="19.5" text-anchor="end" transform="rotate(-90 896.27 1756.3)">CDNK1B</text>
<text x="919.84" y="1756.3" font-size="19.5" text-anchor="end" transform="rotate(-90 919.84 1756.3)">E2F2</text>
<text x="943.41" y="1756.3" font-size="19.5" text-anchor="end" transform="rotate(-90 943.41 1756.3)">CDKN2B</text>
<text x="966.98" y="1756.3" font-size="19.5" text-anchor="end" transform="rotate(-90 966.98 1756.3)">PCNA</text>
<text x="990.55" y="1756.3" font-size="19.5" text-anchor="end" transform="rotate(-90 990.55 1756.3)">CDKN2A</text>
<text x="1014.12" y="1756.3" font-size="19.5" text-anchor="end" transform="rotate(-90 1014.12 1756.3)">CDKN2C</text>
<text x="1037.69" y="1756.3" font-size="19.5" text-anchor="end" transform="rotate(-90 1037.69 1756.3)">CDKN2D</text>
<text x="1061.26" y="1756.3" font-size="19.5" text-anchor="end" transform="rotate(-90 1061.26 1756.3)">CDKN1C</text>
<text x="1084.83" y="1756.3" font-size="19.5" text-anchor="end" transform="rotate(-90 1084.83 1756.3)">TP53</text>
<text x="1108.4" y="1756.3" font-size="19.5" text-anchor="end" transform="rotate(-90 1108.4 1756.3)">TAp63</text>
<text x="1131.97" y="1756.3" font-size="19.5" text-anchor="end" transform="rotate(-90 1131.97 1756.3)">DeltaNp63</text>
<text x="1155.54" y="1756.3" font-size="19.5" text-anchor="end" transform="rotate(-90 1155.54 1756.3)">TP73</text>
<text x="1179.11" y="1756.3" font-size="19.5" text-anchor="end" transform="rotate(-90 1179.11 1756.3)">RB1</text>
<text x="1202.68" y="1756.3" font-size="19.5" text-anchor="end" transform="rotate(-90 1202.68 1756.3)">E2F1</text>
<text x="1226.25" y="1756.3" font-size="19.5" text-anchor="end" transform="rotate(-90 1226.25 1756.3)">PTEN</text>
<text x="1249.82" y="1756.3" font-size="19.5" text-anchor="end" transform="rotate(-90 1249.82 1756.3)">CDK1</text>
<text x="1273.39" y="1756.3" font-size="19.5" text-anchor="end" transform="rotate(-90 1273.39 1756.3)">CDK6</text>
<text x="1296.96" y="1756.3" font-size="19.5" text-anchor="end" transform="rotate(-90 1296.96 1756.3)">CCNB1</text>
<text x="1320.53" y="1756.3" font-size="19.5" text-anchor="end" transform="rotate(-90 1320.53 1756.3)">CCNB2</text>
<text x="1344.1" y="1756.3" font-size="19.5" text-anchor="end" transform="rotate(-90 1344.1 1756.3)">CCNC1</text>
<text x="1367.67" y="1756.3" font-size="19.5" text-anchor="end" transform="rotate(-90 1367.67 1756.3)">CCNF1</text>
<text x="1391.24" y="1756.3" font-size="19.5" text-anchor="end" transform="rotate(-90 1391.24 1756.3)">HOXA10</text>
<text x="1414.81" y="1756.3" font-size="19.5" text-anchor="end" transform="rotate(-90 1414.81 1756.3)">KRAS</text>
<text x="1438.38" y="1756.3" font-size="19.5" text-anchor="end" transform="rotate(-90 1438.38 1756.3)">CHEK2</text>
<path d="M701 1749.3V1754.7M724.57 1749.3V1754.7M748.14 1749.3V1754.7M771.71 1749.3V1754.7M795.28 1749.3V1754.7M818.85 1749.3V1754.7M842.42 1749.3V1754.7M865.99 1749.3V1754.7M889.56 1749.3V1754.7M913.13 1749.3V1754.7M936.7 1749.3V1754.7M960.27 1749.3V1754.7M983.84 1749.3V1754.7M1007.41 1749.3V1754.7M1030.98 1749.3V1754.7M1054.55 1749.3V1754.7M1078.12 1749.3V1754.7M1101.69 1749.3V1754.7M1125.26 1749.3V1754.7M1148.83 1749.3V1754.7M1172.4 1749.3V1754.7M1195.97 1749.3V1754.7M1219.54 1749.3V1754.7M1243.11 1749.3V1754.7M1266.68 1749.3V1754.7M1290.25 1749.3V1754.7M1313.82 1749.3V1754.7M1337.39 1749.3V1754.7M1360.96 1749.3V1754.7M1384.53 1749.3V1754.7M1408.1 1749.3V1754.7M1431.67 1749.3V1754.7" stroke="#000" stroke-width="2.2" fill="none"/>
<text x="647.78" y="1643" font-size="20" text-anchor="middle" textLength="235" lengthAdjust="spacingAndGlyphs" transform="rotate(-90 647.78 1643)">Relative mRNA expression</text>
<text x="1046.2" y="1528.3" font-size="21" font-weight="bold" textLength="43.1" lengthAdjust="spacingAndGlyphs">KLE</text>
<rect x="1362.5" y="1541.6" width="22.3" height="13.7" fill="#000"/>
<text x="1396.6" y="1554.8" font-size="19" font-weight="bold" textLength="30.33" lengthAdjust="spacingAndGlyphs">Scr</text>
<rect x="1362.5" y="1563.9" width="22.3" height="13.7" fill="#ff0000"/>
<text x="1396.6" y="1577.1" font-size="19" font-weight="bold" textLength="37.63" lengthAdjust="spacingAndGlyphs">KD1</text>
<rect x="1362.5" y="1586.2" width="22.3" height="13.7" fill="#0000ff"/>
<text x="1396.6" y="1599.4" font-size="19" font-weight="bold" textLength="37.63" lengthAdjust="spacingAndGlyphs">KD2</text>
<rect x="691.3" y="1706" width="16.3" height="3.8" fill="#000"/>
<text x="692.14" y="1708.44" font-size="24">*</text>
<text x="706.64" y="1708.44" font-size="24">*</text>
<rect x="761.6" y="1546.3" width="16.9" height="3.8" fill="#000"/>
<text x="758.34" y="1547.64" font-size="24">*</text>
<text x="772.04" y="1547.64" font-size="24">*</text>
<rect x="998.8" y="1703.6" width="17" height="3.8" fill="#000"/>
<text x="1002.04" y="1706.54" font-size="24">*</text>
<text x="0.7" y="1918.2" font-size="40.5" font-weight="bold">F</text>
<rect x="133.9" y="2095.53" width="20.2" height="57.27" fill="#000"/>
<rect x="162.5" y="2137.34" width="20.2" height="15.46" fill="#ff0000"/>
<rect x="191.7" y="2137.34" width="20.2" height="15.46" fill="#0a0ad2"/>
<rect x="241.1" y="2095.53" width="20.2" height="57.27" fill="#000"/>
<rect x="270.5" y="2017.08" width="20.2" height="135.72" fill="#ff0000"/>
<rect x="299.4" y="2031.39" width="20.2" height="121.41" fill="#0a0ad2"/>
<path d="M144 2095.53V2091.52M139.5 2091.52H148.5M172.6 2137.34V2133.9M168.1 2133.9H177.1M201.8 2137.34V2135.62M197.3 2135.62H206.3M251.2 2095.53V2088.09M246.7 2088.09H255.7M280.6 2017.08V1992.45M276.1 1992.45H285.1M309.5 2031.39V2019.94M305 2019.94H314" stroke="#000" stroke-width="2.6" fill="none"/>
<line x1="119.3" y1="1979.7" x2="119.3" y2="2154.4" stroke="#000" stroke-width="3.2"/>
<line x1="111.3" y1="2152.8" x2="336.1" y2="2152.8" stroke="#000" stroke-width="3.2"/>
<path d="M111.3 2152.8H119.3M111.3 2095.53H119.3M111.3 2038.27H119.3M111.3 1981H119.3M115.3 2124.17H119.3M115.3 2066.9H119.3M115.3 2009.63H119.3M172.3 2152.8V2159.3M280.5 2152.8V2159.3" stroke="#000" stroke-width="2.8" fill="none"/>
<text x="108.5" y="2158.7" font-size="16.8" text-anchor="end">0</text>
<text x="108.5" y="2101.43" font-size="16.8" text-anchor="end">1</text>
<text x="108.5" y="2044.17" font-size="16.8" text-anchor="end">2</text>
<text x="108.5" y="1986.9" font-size="16.8" text-anchor="end">3</text>
<text x="92.82" y="2064.7" font-size="17.5" text-anchor="middle" textLength="207" lengthAdjust="spacingAndGlyphs" transform="rotate(-90 92.82 2064.7)">Relative mRNA expression</text>
<text x="210.7" y="1955.3" font-size="18.6" font-weight="bold" textLength="32" lengthAdjust="spacingAndGlyphs">ISK</text>
<rect x="128.3" y="1981.3" width="20.5" height="12" fill="#000"/>
<text x="159.9" y="1993.1" font-size="16.8" font-weight="bold" textLength="27.9" lengthAdjust="spacingAndGlyphs">Scr</text>
<rect x="128.3" y="1997.7" width="20.5" height="12" fill="#ff0000"/>
<text x="159.9" y="2009.5" font-size="16.8" font-weight="bold" textLength="34.62" lengthAdjust="spacingAndGlyphs">KD4</text>
<rect x="128.3" y="2014.1" width="20.5" height="12" fill="#0a0ad2"/>
<text x="159.9" y="2025.9" font-size="16.8" font-weight="bold" textLength="34.62" lengthAdjust="spacingAndGlyphs">KD5</text>
<text x="155.71" y="2075.66" font-size="26" font-weight="bold">*</text>
<text x="168.21" y="2075.66" font-size="26" font-weight="bold">*</text>
<text x="262.41" y="1976.46" font-size="26" font-weight="bold">*</text>
<text x="274.91" y="1976.46" font-size="26" font-weight="bold">*</text>
<path d="M143.6 2083.8V2071H188.7V2128.3M174.8 2128.3H203.8M250.1 2078V1972.2H296.9V1984.2M280.2 1984.2H309.2" stroke="#000" stroke-width="3" fill="none"/>
<text x="179" y="2176.5" font-size="16.2" font-weight="bold" text-anchor="end" transform="rotate(-45 179 2176.5)">EED</text>
<text x="286" y="2173" font-size="17.3" font-weight="bold" text-anchor="end" transform="rotate(-45 286 2173)">p21</text>
<rect x="415.5" y="2095.53" width="20.2" height="57.27" fill="#000"/>
<rect x="444.1" y="2137.91" width="20.2" height="14.89" fill="#ff0000"/>
<rect x="473.3" y="2131.61" width="20.2" height="21.19" fill="#0a0ad2"/>
<rect x="522.7" y="2095.53" width="20.2" height="57.27" fill="#000"/>
<rect x="552.1" y="2015.36" width="20.2" height="137.44" fill="#ff0000"/>
<rect x="581" y="1997.03" width="20.2" height="155.77" fill="#0a0ad2"/>
<path d="M425.6 2095.53V2088.09M421.1 2088.09H430.1M454.2 2137.91V2135.05M449.7 2135.05H458.7M483.4 2131.61V2128.75M478.9 2128.75H487.9M532.8 2095.53V2086.94M528.3 2086.94H537.3M562.2 2015.36V1998.75M557.7 1998.75H566.7M591.1 1997.03V1992.45M586.6 1992.45H595.6" stroke="#000" stroke-width="2.6" fill="none"/>
<line x1="400.9" y1="1979.7" x2="400.9" y2="2154.4" stroke="#000" stroke-width="3.2"/>
<line x1="392.9" y1="2152.8" x2="617.7" y2="2152.8" stroke="#000" stroke-width="3.2"/>
<path d="M392.9 2152.8H400.9M392.9 2095.53H400.9M392.9 2038.27H400.9M392.9 1981H400.9M396.9 2124.17H400.9M396.9 2066.9H400.9M396.9 2009.63H400.9M453.9 2152.8V2159.3M562.1 2152.8V2159.3" stroke="#000" stroke-width="2.8" fill="none"/>
<text x="390.1" y="2158.7" font-size="16.8" text-anchor="end">0</text>
<text x="390.1" y="2101.43" font-size="16.8" text-anchor="end">1</text>
<text x="390.1" y="2044.17" font-size="16.8" text-anchor="end">2</text>
<text x="390.1" y="1986.9" font-size="16.8" text-anchor="end">3</text>
<text x="374.62" y="2065.6" font-size="17.5" text-anchor="middle" textLength="207" lengthAdjust="spacingAndGlyphs" transform="rotate(-90 374.62 2065.6)">Relative mRNA expression</text>
<text x="492.3" y="1954.7" font-size="18.6" font-weight="bold" textLength="32.7" lengthAdjust="spacingAndGlyphs">ISK</text>
<rect x="409.9" y="1981.3" width="20.5" height="12" fill="#000"/>
<text x="441.5" y="1993.1" font-size="16.8" font-weight="bold" textLength="27.9" lengthAdjust="spacingAndGlyphs">Scr</text>
<rect x="409.9" y="1997.7" width="20.5" height="12" fill="#ff0000"/>
<text x="441.5" y="2009.5" font-size="16.8" font-weight="bold" textLength="34.62" lengthAdjust="spacingAndGlyphs">KD6</text>
<rect x="409.9" y="2014.1" width="20.5" height="12" fill="#0a0ad2"/>
<text x="441.5" y="2025.9" font-size="16.8" font-weight="bold" textLength="34.62" lengthAdjust="spacingAndGlyphs">KD7</text>
<text x="437.11" y="2071.66" font-size="26" font-weight="bold">*</text>
<text x="449.61" y="2071.66" font-size="26" font-weight="bold">*</text>
<text x="543.01" y="1978.06" font-size="26" font-weight="bold">*</text>
<text x="555.51" y="1978.06" font-size="26" font-weight="bold">*</text>
<path d="M425.8 2081.5V2067.6H470.8V2121.3M456.5 2121.3H486.1M532.1 2081.5V1975.2H577.1V1987.4M562.4 1987.4H591.8" stroke="#000" stroke-width="3" fill="none"/>
<text x="460.7" y="2174.7" font-size="17.2" font-weight="bold" text-anchor="end" transform="rotate(-45 460.7 2174.7)">SUZ12</text>
<text x="567.1" y="2173" font-size="17.3" font-weight="bold" text-anchor="end" transform="rotate(-45 567.1 2173)">p21</text>
<rect x="133.9" y="2389.85" width="20.2" height="42.95" fill="#000"/>
<rect x="162.5" y="2424.64" width="20.2" height="8.16" fill="#ff0000"/>
<rect x="191.7" y="2424.21" width="20.2" height="8.59" fill="#0a0ad2"/>
<rect x="241.1" y="2389.85" width="20.2" height="42.95" fill="#000"/>
<rect x="270.5" y="2317.26" width="20.2" height="115.54" fill="#ff0000"/>
<rect x="299.4" y="2317.69" width="20.2" height="115.11" fill="#0a0ad2"/>
<path d="M144 2389.85V2385.56M139.5 2385.56H148.5M172.6 2424.64V2422.49M168.1 2422.49H177.1M201.8 2424.21V2421.63M197.3 2421.63H206.3M251.2 2389.85V2384.27M246.7 2384.27H255.7M280.6 2317.26V2303.95M276.1 2303.95H285.1M309.5 2317.69V2303.95M305 2303.95H314" stroke="#000" stroke-width="2.6" fill="none"/>
<line x1="119.3" y1="2259.7" x2="119.3" y2="2434.4" stroke="#000" stroke-width="3.2"/>
<line x1="111.3" y1="2432.8" x2="336.1" y2="2432.8" stroke="#000" stroke-width="3.2"/>
<path d="M111.3 2432.8H119.3M111.3 2389.85H119.3M111.3 2346.9H119.3M111.3 2303.95H119.3M111.3 2261H119.3M115.3 2411.33H119.3M115.3 2368.38H119.3M115.3 2325.43H119.3M115.3 2282.47H119.3M172.3 2432.8V2439.3M280.5 2432.8V2439.3" stroke="#000" stroke-width="2.8" fill="none"/>
<text x="108.5" y="2438.7" font-size="16.8" text-anchor="end">0</text>
<text x="108.5" y="2395.75" font-size="16.8" text-anchor="end">1</text>
<text x="108.5" y="2352.8" font-size="16.8" text-anchor="end">2</text>
<text x="108.5" y="2309.85" font-size="16.8" text-anchor="end">3</text>
<text x="108.5" y="2266.9" font-size="16.8" text-anchor="end">4</text>
<text x="92.22" y="2345.1" font-size="17.5" text-anchor="middle" textLength="207" lengthAdjust="spacingAndGlyphs" transform="rotate(-90 92.22 2345.1)">Relative mRNA expression</text>
<text x="206.7" y="2235.4" font-size="18.6" font-weight="bold" textLength="39.3" lengthAdjust="spacingAndGlyphs">KLE</text>
<rect x="128.3" y="2261.3" width="20.5" height="12" fill="#000"/>
<text x="159.9" y="2273.1" font-size="16.8" font-weight="bold" textLength="27.9" lengthAdjust="spacingAndGlyphs">Scr</text>
<rect x="128.3" y="2277.7" width="20.5" height="12" fill="#ff0000"/>
<text x="159.9" y="2289.5" font-size="16.8" font-weight="bold" textLength="34.62" lengthAdjust="spacingAndGlyphs">KD4</text>
<rect x="128.3" y="2294.1" width="20.5" height="12" fill="#0a0ad2"/>
<text x="159.9" y="2305.9" font-size="16.8" font-weight="bold" textLength="34.62" lengthAdjust="spacingAndGlyphs">KD5</text>
<text x="154.11" y="2373.06" font-size="26" font-weight="bold">*</text>
<text x="166.61" y="2373.06" font-size="26" font-weight="bold">*</text>
<text x="262.41" y="2284.66" font-size="26" font-weight="bold">*</text>
<text x="274.91" y="2284.66" font-size="26" font-weight="bold">*</text>
<path d="M143.8 2379.8V2368H188.8V2411.5M173.4 2411.5H203.1M250.5 2377.8V2281.3H296.7V2294.4M279.7 2294.4H309.3" stroke="#000" stroke-width="3" fill="none"/>
<text x="179" y="2456.5" font-size="16.2" font-weight="bold" text-anchor="end" transform="rotate(-45 179 2456.5)">EED</text>
<text x="286" y="2453" font-size="17.3" font-weight="bold" text-anchor="end" transform="rotate(-45 286 2453)">p21</text>
<rect x="415.5" y="2389.85" width="20.2" height="42.95" fill="#000"/>
<rect x="444.1" y="2422.06" width="20.2" height="10.74" fill="#ff0000"/>
<rect x="473.3" y="2417.77" width="20.2" height="15.03" fill="#0a0ad2"/>
<rect x="522.7" y="2389.85" width="20.2" height="42.95" fill="#000"/>
<rect x="552.1" y="2308.67" width="20.2" height="124.13" fill="#ff0000"/>
<rect x="581" y="2298.8" width="20.2" height="134" fill="#0a0ad2"/>
<path d="M425.6 2389.85V2384.7M421.1 2384.7H430.1M454.2 2422.06V2420.34M449.7 2420.34H458.7M483.4 2417.77V2415.19M478.9 2415.19H487.9M532.8 2389.85V2383.41M528.3 2383.41H537.3M562.2 2308.67V2288.06M557.7 2288.06H566.7M591.1 2298.8V2291.07M586.6 2291.07H595.6" stroke="#000" stroke-width="2.6" fill="none"/>
<line x1="400.9" y1="2259.7" x2="400.9" y2="2434.4" stroke="#000" stroke-width="3.2"/>
<line x1="392.9" y1="2432.8" x2="617.7" y2="2432.8" stroke="#000" stroke-width="3.2"/>
<path d="M392.9 2432.8H400.9M392.9 2389.85H400.9M392.9 2346.9H400.9M392.9 2303.95H400.9M392.9 2261H400.9M396.9 2411.33H400.9M396.9 2368.38H400.9M396.9 2325.43H400.9M396.9 2282.47H400.9M453.9 2432.8V2439.3M562.1 2432.8V2439.3" stroke="#000" stroke-width="2.8" fill="none"/>
<text x="390.1" y="2438.7" font-size="16.8" text-anchor="end">0</text>
<text x="390.1" y="2395.75" font-size="16.8" text-anchor="end">1</text>
<text x="390.1" y="2352.8" font-size="16.8" text-anchor="end">2</text>
<text x="390.1" y="2309.85" font-size="16.8" text-anchor="end">3</text>
<text x="390.1" y="2266.9" font-size="16.8" text-anchor="end">4</text>
<text x="374.62" y="2345.1" font-size="17.5" text-anchor="middle" textLength="207" lengthAdjust="spacingAndGlyphs" transform="rotate(-90 374.62 2345.1)">Relative mRNA expression</text>
<text x="488.8" y="2235.8" font-size="18.6" font-weight="bold" textLength="39.2" lengthAdjust="spacingAndGlyphs">KLE</text>
<rect x="409.9" y="2261.3" width="20.5" height="12" fill="#000"/>
<text x="441.5" y="2273.1" font-size="16.8" font-weight="bold" textLength="27.9" lengthAdjust="spacingAndGlyphs">Scr</text>
<rect x="409.9" y="2277.7" width="20.5" height="12" fill="#ff0000"/>
<text x="441.5" y="2289.5" font-size="16.8" font-weight="bold" textLength="34.62" lengthAdjust="spacingAndGlyphs">KD6</text>
<rect x="409.9" y="2294.1" width="20.5" height="12" fill="#0a0ad2"/>
<text x="441.5" y="2305.9" font-size="16.8" font-weight="bold" textLength="34.62" lengthAdjust="spacingAndGlyphs">KD7</text>
<text x="437.11" y="2353.66" font-size="26" font-weight="bold">*</text>
<text x="449.61" y="2353.66" font-size="26" font-weight="bold">*</text>
<text x="543.41" y="2270.86" font-size="26" font-weight="bold">*</text>
<text x="555.91" y="2270.86" font-size="26" font-weight="bold">*</text>
<path d="M425.8 2376.8V2349.2H469.8V2407.4M456.5 2407.4H482M532.1 2374.7V2266.4H577.5V2278.7M562.4 2278.7H591.4" stroke="#000" stroke-width="3" fill="none"/>
<text x="460.7" y="2454.7" font-size="17.2" font-weight="bold" text-anchor="end" transform="rotate(-45 460.7 2454.7)">SUZ12</text>
<text x="567.1" y="2453" font-size="17.3" font-weight="bold" text-anchor="end" transform="rotate(-45 567.1 2453)">p21</text>
<defs><filter id="bl" x="-20%" y="-100%" width="140%" height="300%"><feGaussianBlur stdDeviation="1.1"/></filter></defs>
<text x="640.7" y="1918.2" font-size="40.5" font-weight="bold">G</text>
<text x="801.7" y="1953.1" font-size="17" font-weight="bold" text-anchor="middle" fill="#111">Scr</text>
<text x="851.7" y="1953.1" font-size="17" font-weight="bold" text-anchor="middle" fill="#111">KD1</text>
<text x="906.1" y="1953.1" font-size="17" font-weight="bold" text-anchor="middle" fill="#111">KD2</text>
<text x="802.4" y="2133.2" font-size="17" font-weight="bold" text-anchor="middle" fill="#111">Scr</text>
<text x="857.1" y="2133.2" font-size="17" font-weight="bold" text-anchor="middle" fill="#111">KD4</text>
<text x="910.8" y="2133.2" font-size="17" font-weight="bold" text-anchor="middle" fill="#111">KD5</text>
<text x="802.4" y="2312" font-size="17" font-weight="bold" text-anchor="middle" fill="#111">Scr</text>
<text x="859.8" y="2312" font-size="17" font-weight="bold" text-anchor="middle" fill="#111">KD6</text>
<text x="911.9" y="2312" font-size="17" font-weight="bold" text-anchor="middle" fill="#111">KD7</text>
<rect x="773.3" y="1961" width="167.9" height="43.3" fill="#d3d3d3" stroke="#222" stroke-width="1.7"/>
<rect x="782.6" y="1981.25" width="36.7" height="8.1" rx="6.48" ry="4.05" fill="#4a4a4a" filter="url(#bl)"/>
<rect x="836" y="1982.6" width="35" height="5.4" rx="4.32" ry="2.7" fill="#c4c4c4" filter="url(#bl)"/>
<rect x="894" y="1983.27" width="30" height="4.05" rx="3.24" ry="2.03" fill="#cccccc" filter="url(#bl)"/>
<text x="763.9" y="1988.85" font-size="17" font-weight="bold" text-anchor="end" fill="#111">EZH2</text>
<line x1="941.3" y1="1985.3" x2="957.6" y2="1985.3" stroke="#111" stroke-width="1.6"/>
<text x="963.3" y="1990.3" font-size="17" font-weight="bold" fill="#111">98 KDa</text>
<rect x="773.3" y="2012.6" width="167.9" height="42.8" fill="#d3d3d3" stroke="#222" stroke-width="1.7"/>
<rect x="785.5" y="2033.3" width="29.5" height="5.4" rx="4.32" ry="2.7" fill="#6a6a6a" filter="url(#bl)"/>
<rect x="841.3" y="2031.61" width="28.6" height="8.78" rx="7.02" ry="4.39" fill="#2a2a2a" filter="url(#bl)"/>
<rect x="894.2" y="2031.61" width="28.1" height="8.78" rx="7.02" ry="4.39" fill="#333" filter="url(#bl)"/>
<text x="763.9" y="2040.2" font-size="17" font-weight="bold" text-anchor="end" fill="#111">p21</text>
<line x1="941.3" y1="2036" x2="957.6" y2="2036" stroke="#111" stroke-width="1.6"/>
<text x="963.3" y="2041" font-size="17" font-weight="bold" fill="#111">21 KDa</text>
<rect x="773.3" y="2064.7" width="167.9" height="43.1" fill="#d3d3d3" stroke="#222" stroke-width="1.7"/>
<rect x="781.2" y="2083.16" width="42.4" height="11.48" rx="9.18" ry="5.74" fill="#141414" filter="url(#bl)"/>
<rect x="835.6" y="2083.84" width="41.8" height="10.12" rx="8.1" ry="5.06" fill="#1c1c1c" filter="url(#bl)"/>
<rect x="889.9" y="2083.84" width="39.5" height="10.12" rx="8.1" ry="5.06" fill="#1c1c1c" filter="url(#bl)"/>
<text x="763.9" y="2092.45" font-size="17" font-weight="bold" text-anchor="end" fill="#111">GAPDH</text>
<line x1="941.3" y1="2088.9" x2="957.6" y2="2088.9" stroke="#111" stroke-width="1.6"/>
<text x="963.3" y="2093.9" font-size="17" font-weight="bold" fill="#111">36 KDa</text>
<rect x="773.3" y="2141.5" width="167.9" height="43.3" fill="#d3d3d3" stroke="#222" stroke-width="1.7"/>
<rect x="783" y="2161.45" width="39.9" height="8.1" rx="6.48" ry="4.05" fill="#2e2e2e" filter="url(#bl)"/>
<rect x="837.7" y="2162.8" width="39.9" height="5.4" rx="4.32" ry="2.7" fill="#7a7a7a" filter="url(#bl)"/>
<rect x="895.7" y="2163.47" width="35.6" height="4.05" rx="3.24" ry="2.03" fill="#b5b5b5" filter="url(#bl)"/>
<text x="763.9" y="2169.35" font-size="17" font-weight="bold" text-anchor="end" fill="#111">EED</text>
<line x1="941.3" y1="2165.5" x2="957.6" y2="2165.5" stroke="#111" stroke-width="1.6"/>
<text x="963.3" y="2170.5" font-size="17" font-weight="bold" fill="#111">55 KDa</text>
<rect x="773.3" y="2193.9" width="167.9" height="42.4" fill="#d3d3d3" stroke="#222" stroke-width="1.7"/>
<rect x="780.3" y="2212.28" width="32.9" height="9.45" rx="7.56" ry="4.73" fill="#1e1e1e" filter="url(#bl)"/>
<rect x="836.7" y="2210.59" width="40.9" height="12.83" rx="10.26" ry="6.41" fill="#0e0e0e" filter="url(#bl)"/>
<rect x="896.8" y="2211.26" width="37.2" height="11.48" rx="9.18" ry="5.74" fill="#111" filter="url(#bl)"/>
<text x="763.9" y="2221.3" font-size="17" font-weight="bold" text-anchor="end" fill="#111">p21</text>
<line x1="941.3" y1="2217" x2="957.6" y2="2217" stroke="#111" stroke-width="1.6"/>
<text x="963.3" y="2222" font-size="17" font-weight="bold" fill="#111">21 KDa</text>
<rect x="773.3" y="2244.4" width="167.9" height="43.5" fill="#d3d3d3" stroke="#222" stroke-width="1.7"/>
<rect x="779.2" y="2261.43" width="43.7" height="12.15" rx="9.72" ry="6.08" fill="#0e0e0e" filter="url(#bl)"/>
<rect x="836.7" y="2262.1" width="42" height="10.8" rx="8.64" ry="5.4" fill="#141414" filter="url(#bl)"/>
<rect x="893" y="2262.1" width="42" height="10.8" rx="8.64" ry="5.4" fill="#141414" filter="url(#bl)"/>
<text x="763.9" y="2272.35" font-size="17" font-weight="bold" text-anchor="end" fill="#111">GAPDH</text>
<line x1="941.3" y1="2267.5" x2="957.6" y2="2267.5" stroke="#111" stroke-width="1.6"/>
<text x="963.3" y="2272.5" font-size="17" font-weight="bold" fill="#111">36 KDa</text>
<rect x="773.3" y="2320" width="167.9" height="44.3" fill="#d3d3d3" stroke="#222" stroke-width="1.7"/>
<rect x="784" y="2339.81" width="41" height="8.78" rx="7.02" ry="4.39" fill="#2e2e2e" filter="url(#bl)"/>
<text x="763.9" y="2348.35" font-size="17" font-weight="bold" text-anchor="end" fill="#111">SUZ12</text>
<line x1="941.3" y1="2344.2" x2="957.6" y2="2344.2" stroke="#111" stroke-width="1.6"/>
<text x="963.3" y="2349.2" font-size="17" font-weight="bold" fill="#111">83 KDa</text>
<rect x="773.3" y="2373.2" width="167.9" height="43.5" fill="#d3d3d3" stroke="#222" stroke-width="1.7"/>
<rect x="785.7" y="2391.16" width="30.2" height="6.08" rx="4.86" ry="3.04" fill="#5e5e5e" filter="url(#bl)"/>
<rect x="837.7" y="2387.11" width="34.5" height="14.18" rx="11.34" ry="7.09" fill="#0e0e0e" filter="url(#bl)"/>
<rect x="887.7" y="2387.79" width="38.2" height="12.83" rx="10.26" ry="6.41" fill="#0e0e0e" filter="url(#bl)"/>
<text x="763.9" y="2401.15" font-size="17" font-weight="bold" text-anchor="end" fill="#111">p21</text>
<line x1="941.3" y1="2394.2" x2="957.6" y2="2394.2" stroke="#111" stroke-width="1.6"/>
<text x="963.3" y="2399.2" font-size="17" font-weight="bold" fill="#111">21 KDa</text>
<rect x="773.3" y="2425.2" width="167.9" height="43.5" fill="#d3d3d3" stroke="#222" stroke-width="1.7"/>
<rect x="785.7" y="2442.4" width="40.9" height="10.8" rx="8.64" ry="5.4" fill="#161616" filter="url(#bl)"/>
<rect x="835.6" y="2442.74" width="40.9" height="10.12" rx="8.1" ry="5.06" fill="#1a1a1a" filter="url(#bl)"/>
<rect x="885" y="2442.74" width="39.8" height="10.12" rx="8.1" ry="5.06" fill="#1a1a1a" filter="url(#bl)"/>
<text x="763.9" y="2453.15" font-size="17" font-weight="bold" text-anchor="end" fill="#111">GAPDH</text>
<line x1="941.3" y1="2447.8" x2="957.6" y2="2447.8" stroke="#111" stroke-width="1.6"/>
<text x="963.3" y="2452.8" font-size="17" font-weight="bold" fill="#111">36 KDa</text>
<text x="857.1" y="2488.5" font-size="17" font-weight="bold" text-anchor="middle" fill="#111">ISK</text>
<text x="1160.4" y="1953.1" font-size="17" font-weight="bold" text-anchor="middle" fill="#111">Scr</text>
<text x="1210.9" y="1953.1" font-size="17" font-weight="bold" text-anchor="middle" fill="#111">KD1</text>
<text x="1265.2" y="1953.1" font-size="17" font-weight="bold" text-anchor="middle" fill="#111">KD2</text>
<text x="1157.7" y="2133.2" font-size="17" font-weight="bold" text-anchor="middle" fill="#111">Scr</text>
<text x="1214.1" y="2133.2" font-size="17" font-weight="bold" text-anchor="middle" fill="#111">KD4</text>
<text x="1267.8" y="2133.2" font-size="17" font-weight="bold" text-anchor="middle" fill="#111">KD5</text>
<text x="1158.8" y="2312" font-size="17" font-weight="bold" text-anchor="middle" fill="#111">Scr</text>
<text x="1215.7" y="2312" font-size="17" font-weight="bold" text-anchor="middle" fill="#111">KD6</text>
<text x="1269.4" y="2312" font-size="17" font-weight="bold" text-anchor="middle" fill="#111">KD7</text>
<rect x="1129.8" y="1961" width="167.7" height="42.6" fill="#d3d3d3" stroke="#222" stroke-width="1.7"/>
<rect x="1144.5" y="1976.19" width="37.4" height="12.83" rx="10.26" ry="6.41" fill="#0e0e0e" filter="url(#bl)"/>
<text x="1121" y="1988.5" font-size="17" font-weight="bold" text-anchor="end" fill="#111">EZH2</text>
<line x1="1297.3" y1="1982.6" x2="1313.3" y2="1982.6" stroke="#111" stroke-width="1.6"/>
<text x="1319.2" y="1987.6" font-size="17" font-weight="bold" fill="#111">98 KDa</text>
<rect x="1129.8" y="2012.7" width="167.7" height="42.7" fill="#d3d3d3" stroke="#222" stroke-width="1.7"/>
<rect x="1142.5" y="2035.77" width="35" height="4.05" rx="3.24" ry="2.03" fill="#8a8a8a" filter="url(#bl)"/>
<rect x="1191.7" y="2032.4" width="42" height="10.8" rx="8.64" ry="5.4" fill="#111" filter="url(#bl)"/>
<rect x="1242.9" y="2031.72" width="45.9" height="12.15" rx="9.72" ry="6.08" fill="#0c0c0c" filter="url(#bl)"/>
<text x="1121" y="2040.25" font-size="17" font-weight="bold" text-anchor="end" fill="#111">p21</text>
<line x1="1297.3" y1="2037.8" x2="1313.3" y2="2037.8" stroke="#111" stroke-width="1.6"/>
<text x="1319.2" y="2042.8" font-size="17" font-weight="bold" fill="#111">21 KDa</text>
<rect x="1129.8" y="2065.5" width="167.7" height="42.2" fill="#d3d3d3" stroke="#222" stroke-width="1.7"/>
<rect x="1144.5" y="2082.97" width="40.8" height="9.45" rx="7.56" ry="4.73" fill="#161616" filter="url(#bl)"/>
<rect x="1192.4" y="2083.65" width="42" height="8.1" rx="6.48" ry="4.05" fill="#1e1e1e" filter="url(#bl)"/>
<rect x="1242.9" y="2083.31" width="44.6" height="8.78" rx="7.02" ry="4.39" fill="#1e1e1e" filter="url(#bl)"/>
<text x="1121" y="2092.8" font-size="17" font-weight="bold" text-anchor="end" fill="#111">GAPDH</text>
<line x1="1297.3" y1="2087.7" x2="1313.3" y2="2087.7" stroke="#111" stroke-width="1.6"/>
<text x="1319.2" y="2092.7" font-size="17" font-weight="bold" fill="#111">36 KDa</text>
<rect x="1129.8" y="2142.9" width="167.7" height="41.9" fill="#d3d3d3" stroke="#222" stroke-width="1.7"/>
<rect x="1141.5" y="2160.78" width="36.7" height="9.45" rx="7.56" ry="4.73" fill="#1e1e1e" filter="url(#bl)"/>
<rect x="1204.4" y="2162.12" width="26.4" height="6.75" rx="5.4" ry="3.38" fill="#404040" filter="url(#bl)"/>
<rect x="1254.3" y="2162.12" width="31.3" height="6.75" rx="5.4" ry="3.38" fill="#4a4a4a" filter="url(#bl)"/>
<text x="1121" y="2170.05" font-size="17" font-weight="bold" text-anchor="end" fill="#111">EED</text>
<line x1="1297.3" y1="2165.5" x2="1313.3" y2="2165.5" stroke="#111" stroke-width="1.6"/>
<text x="1319.2" y="2170.5" font-size="17" font-weight="bold" fill="#111">55 KDa</text>
<rect x="1129.8" y="2193.9" width="167.7" height="43" fill="#d3d3d3" stroke="#222" stroke-width="1.7"/>
<rect x="1146.9" y="2212.03" width="28.6" height="6.75" rx="5.4" ry="3.38" fill="#2e2e2e" filter="url(#bl)"/>
<rect x="1193.6" y="2206.96" width="37.2" height="16.88" rx="13.5" ry="8.44" fill="#050505" filter="url(#bl)"/>
<rect x="1241.9" y="2206.96" width="38.3" height="16.88" rx="13.5" ry="8.44" fill="#050505" filter="url(#bl)"/>
<text x="1121" y="2221.6" font-size="17" font-weight="bold" text-anchor="end" fill="#111">p21</text>
<line x1="1297.3" y1="2215.4" x2="1313.3" y2="2215.4" stroke="#111" stroke-width="1.6"/>
<text x="1319.2" y="2220.4" font-size="17" font-weight="bold" fill="#111">21 KDa</text>
<rect x="1129.8" y="2244.9" width="167.7" height="43" fill="#d3d3d3" stroke="#222" stroke-width="1.7"/>
<rect x="1148" y="2263.03" width="31.3" height="6.75" rx="5.4" ry="3.38" fill="#2e2e2e" filter="url(#bl)"/>
<rect x="1195.2" y="2263.03" width="32.4" height="6.75" rx="5.4" ry="3.38" fill="#333" filter="url(#bl)"/>
<rect x="1241.9" y="2262.35" width="35.6" height="8.1" rx="6.48" ry="4.05" fill="#2e2e2e" filter="url(#bl)"/>
<text x="1121" y="2272.6" font-size="17" font-weight="bold" text-anchor="end" fill="#111">GAPDH</text>
<line x1="1297.3" y1="2266.4" x2="1313.3" y2="2266.4" stroke="#111" stroke-width="1.6"/>
<text x="1319.2" y="2271.4" font-size="17" font-weight="bold" fill="#111">36 KDa</text>
<rect x="1129.8" y="2320" width="167.7" height="44.6" fill="#d3d3d3" stroke="#222" stroke-width="1.7"/>
<rect x="1143.7" y="2336.53" width="40.9" height="12.15" rx="9.72" ry="6.08" fill="#0e0e0e" filter="url(#bl)"/>
<rect x="1193.6" y="2339.22" width="37.2" height="6.75" rx="5.4" ry="3.38" fill="#3e3e3e" filter="url(#bl)"/>
<rect x="1241.9" y="2339.22" width="38.3" height="6.75" rx="5.4" ry="3.38" fill="#444" filter="url(#bl)"/>
<text x="1121" y="2348.5" font-size="17" font-weight="bold" text-anchor="end" fill="#111">SUZ12</text>
<line x1="1297.3" y1="2342.6" x2="1313.3" y2="2342.6" stroke="#111" stroke-width="1.6"/>
<text x="1319.2" y="2347.6" font-size="17" font-weight="bold" fill="#111">83 KDa</text>
<rect x="1129.8" y="2373.8" width="167.7" height="42.9" fill="#d3d3d3" stroke="#222" stroke-width="1.7"/>
<rect x="1143.7" y="2393.17" width="31.8" height="4.05" rx="3.24" ry="2.03" fill="#a0a0a0" filter="url(#bl)"/>
<rect x="1188.2" y="2388.79" width="48" height="12.83" rx="10.26" ry="6.41" fill="#0e0e0e" filter="url(#bl)"/>
<rect x="1241.9" y="2389.46" width="46.3" height="11.48" rx="9.18" ry="5.74" fill="#141414" filter="url(#bl)"/>
<text x="1121" y="2401.45" font-size="17" font-weight="bold" text-anchor="end" fill="#111">p21</text>
<line x1="1297.3" y1="2395.2" x2="1313.3" y2="2395.2" stroke="#111" stroke-width="1.6"/>
<text x="1319.2" y="2400.2" font-size="17" font-weight="bold" fill="#111">21 KDa</text>
<rect x="1129.8" y="2424.7" width="167.7" height="43.5" fill="#d3d3d3" stroke="#222" stroke-width="1.7"/>
<rect x="1143.7" y="2441.47" width="42.5" height="9.45" rx="7.56" ry="4.73" fill="#161616" filter="url(#bl)"/>
<rect x="1192" y="2441.81" width="44.2" height="8.78" rx="7.02" ry="4.39" fill="#1a1a1a" filter="url(#bl)"/>
<rect x="1241.9" y="2441.81" width="44.7" height="8.78" rx="7.02" ry="4.39" fill="#1a1a1a" filter="url(#bl)"/>
<text x="1121" y="2452.65" font-size="17" font-weight="bold" text-anchor="end" fill="#111">GAPDH</text>
<line x1="1297.3" y1="2446.2" x2="1313.3" y2="2446.2" stroke="#111" stroke-width="1.6"/>
<text x="1319.2" y="2451.2" font-size="17" font-weight="bold" fill="#111">36 KDa</text>
<text x="1214.1" y="2488.5" font-size="17" font-weight="bold" text-anchor="middle" fill="#111">KLE</text>
</svg>
</body></html>
